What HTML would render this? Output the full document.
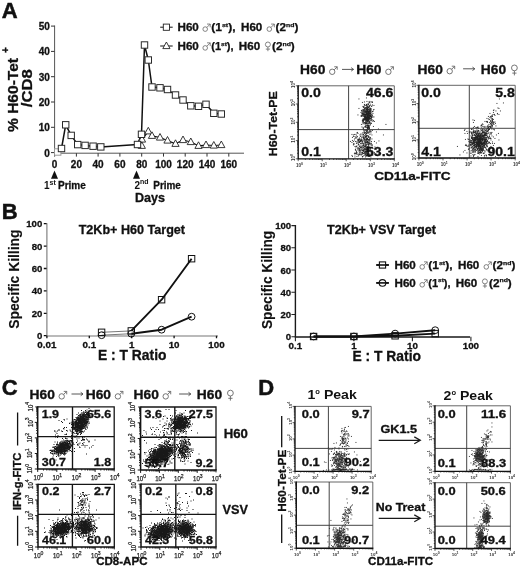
<!DOCTYPE html>
<html><head><meta charset="utf-8"><title>Figure</title>
<style>html,body{margin:0;padding:0;background:#fff}svg{display:block;filter:grayscale(1) blur(0.35px)}text{font-family:"Liberation Sans",sans-serif}</style></head>
<body>
<svg width="520" height="566" viewBox="0 0 520 566" font-family="Liberation Sans, sans-serif" font-weight="bold">
<rect width="520" height="566" fill="#fff"/>
<text x="1.8" y="17.6" font-size="22" font-weight="bold" fill="#111" stroke="#111" stroke-width="0.5" >A</text>
<text x="1.8" y="218.6" font-size="22" font-weight="bold" fill="#111" stroke="#111" stroke-width="0.5" >B</text>
<text x="1.8" y="395.2" font-size="22" font-weight="bold" fill="#111" stroke="#111" stroke-width="0.5" >C</text>
<text x="258.3" y="395.2" font-size="22" font-weight="bold" fill="#111" stroke="#111" stroke-width="0.5" >D</text>
<path d="M54.6 25.5V153.2M54.1 153.2H244" stroke="#555" stroke-width="1" fill="none"/>
<path d="M54.6 152.6h-3.6M54.6 127.3h-3.6M54.6 102.0h-3.6M54.6 76.7h-3.6M54.6 51.4h-3.6M54.6 26.1h-3.6M54.6 153.2v3.4M76.4 153.2v3.4M98.1 153.2v3.4M119.9 153.2v3.4M141.7 153.2v3.4M163.5 153.2v3.4M185.2 153.2v3.4M207.0 153.2v3.4M228.8 153.2v3.4" stroke="#333" stroke-width="1" fill="none"/>
<text x="49.8" y="156.5" font-size="10" font-weight="bold" fill="#111" stroke="#111" stroke-width="0.3" text-anchor="end" >0</text>
<text x="49.8" y="131.2" font-size="10" font-weight="bold" fill="#111" stroke="#111" stroke-width="0.3" text-anchor="end" >10</text>
<text x="49.8" y="105.9" font-size="10" font-weight="bold" fill="#111" stroke="#111" stroke-width="0.3" text-anchor="end" >20</text>
<text x="49.8" y="80.6" font-size="10" font-weight="bold" fill="#111" stroke="#111" stroke-width="0.3" text-anchor="end" >30</text>
<text x="49.8" y="55.3" font-size="10" font-weight="bold" fill="#111" stroke="#111" stroke-width="0.3" text-anchor="end" >40</text>
<text x="49.8" y="30.0" font-size="10" font-weight="bold" fill="#111" stroke="#111" stroke-width="0.3" text-anchor="end" >50</text>
<text x="54.6" y="167.8" font-size="10" font-weight="bold" fill="#111" stroke="#111" stroke-width="0.3" text-anchor="middle" >0</text>
<text x="76.4" y="167.8" font-size="10" font-weight="bold" fill="#111" stroke="#111" stroke-width="0.3" text-anchor="middle" >20</text>
<text x="98.1" y="167.8" font-size="10" font-weight="bold" fill="#111" stroke="#111" stroke-width="0.3" text-anchor="middle" >40</text>
<text x="119.9" y="167.8" font-size="10" font-weight="bold" fill="#111" stroke="#111" stroke-width="0.3" text-anchor="middle" >60</text>
<text x="141.7" y="167.8" font-size="10" font-weight="bold" fill="#111" stroke="#111" stroke-width="0.3" text-anchor="middle" >80</text>
<text x="163.5" y="167.8" font-size="10" font-weight="bold" fill="#111" stroke="#111" stroke-width="0.3" text-anchor="middle" >100</text>
<text x="185.2" y="167.8" font-size="10" font-weight="bold" fill="#111" stroke="#111" stroke-width="0.3" text-anchor="middle" >120</text>
<text x="207.0" y="167.8" font-size="10" font-weight="bold" fill="#111" stroke="#111" stroke-width="0.3" text-anchor="middle" >140</text>
<text x="228.8" y="167.8" font-size="10" font-weight="bold" fill="#111" stroke="#111" stroke-width="0.3" text-anchor="middle" >160</text>
<text x="17.6" y="132" font-size="15.3" font-weight="bold" fill="#111" stroke="#111" stroke-width="0.3" textLength="74" lengthAdjust="spacingAndGlyphs" transform="rotate(-90 17.6 132)" >% H60-Tet</text>
<text x="9" y="53" font-size="10" font-weight="bold" fill="#111" stroke="#111" stroke-width="0.3" transform="rotate(-90 9 53)" >+</text>
<text x="32.3" y="107.2" font-size="15" font-weight="bold" fill="#111" stroke="#111" stroke-width="0.3" textLength="38" lengthAdjust="spacingAndGlyphs" transform="rotate(-90 32.3 107.2)" >/CD8</text>
<polyline points="57.7,152 61.5,148.5 65.7,124.8 71.2,135.4 77.7,144.6 85.1,145.4 93.1,146.2 100.8,146.9 137.5,144.5 141.5,134.3 144.5,45 148.3,60 152,87 160,87.8 167.5,89.5 175.5,95 183,100 190.8,105.8 198.5,106.3 206,104.3 213.8,113.3 221.3,114" fill="none" stroke="#111" stroke-width="1.5" stroke-linejoin="round"/>
<polyline points="142,139.5 148.3,131.3 152,135.8 160,137.5 167.5,140.5 175.5,143.8 183,140 190.8,142 198.5,145.8 206,145 213.8,145.5 221.3,145" fill="none" stroke="#111" stroke-width="1.25" stroke-linejoin="round"/>
<path d="M141.8 141.8L145.4 148.4H138.20000000000002Z" fill="#fff" stroke="#222" stroke-width="0.9"/>
<path d="M142 135.5L145.6 142.1H138.4Z" fill="#fff" stroke="#222" stroke-width="0.9"/>
<path d="M148.3 127.30000000000001L151.9 133.9H144.70000000000002Z" fill="#fff" stroke="#222" stroke-width="0.9"/>
<path d="M152 131.8L155.6 138.4H148.4Z" fill="#fff" stroke="#222" stroke-width="0.9"/>
<path d="M160 133.5L163.6 140.1H156.4Z" fill="#fff" stroke="#222" stroke-width="0.9"/>
<path d="M167.5 136.5L171.1 143.1H163.9Z" fill="#fff" stroke="#222" stroke-width="0.9"/>
<path d="M175.5 139.8L179.1 146.4H171.9Z" fill="#fff" stroke="#222" stroke-width="0.9"/>
<path d="M183 136L186.6 142.6H179.4Z" fill="#fff" stroke="#222" stroke-width="0.9"/>
<path d="M190.8 138L194.4 144.6H187.20000000000002Z" fill="#fff" stroke="#222" stroke-width="0.9"/>
<path d="M198.5 141.8L202.1 148.4H194.9Z" fill="#fff" stroke="#222" stroke-width="0.9"/>
<path d="M206 141L209.6 147.6H202.4Z" fill="#fff" stroke="#222" stroke-width="0.9"/>
<path d="M213.8 141.5L217.4 148.1H210.20000000000002Z" fill="#fff" stroke="#222" stroke-width="0.9"/>
<path d="M221.3 141L224.9 147.6H217.70000000000002Z" fill="#fff" stroke="#222" stroke-width="0.9"/>
<rect x="54.5" y="148.8" width="6.4" height="6.4" fill="#fff" stroke="#999" stroke-width="1"/>
<rect x="58.3" y="145.3" width="6.4" height="6.4" fill="#fff" stroke="#2a2a2a" stroke-width="1"/>
<rect x="62.5" y="121.6" width="6.4" height="6.4" fill="#fff" stroke="#2a2a2a" stroke-width="1"/>
<rect x="68.0" y="132.20000000000002" width="6.4" height="6.4" fill="#fff" stroke="#2a2a2a" stroke-width="1"/>
<rect x="74.5" y="141.4" width="6.4" height="6.4" fill="#fff" stroke="#2a2a2a" stroke-width="1"/>
<rect x="81.89999999999999" y="142.20000000000002" width="6.4" height="6.4" fill="#fff" stroke="#2a2a2a" stroke-width="1"/>
<rect x="89.89999999999999" y="143.0" width="6.4" height="6.4" fill="#fff" stroke="#2a2a2a" stroke-width="1"/>
<rect x="97.6" y="143.70000000000002" width="6.4" height="6.4" fill="#fff" stroke="#2a2a2a" stroke-width="1"/>
<rect x="134.3" y="141.3" width="6.4" height="6.4" fill="#fff" stroke="#2a2a2a" stroke-width="1"/>
<rect x="138.3" y="131.10000000000002" width="6.4" height="6.4" fill="#fff" stroke="#2a2a2a" stroke-width="1"/>
<rect x="141.3" y="41.8" width="6.4" height="6.4" fill="#fff" stroke="#2a2a2a" stroke-width="1"/>
<rect x="145.10000000000002" y="56.8" width="6.4" height="6.4" fill="#fff" stroke="#2a2a2a" stroke-width="1"/>
<rect x="148.8" y="83.8" width="6.4" height="6.4" fill="#fff" stroke="#2a2a2a" stroke-width="1"/>
<rect x="156.8" y="84.6" width="6.4" height="6.4" fill="#fff" stroke="#2a2a2a" stroke-width="1"/>
<rect x="164.3" y="86.3" width="6.4" height="6.4" fill="#fff" stroke="#2a2a2a" stroke-width="1"/>
<rect x="172.3" y="91.8" width="6.4" height="6.4" fill="#fff" stroke="#2a2a2a" stroke-width="1"/>
<rect x="179.8" y="96.8" width="6.4" height="6.4" fill="#fff" stroke="#2a2a2a" stroke-width="1"/>
<rect x="187.60000000000002" y="102.6" width="6.4" height="6.4" fill="#fff" stroke="#2a2a2a" stroke-width="1"/>
<rect x="195.3" y="103.1" width="6.4" height="6.4" fill="#fff" stroke="#2a2a2a" stroke-width="1"/>
<rect x="202.8" y="101.1" width="6.4" height="6.4" fill="#fff" stroke="#2a2a2a" stroke-width="1"/>
<rect x="210.60000000000002" y="110.1" width="6.4" height="6.4" fill="#fff" stroke="#2a2a2a" stroke-width="1"/>
<rect x="218.10000000000002" y="110.8" width="6.4" height="6.4" fill="#fff" stroke="#2a2a2a" stroke-width="1"/>
<path d="M54.5 170.6L58.0 178.8H51.0Z" fill="#111"/>
<path d="M136.5 170.6L140.0 178.8H133.0Z" fill="#111"/>
<text x="44" y="188.8" font-size="10" fill="#111">1<tspan dy="-4.2" font-size="7">st</tspan></text>
<text x="58" y="188.8" font-size="10" font-weight="bold" fill="#111" stroke="#111" stroke-width="0.3" textLength="27.8" lengthAdjust="spacingAndGlyphs" >Prime</text>
<text x="134.5" y="188.6" font-size="10" fill="#111">2<tspan dy="-4.2" font-size="7">nd</tspan></text>
<text x="153.3" y="188.6" font-size="10" font-weight="bold" fill="#111" stroke="#111" stroke-width="0.3" textLength="27.6" lengthAdjust="spacingAndGlyphs" >Prime</text>
<text x="135" y="201.5" font-size="12" font-weight="bold" fill="#111" stroke="#111" stroke-width="0.3" textLength="30" lengthAdjust="spacingAndGlyphs" >Days</text>
<path d="M160.2 27.2H172.7" stroke="#111" stroke-width="1"/>
<rect x="163.29999999999998" y="24.099999999999998" width="6.2" height="6.2" fill="#fff" stroke="#222" stroke-width="0.9"/>
<text x="177.5" y="30.9" font-size="10.3" font-weight="bold" fill="#111" stroke="#111" stroke-width="0.3" textLength="21.3" lengthAdjust="spacingAndGlyphs" >H60</text>
<g fill="none" stroke="#666" stroke-width="0.8"><circle cx="205.2" cy="29.099999999999998" r="2.3"/><path d="M206.83 27.47L210.23 24.07M207.00 24.07H210.23V27.30"/></g>
<text x="211.2" y="30.9" font-size="10.3" fill="#111" stroke="#111" stroke-width="0.25" textLength="24.4" lengthAdjust="spacingAndGlyphs">(1<tspan dy="-4.2" font-size="6">st</tspan><tspan dy="4.2">),</tspan></text>
<text x="241.0" y="30.9" font-size="10.3" font-weight="bold" fill="#111" stroke="#111" stroke-width="0.3" textLength="21.3" lengthAdjust="spacingAndGlyphs" >H60</text>
<g fill="none" stroke="#666" stroke-width="0.8"><circle cx="269.3" cy="29.099999999999998" r="2.3"/><path d="M270.93 27.47L274.33 24.07M271.10 24.07H274.33V27.30"/></g>
<text x="275.6" y="30.9" font-size="10.3" fill="#111" stroke="#111" stroke-width="0.25" textLength="22.8" lengthAdjust="spacingAndGlyphs">(2<tspan dy="-4.2" font-size="6">nd</tspan><tspan dy="4.2">)</tspan></text>
<path d="M160.2 46H172.7" stroke="#111" stroke-width="1"/>
<path d="M166.39999999999998 42L169.99999999999997 48.6H162.79999999999998Z" fill="#fff" stroke="#222" stroke-width="0.9"/>
<text x="177.5" y="49.7" font-size="10.3" font-weight="bold" fill="#111" stroke="#111" stroke-width="0.3" textLength="21.3" lengthAdjust="spacingAndGlyphs" >H60</text>
<g fill="none" stroke="#666" stroke-width="0.8"><circle cx="205.2" cy="47.900000000000006" r="2.3"/><path d="M206.83 46.27L210.23 42.87M207.00 42.87H210.23V46.10"/></g>
<text x="211.2" y="49.7" font-size="10.3" fill="#111" stroke="#111" stroke-width="0.25" textLength="22.4" lengthAdjust="spacingAndGlyphs">(1<tspan dy="-4.2" font-size="6">st</tspan><tspan dy="4.2">),</tspan></text>
<text x="238.8" y="49.7" font-size="10.3" font-weight="bold" fill="#111" stroke="#111" stroke-width="0.3" textLength="21.3" lengthAdjust="spacingAndGlyphs" >H60</text>
<g fill="none" stroke="#666" stroke-width="0.8"><circle cx="267.9" cy="44.5" r="2.5"/><path d="M267.9 47.0V51.2M265.79999999999995 49.10H270.0"/></g>
<text x="272.0" y="49.7" font-size="10.3" fill="#111" stroke="#111" stroke-width="0.25" textLength="22.8" lengthAdjust="spacingAndGlyphs">(2<tspan dy="-4.2" font-size="6">nd</tspan><tspan dy="4.2">)</tspan></text>
<text x="300" y="74.2" font-size="12" font-weight="bold" fill="#111" stroke="#111" stroke-width="0.3" textLength="25.3" lengthAdjust="spacingAndGlyphs" >H60</text>
<g fill="none" stroke="#666" stroke-width="0.9"><circle cx="332.2" cy="71.8" r="2.7"/><path d="M334.11 69.89L337.21 66.79M334.26 66.79H337.21V69.74"/></g>
<path d="M342 69.4H353.5M351.2 67.7L353.5 69.4L351.2 71.10000000000001" fill="none" stroke="#444" stroke-width="0.9"/>
<text x="356.2" y="74.2" font-size="12" font-weight="bold" fill="#111" stroke="#111" stroke-width="0.3" textLength="25.3" lengthAdjust="spacingAndGlyphs" >H60</text>
<g fill="none" stroke="#666" stroke-width="0.9"><circle cx="388.4" cy="71.8" r="2.7"/><path d="M390.31 69.89L393.41 66.79M390.46 66.79H393.41V69.74"/></g>
<text x="417.5" y="73.6" font-size="12" font-weight="bold" fill="#111" stroke="#111" stroke-width="0.3" textLength="25.3" lengthAdjust="spacingAndGlyphs" >H60</text>
<g fill="none" stroke="#666" stroke-width="0.9"><circle cx="449.7" cy="71.19999999999999" r="2.7"/><path d="M451.61 69.29L454.71 66.19M451.76 66.19H454.71V69.14"/></g>
<path d="M463.1 68.8H474.8M472.5 67.1L474.8 68.8L472.5 70.5" fill="none" stroke="#444" stroke-width="0.9"/>
<text x="480.8" y="73.6" font-size="12" font-weight="bold" fill="#111" stroke="#111" stroke-width="0.3" textLength="25.3" lengthAdjust="spacingAndGlyphs" >H60</text>
<g fill="none" stroke="#666" stroke-width="0.9"><circle cx="514.4" cy="67.89999999999999" r="2.9"/><path d="M514.4 70.8V75.39999999999999M512.3 73.10H516.5"/></g>
<rect x="298.2" y="85.8" width="96.10000000000002" height="73.00000000000001" fill="#fff" stroke="none"/>
<path transform="translate(0.45 0.45) scale(.5)" d="M700 282h0m3-14h0m0 16h0m0 26h0m1-36h0m0 6h0m0 32h0m2-43h0m0 3h0m0 10h0m0 5h0m0 2h0m1-3h0m0 2h0m1-20h0m0 11h0m0 27h0m1-34h0m0 4h0m0 16h0m0 13h0m0 4h0m0 4h0m1-31h0m0 16h0m0 1h0m0 7h0m1-38h0m0 6h0m0 1h0m0 17h0m0 3h0m0 5h0m0 6h0m1-35h0m0 12h0m0 3h0m0 6h0m0 10h0m0 2h0m0 2h0m1-41h0m0 10h0m0 16h0m0 13h0m0 4h0m0 4h0m1-48h0m0 8h0m0 7h0m0 6h0m1-56h0m0 37h0m0 13h0m0 3h0m0 12h0m0 2h0m0 1h0m0 2h0m0 8h0m1-29h0m0 1h0m0 1h0m0 3h0m0 4h0m0 1h0m0 1h0m0 20h0m0 2h0m1-114h0m0 19h0m0 61h0m0 3h0m0 4h0m0 11h0m0 2h0m0 4h0m1-26h0m0 3h0m0 5h0m0 1h0m0 8h0m0 4h0m0 2h0m0 2h0m0 3h0m0 2h0m0 3h0m1-39h0m0 8h0m0 4h0m0 1h0m0 1h0m0 6h0m0 2h0m0 9h0m0 7h0m0 2h0m1-37h0m0 7h0m0 1h0m0 2h0m0 4h0m0 7h0m0 1h0m0 1h0m0 4h0m0 4h0m1-79h0m0 7h0m0 36h0m0 2h0m0 12h0m0 20h0m0 4h0m0 3h0m1-88h0m0 10h0m0 2h0m0 16h0m0 29h0m0 2h0m0 1h0m0 1h0m0 12h0m0 1h0m0 3h0m0 2h0m0 10h0m1-89h0m0 2h0m0 3h0m0 1h0m0 3h0m0 24h0m0 20h0m0 1h0m0 4h0m0 3h0m0 4h0m0 1h0m0 1h0m0 4h0m0 13h0m0 3h0m1-103h0m0 19h0m0 3h0m0 2h0m0 2h0m0 9h0m0 1h0m0 3h0m0 22h0m0 17h0m0 3h0m0 6h0m0 4h0m0 5h0m0 4h0m0 1h0m0 2h0m0 5h0m0 1h0m1-101h0m0 6h0m0 2h0m0 5h0m0 1h0m0 6h0m0 5h0m0 4h0m0 2h0m0 4h0m0 8h0m0 13h0m0 3h0m0 9h0m0 3h0m0 10h0m0 4h0m0 2h0m0 1h0m0 1h0m0 4h0m0 7h0m1-99h0m0 1h0m0 5h0m0 2h0m0 2h0m0 4h0m0 1h0m0 1h0m0 2h0m0 7h0m0 1h0m0 1h0m0 2h0m0 3h0m0 11h0m0 2h0m0 10h0m0 1h0m0 4h0m0 1h0m0 2h0m0 11h0m0 2h0m0 1h0m0 1h0m0 3h0m0 5h0m0 1h0m0 2h0m0 4h0m1-94h0m0 6h0m0 2h0m0 2h0m0 2h0m0 2h0m0 1h0m0 1h0m0 1h0m0 2h0m0 5h0m0 1h0m0 2h0m0 6h0m0 9h0m0 6h0m0 3h0m0 2h0m0 8h0m0 2h0m0 2h0m0 2h0m0 7h0m0 1h0m0 3h0m0 7h0m0 9h0m0 4h0m1-107h0m0 5h0m0 1h0m0 7h0m0 3h0m0 2h0m0 7h0m0 1h0m0 2h0m0 1h0m0 1h0m0 2h0m0 3h0m0 1h0m0 5h0m0 15h0m0 4h0m0 2h0m0 12h0m0 2h0m0 4h0m0 9h0m0 3h0m0 3h0m0 3h0m0 3h0m1-94h0m0 4h0m0 1h0m0 2h0m0 1h0m0 3h0m0 1h0m0 1h0m0 1h0m0 1h0m0 2h0m0 1h0m0 1h0m0 2h0m0 1h0m0 1h0m0 1h0m0 1h0m0 1h0m0 1h0m0 1h0m0 7h0m0 2h0m0 5h0m0 13h0m0 1h0m0 4h0m0 1h0m0 3h0m0 2h0m0 2h0m0 1h0m0 2h0m0 2h0m0 6h0m0 3h0m0 4h0m0 1h0m0 4h0m0 2h0m0 3h0m0 1h0m0 2h0m1-94h0m0 6h0m0 2h0m0 2h0m0 3h0m0 1h0m0 2h0m0 1h0m0 1h0m0 1h0m0 1h0m0 1h0m0 1h0m0 1h0m0 1h0m0 6h0m0 1h0m0 1h0m0 5h0m0 1h0m0 6h0m0 5h0m0 4h0m0 4h0m0 1h0m0 10h0m0 1h0m0 3h0m0 3h0m0 2h0m0 3h0m0 3h0m0 3h0m0 1h0m0 1h0m0 2h0m0 2h0m0 2h0m0 4h0m1-103h0m0 5h0m0 1h0m0 3h0m0 2h0m0 1h0m0 1h0m0 5h0m0 1h0m0 1h0m0 1h0m0 3h0m0 1h0m0 3h0m0 2h0m0 1h0m0 1h0m0 1h0m0 1h0m0 1h0m0 5h0m0 1h0m0 1h0m0 2h0m0 6h0m0 13h0m0 1h0m0 4h0m0 2h0m0 1h0m0 3h0m0 2h0m0 2h0m0 4h0m0 3h0m0 3h0m0 6h0m0 4h0m0 3h0m1-116h0m0 13h0m0 1h0m0 5h0m0 1h0m0 3h0m0 1h0m0 3h0m0 1h0m0 1h0m0 1h0m0 1h0m0 1h0m0 1h0m0 1h0m0 4h0m0 1h0m0 1h0m0 1h0m0 1h0m0 1h0m0 2h0m0 1h0m0 5h0m0 1h0m0 11h0m0 3h0m0 1h0m0 4h0m0 1h0m0 3h0m0 1h0m0 1h0m0 5h0m0 1h0m0 6h0m0 5h0m0 2h0m0 3h0m0 1h0m0 3h0m0 3h0m0 1h0m0 1h0m0 2h0m0 5h0m0 1h0m1-109h0m0 6h0m0 2h0m0 1h0m0 1h0m0 4h0m0 2h0m0 2h0m0 1h0m0 1h0m0 1h0m0 3h0m0 1h0m0 1h0m0 1h0m0 2h0m0 1h0m0 1h0m0 1h0m0 1h0m0 1h0m0 2h0m0 1h0m0 4h0m0 1h0m0 1h0m0 1h0m0 4h0m0 4h0m0 6h0m0 4h0m0 1h0m0 1h0m0 6h0m0 3h0m0 1h0m0 1h0m0 2h0m0 1h0m0 2h0m0 1h0m0 5h0m0 8h0m0 1h0m0 2h0m0 2h0m0 3h0m0 2h0m0 3h0m0 1h0m1-98h0m0 2h0m0 1h0m0 1h0m0 1h0m0 1h0m0 1h0m0 1h0m0 1h0m0 1h0m0 1h0m0 2h0m0 1h0m0 1h0m0 2h0m0 1h0m0 1h0m0 1h0m0 1h0m0 1h0m0 1h0m0 1h0m0 1h0m0 1h0m0 1h0m0 1h0m0 1h0m0 1h0m0 7h0m0 1h0m0 3h0m0 1h0m0 1h0m0 1h0m0 2h0m0 2h0m0 3h0m0 7h0m0 6h0m0 1h0m0 1h0m0 4h0m0 1h0m0 1h0m0 3h0m0 6h0m0 1h0m0 1h0m0 2h0m0 1h0m0 2h0m0 2h0m0 1h0m0 2h0m0 5h0m1-103h0m0 10h0m0 4h0m0 1h0m0 1h0m0 1h0m0 1h0m0 3h0m0 1h0m0 1h0m0 1h0m0 1h0m0 1h0m0 1h0m0 1h0m0 2h0m0 1h0m0 1h0m0 1h0m0 2h0m0 4h0m0 1h0m0 3h0m0 1h0m0 2h0m0 2h0m0 2h0m0 1h0m0 4h0m0 2h0m0 14h0m0 4h0m0 2h0m0 1h0m0 7h0m0 1h0m0 3h0m0 6h0m0 1h0m0 1h0m0 2h0m0 4h0m0 2h0m1-105h0m0 1h0m0 5h0m0 1h0m0 1h0m0 3h0m0 1h0m0 3h0m0 1h0m0 1h0m0 1h0m0 1h0m0 1h0m0 1h0m0 1h0m0 2h0m0 2h0m0 1h0m0 1h0m0 1h0m0 2h0m0 1h0m0 1h0m0 1h0m0 4h0m0 5h0m0 1h0m0 1h0m0 1h0m0 1h0m0 1h0m0 3h0m0 7h0m0 6h0m0 1h0m0 2h0m0 4h0m0 7h0m0 2h0m0 1h0m0 1h0m0 2h0m0 7h0m0 1h0m0 1h0m0 2h0m0 1h0m0 1h0m0 2h0m0 1h0m0 5h0m1-109h0m0 8h0m0 3h0m0 5h0m0 2h0m0 2h0m0 1h0m0 1h0m0 1h0m0 1h0m0 1h0m0 1h0m0 1h0m0 1h0m0 1h0m0 1h0m0 1h0m0 1h0m0 1h0m0 1h0m0 1h0m0 4h0m0 3h0m0 2h0m0 3h0m0 4h0m0 1h0m0 1h0m0 9h0m0 7h0m0 7h0m0 1h0m0 1h0m0 3h0m0 1h0m0 4h0m0 3h0m0 3h0m0 1h0m0 2h0m0 2h0m0 2h0m0 1h0m0 7h0m0 1h0m1-107h0m0 7h0m0 1h0m0 5h0m0 4h0m0 1h0m0 1h0m0 2h0m0 1h0m0 1h0m0 2h0m0 1h0m0 3h0m0 1h0m0 1h0m0 1h0m0 1h0m0 4h0m0 1h0m0 2h0m0 1h0m0 6h0m0 2h0m0 2h0m0 1h0m0 3h0m0 2h0m0 2h0m0 12h0m0 3h0m0 5h0m0 3h0m0 1h0m0 20h0m0 5h0m1-110h0m0 3h0m0 5h0m0 5h0m0 2h0m0 1h0m0 1h0m0 1h0m0 1h0m0 1h0m0 2h0m0 2h0m0 3h0m0 1h0m0 1h0m0 1h0m0 1h0m0 3h0m0 2h0m0 6h0m0 2h0m0 17h0m0 5h0m0 7h0m0 2h0m0 3h0m0 7h0m0 10h0m0 2h0m0 2h0m0 11h0m1-103h0m0 7h0m0 1h0m0 2h0m0 3h0m0 3h0m0 1h0m0 1h0m0 2h0m0 1h0m0 1h0m0 1h0m0 4h0m0 11h0m0 2h0m0 12h0m0 13h0m0 3h0m0 18h0m0 2h0m1-78h0m0 1h0m0 3h0m0 2h0m0 2h0m0 5h0m0 1h0m0 2h0m0 1h0m0 1h0m0 3h0m0 1h0m0 4h0m0 16h0m0 1h0m0 3h0m0 18h0m0 3h0m0 1h0m0 2h0m0 6h0m0 7h0m0 3h0m0 8h0m1-110h0m0 9h0m0 5h0m0 12h0m0 2h0m0 2h0m0 1h0m0 3h0m0 2h0m0 7h0m0 36h0m0 5h0m0 18h0m1-94h0m0 12h0m0 5h0m0 4h0m0 2h0m0 35h0m0 8h0m0 13h0m0 17h0m1-104h0m0 1h0m0 5h0m0 13h0m0 8h0m0 9h0m0 21h0m0 29h0m0 15h0m0 5h0m1-87h0m0 4h0m0 7h0m0 9h0m0 54h0m0 13h0m1-90h0m0 21h0m0 12h0m1-42h0m0 8h0m0 15h0m1 9h0m0 40h0m0 22h0m1-11h0m2 5h0m1-35h0m0 22h0m4-28h0m0 50h0m1-26h0m9-12h0m5-21h0" fill="none" stroke="#222" stroke-width="1.8" stroke-linecap="square"/>
<path d="M298.2 85.8H394.3V158.8" stroke="#555" stroke-width="0.9" fill="none"/>
<path d="M348.6 85.8V158.8M298.2 129.6H394.3" stroke="#3a3a3a" stroke-width="0.95" fill="none"/>
<path d="M298.2 85.3V158.8H394.8" stroke="#111" stroke-width="1.35" fill="none"/>
<path d="M298.2 158.8v2.4M298.2 158.8h-2.4M305.4 158.8v1.2M298.2 153.3h-1.2M309.7 158.8v1.2M298.2 150.1h-1.2M312.7 158.8v1.2M298.2 147.8h-1.2M315.0 158.8v1.2M298.2 146.0h-1.2M316.9 158.8v1.2M298.2 144.6h-1.2M318.5 158.8v1.2M298.2 143.4h-1.2M319.9 158.8v1.2M298.2 142.3h-1.2M321.1 158.8v1.2M298.2 141.4h-1.2M322.2 158.8v2.4M298.2 140.6h-2.4M329.5 158.8v1.2M298.2 135.1h-1.2M333.7 158.8v1.2M298.2 131.8h-1.2M336.7 158.8v1.2M298.2 129.6h-1.2M339.0 158.8v1.2M298.2 127.8h-1.2M340.9 158.8v1.2M298.2 126.3h-1.2M342.5 158.8v1.2M298.2 125.1h-1.2M343.9 158.8v1.2M298.2 124.1h-1.2M345.2 158.8v1.2M298.2 123.1h-1.2M346.2 158.8v2.4M298.2 122.3h-2.4M353.5 158.8v1.2M298.2 116.8h-1.2M357.7 158.8v1.2M298.2 113.6h-1.2M360.7 158.8v1.2M298.2 111.3h-1.2M363.0 158.8v1.2M298.2 109.5h-1.2M364.9 158.8v1.2M298.2 108.1h-1.2M366.6 158.8v1.2M298.2 106.9h-1.2M367.9 158.8v1.2M298.2 105.8h-1.2M369.2 158.8v1.2M298.2 104.9h-1.2M370.3 158.8v2.4M298.2 104.0h-2.4M377.5 158.8v1.2M298.2 98.6h-1.2M381.7 158.8v1.2M298.2 95.3h-1.2M384.7 158.8v1.2M298.2 93.1h-1.2M387.1 158.8v1.2M298.2 91.3h-1.2M389.0 158.8v1.2M298.2 89.8h-1.2M390.6 158.8v1.2M298.2 88.6h-1.2M392.0 158.8v1.2M298.2 87.6h-1.2M393.2 158.8v1.2M298.2 86.6h-1.2M394.3 158.8v2.4M298.2 85.8h-2.4" stroke="#1a1a1a" stroke-width="0.7" fill="none"/>
<text x="296.0" y="166.5" font-size="4.5" font-weight="bold" fill="#333">10<tspan dy="-1.9" font-size="3.6">0</tspan></text>
<text x="295.0" y="161.0" font-size="4.5" font-weight="bold" fill="#333" transform="rotate(-90 295.0 161.0)">10<tspan dy="-1.9" font-size="3.6">0</tspan></text>
<text x="320.0" y="166.5" font-size="4.5" font-weight="bold" fill="#333">10<tspan dy="-1.9" font-size="3.6">1</tspan></text>
<text x="295.0" y="142.8" font-size="4.5" font-weight="bold" fill="#333" transform="rotate(-90 295.0 142.8)">10<tspan dy="-1.9" font-size="3.6">1</tspan></text>
<text x="344.1" y="166.5" font-size="4.5" font-weight="bold" fill="#333">10<tspan dy="-1.9" font-size="3.6">2</tspan></text>
<text x="295.0" y="124.5" font-size="4.5" font-weight="bold" fill="#333" transform="rotate(-90 295.0 124.5)">10<tspan dy="-1.9" font-size="3.6">2</tspan></text>
<text x="368.1" y="166.5" font-size="4.5" font-weight="bold" fill="#333">10<tspan dy="-1.9" font-size="3.6">3</tspan></text>
<text x="295.0" y="106.2" font-size="4.5" font-weight="bold" fill="#333" transform="rotate(-90 295.0 106.2)">10<tspan dy="-1.9" font-size="3.6">3</tspan></text>
<text x="392.1" y="166.5" font-size="4.5" font-weight="bold" fill="#333">10<tspan dy="-1.9" font-size="3.6">4</tspan></text>
<text x="295.0" y="88.0" font-size="4.5" font-weight="bold" fill="#333" transform="rotate(-90 295.0 88.0)">10<tspan dy="-1.9" font-size="3.6">4</tspan></text>
<text x="301.2" y="97.39999999999999" font-size="12" font-weight="bold" fill="#111" stroke="#111" stroke-width="0.3" textLength="19.6" lengthAdjust="spacingAndGlyphs" >0.0</text>
<text x="393.40000000000003" y="97.39999999999999" font-size="12" font-weight="bold" fill="#111" stroke="#111" stroke-width="0.3" text-anchor="end" textLength="27.4" lengthAdjust="spacingAndGlyphs" >46.6</text>
<text x="301.2" y="156.20000000000002" font-size="12" font-weight="bold" fill="#111" stroke="#111" stroke-width="0.3" textLength="19.6" lengthAdjust="spacingAndGlyphs" >0.1</text>
<text x="393.40000000000003" y="156.20000000000002" font-size="12" font-weight="bold" fill="#111" stroke="#111" stroke-width="0.3" text-anchor="end" textLength="27.4" lengthAdjust="spacingAndGlyphs" >53.3</text>
<rect x="418.9" y="85.3" width="96.30000000000007" height="72.7" fill="#fff" stroke="none"/>
<path transform="translate(0.45 0.45) scale(.5)" d="M914 292h0m5 17h0m7-6h0m2-43h0m1-2h0m0 8h0m0 34h0m1-22h0m0 12h0m1-2h0m1 2h0m1-28h0m0 29h0m0 14h0m1-39h0m1 11h0m0 15h0m1-14h0m0 13h0m0 7h0m1-16h0m0 7h0m0 7h0m1-34h0m0 2h0m0 1h0m0 18h0m1-5h0m0 3h0m0 3h0m0 1h0m1-22h0m0 18h0m0 3h0m0 4h0m0 1h0m1-18h0m0 9h0m0 2h0m0 3h0m0 3h0m0 2h0m0 1h0m0 4h0m0 6h0m0 4h0m0 1h0m0 5h0m1-53h0m0 6h0m0 2h0m0 8h0m0 1h0m0 1h0m0 4h0m0 3h0m0 1h0m0 3h0m0 7h0m1-38h0m0 2h0m0 5h0m0 3h0m0 2h0m0 4h0m0 2h0m0 1h0m0 10h0m0 3h0m0 3h0m0 4h0m0 5h0m1-35h0m0 4h0m0 1h0m0 1h0m0 4h0m0 1h0m0 2h0m0 1h0m0 6h0m0 1h0m0 2h0m0 4h0m0 6h0m0 3h0m1-62h0m0 35h0m0 2h0m0 3h0m0 2h0m0 2h0m0 1h0m0 2h0m0 8h0m0 2h0m0 7h0m0 1h0m0 4h0m1-64h0m0 10h0m0 5h0m0 2h0m0 1h0m0 1h0m0 1h0m0 1h0m0 10h0m0 3h0m0 2h0m0 2h0m0 1h0m0 2h0m0 1h0m0 1h0m0 3h0m0 3h0m0 3h0m0 1h0m0 4h0m0 9h0m0 2h0m1-45h0m0 3h0m0 4h0m0 2h0m0 2h0m0 1h0m0 1h0m0 2h0m0 1h0m0 1h0m0 5h0m0 1h0m0 7h0m0 2h0m0 2h0m0 2h0m1-63h0m0 12h0m0 9h0m0 3h0m0 4h0m0 1h0m0 5h0m0 2h0m0 2h0m0 1h0m0 1h0m0 1h0m0 2h0m0 1h0m0 1h0m0 1h0m0 2h0m0 1h0m0 1h0m0 3h0m0 1h0m0 3h0m0 12h0m1-46h0m0 1h0m0 6h0m0 4h0m0 1h0m0 2h0m0 1h0m0 1h0m0 2h0m0 2h0m0 2h0m0 5h0m0 1h0m0 1h0m0 2h0m0 4h0m0 2h0m0 3h0m0 5h0m1-46h0m0 1h0m0 2h0m0 5h0m0 1h0m0 2h0m0 1h0m0 2h0m0 1h0m0 1h0m0 1h0m0 1h0m0 1h0m0 3h0m0 4h0m0 4h0m0 6h0m0 3h0m0 2h0m1-49h0m0 6h0m0 3h0m0 3h0m0 1h0m0 2h0m0 3h0m0 2h0m0 1h0m0 1h0m0 4h0m0 1h0m0 3h0m0 3h0m0 1h0m0 1h0m0 3h0m0 2h0m0 2h0m1-41h0m0 10h0m0 2h0m0 1h0m0 1h0m0 3h0m0 1h0m0 1h0m0 1h0m0 2h0m0 1h0m0 1h0m0 4h0m0 1h0m0 1h0m0 1h0m0 3h0m0 1h0m0 1h0m0 1h0m0 1h0m0 1h0m0 6h0m1-41h0m0 3h0m0 5h0m0 2h0m0 2h0m0 3h0m0 1h0m0 1h0m0 2h0m0 4h0m0 1h0m0 1h0m0 1h0m0 1h0m0 1h0m0 2h0m0 1h0m0 2h0m0 1h0m0 4h0m1-43h0m0 9h0m0 2h0m0 2h0m0 3h0m0 2h0m0 1h0m0 1h0m0 1h0m0 1h0m0 2h0m0 1h0m0 1h0m0 3h0m0 1h0m0 2h0m0 1h0m0 1h0m0 1h0m0 7h0m0 1h0m0 1h0m0 1h0m1-46h0m0 1h0m0 6h0m0 2h0m0 2h0m0 2h0m0 3h0m0 1h0m0 1h0m0 1h0m0 2h0m0 1h0m0 1h0m0 1h0m0 2h0m0 1h0m0 2h0m0 1h0m0 1h0m0 2h0m0 1h0m0 1h0m0 1h0m0 1h0m0 1h0m0 1h0m0 1h0m0 5h0m0 3h0m0 2h0m0 2h0m0 1h0m0 6h0m1-56h0m0 4h0m0 1h0m0 6h0m0 1h0m0 2h0m0 1h0m0 2h0m0 4h0m0 1h0m0 1h0m0 2h0m0 1h0m0 1h0m0 1h0m0 1h0m0 1h0m0 2h0m0 1h0m0 1h0m0 1h0m0 1h0m0 2h0m0 1h0m0 1h0m0 5h0m0 5h0m1-45h0m0 5h0m0 1h0m0 1h0m0 3h0m0 1h0m0 1h0m0 2h0m0 1h0m0 1h0m0 1h0m0 1h0m0 1h0m0 1h0m0 1h0m0 1h0m0 1h0m0 1h0m0 1h0m0 1h0m0 1h0m0 1h0m0 1h0m0 1h0m0 1h0m0 5h0m0 3h0m0 3h0m0 1h0m1-39h0m0 1h0m0 3h0m0 2h0m0 1h0m0 1h0m0 2h0m0 1h0m0 1h0m0 1h0m0 1h0m0 2h0m0 1h0m0 1h0m0 1h0m0 1h0m0 1h0m0 1h0m0 1h0m0 1h0m0 1h0m0 2h0m0 1h0m0 4h0m0 1h0m0 2h0m0 4h0m0 3h0m1-44h0m0 7h0m0 1h0m0 1h0m0 2h0m0 1h0m0 1h0m0 1h0m0 1h0m0 1h0m0 1h0m0 1h0m0 2h0m0 2h0m0 2h0m0 2h0m0 1h0m0 1h0m0 1h0m0 2h0m0 1h0m0 1h0m0 1h0m0 3h0m0 1h0m1-34h0m0 2h0m0 1h0m0 2h0m0 2h0m0 2h0m0 1h0m0 1h0m0 1h0m0 1h0m0 1h0m0 1h0m0 1h0m0 1h0m0 1h0m0 1h0m0 1h0m0 3h0m0 2h0m0 1h0m0 1h0m0 2h0m0 2h0m0 3h0m0 2h0m0 1h0m0 1h0m1-54h0m0 7h0m0 3h0m0 4h0m0 2h0m0 1h0m0 1h0m0 1h0m0 1h0m0 2h0m0 1h0m0 1h0m0 1h0m0 1h0m0 2h0m0 1h0m0 1h0m0 1h0m0 1h0m0 1h0m0 1h0m0 1h0m0 1h0m0 2h0m0 2h0m0 2h0m0 1h0m0 1h0m0 1h0m0 2h0m0 1h0m0 3h0m0 3h0m1-56h0m0 1h0m0 5h0m0 5h0m0 6h0m0 3h0m0 3h0m0 3h0m0 3h0m0 5h0m0 1h0m0 1h0m0 1h0m0 1h0m0 1h0m0 3h0m0 4h0m0 1h0m0 2h0m0 1h0m0 1h0m0 4h0m0 6h0m1-59h0m0 15h0m0 3h0m0 2h0m0 3h0m0 1h0m0 1h0m0 1h0m0 1h0m0 1h0m0 2h0m0 2h0m0 2h0m0 1h0m0 1h0m0 1h0m0 1h0m0 2h0m0 2h0m0 4h0m0 3h0m0 5h0m1-58h0m0 11h0m0 2h0m0 2h0m0 2h0m0 1h0m0 4h0m0 2h0m0 1h0m0 3h0m0 1h0m0 1h0m0 1h0m0 1h0m0 1h0m0 1h0m0 4h0m0 1h0m0 1h0m0 1h0m0 4h0m0 1h0m0 2h0m0 1h0m0 2h0m0 1h0m0 1h0m0 2h0m1-54h0m0 4h0m0 4h0m0 8h0m0 1h0m0 4h0m0 1h0m0 1h0m0 1h0m0 5h0m0 1h0m0 1h0m0 2h0m0 4h0m0 2h0m0 1h0m0 1h0m0 1h0m0 2h0m0 3h0m0 4h0m0 1h0m1-39h0m0 2h0m0 2h0m0 5h0m0 1h0m0 2h0m0 1h0m0 3h0m0 7h0m0 2h0m0 1h0m0 3h0m0 3h0m0 3h0m0 2h0m0 8h0m1-53h0m0 5h0m0 5h0m0 1h0m0 5h0m0 2h0m0 1h0m0 3h0m0 1h0m0 1h0m0 1h0m0 2h0m0 2h0m0 2h0m0 1h0m0 1h0m0 2h0m0 3h0m0 2h0m0 1h0m0 6h0m0 5h0m0 1h0m1-42h0m0 3h0m0 1h0m0 1h0m0 1h0m0 1h0m0 3h0m0 4h0m0 2h0m0 2h0m0 1h0m0 1h0m0 2h0m0 1h0m0 2h0m0 1h0m0 1h0m0 2h0m0 17h0m0 3h0m1-71h0m0 10h0m0 2h0m0 4h0m0 2h0m0 2h0m0 3h0m0 1h0m0 3h0m0 2h0m0 4h0m0 1h0m0 2h0m0 1h0m0 3h0m0 1h0m0 1h0m0 1h0m0 1h0m0 2h0m0 3h0m0 3h0m0 7h0m0 2h0m1-43h0m0 5h0m0 1h0m0 2h0m0 1h0m0 1h0m0 5h0m0 3h0m0 1h0m0 1h0m0 1h0m0 1h0m0 5h0m0 1h0m0 6h0m1-30h0m0 3h0m0 4h0m0 3h0m0 1h0m0 3h0m0 1h0m0 2h0m0 3h0m0 2h0m0 10h0m0 13h0m1-67h0m0 17h0m0 4h0m0 3h0m0 1h0m0 3h0m0 5h0m0 2h0m0 1h0m0 4h0m0 1h0m0 1h0m0 1h0m0 4h0m0 2h0m0 7h0m0 1h0m0 11h0m0 1h0m1-75h0m0 7h0m0 10h0m0 4h0m0 2h0m0 2h0m0 2h0m0 3h0m0 2h0m0 2h0m0 4h0m0 5h0m0 2h0m0 5h0m0 1h0m0 2h0m0 1h0m0 3h0m1-51h0m0 2h0m0 9h0m0 3h0m0 5h0m0 1h0m0 10h0m0 8h0m0 2h0m0 10h0m0 7h0m1-49h0m0 2h0m0 4h0m0 10h0m0 7h0m0 2h0m0 8h0m0 3h0m0 15h0m1-69h0m0 5h0m0 17h0m0 1h0m0 2h0m0 1h0m0 2h0m0 1h0m0 4h0m0 9h0m0 3h0m0 8h0m1-37h0m0 4h0m0 3h0m0 2h0m0 19h0m0 7h0m1-45h0m0 6h0m0 8h0m0 4h0m0 1h0m0 1h0m0 13h0m0 1h0m0 12h0m0 1h0m0 12h0m1-71h0m0 8h0m0 31h0m0 3h0m0 6h0m0 2h0m0 19h0m1-63h0m0 9h0m0 5h0m0 6h0m0 1h0m0 1h0m0 22h0m0 10h0m1-51h0m0 5h0m0 2h0m0 1h0m0 3h0m0 1h0m0 2h0m0 4h0m0 1h0m0 1h0m0 9h0m0 2h0m0 10h0m0 3h0m0 13h0m1-59h0m0 4h0m0 7h0m0 5h0m0 8h0m0 10h0m1-37h0m0 2h0m0 13h0m0 3h0m0 2h0m0 2h0m0 12h0m0 7h0m1-42h0m0 3h0m0 4h0m0 2h0m0 2h0m0 1h0m0 1h0m0 3h0m0 5h0m0 3h0m0 30h0m0 3h0m0 9h0m0 5h0m0 5h0m1-60h0m0 12h0m0 40h0m1-77h0m0 4h0m0 14h0m0 5h0m0 2h0m0 2h0m0 26h0m0 17h0m1-71h0m0 9h0m0 16h0m0 4h0m0 10h0m1-30h0m0 31h0m0 27h0m1-56h0m0 13h0m0 33h0m1-30h0m0 66h0m1-91h0m0 30h0m1 18h0m1-63h0m0 89h0m1-69h0m0 1h0m1-12h0m1 51h0m0 44h0m1-94h0m0 12h0m0 51h0m1-82h0m2 24h0m6-16h0" fill="none" stroke="#222" stroke-width="1.8" stroke-linecap="square"/>
<path d="M418.9 85.3H515.2V158" stroke="#555" stroke-width="0.9" fill="none"/>
<path d="M469.3 85.3V158M418.9 128.3H515.2" stroke="#3a3a3a" stroke-width="0.95" fill="none"/>
<path d="M418.9 84.8V158H515.7" stroke="#111" stroke-width="1.35" fill="none"/>
<path d="M418.9 158v2.4M418.9 158.0h-2.4M426.1 158v1.2M418.9 152.5h-1.2M430.4 158v1.2M418.9 149.3h-1.2M433.4 158v1.2M418.9 147.1h-1.2M435.7 158v1.2M418.9 145.3h-1.2M437.6 158v1.2M418.9 143.9h-1.2M439.2 158v1.2M418.9 142.6h-1.2M440.6 158v1.2M418.9 141.6h-1.2M441.9 158v1.2M418.9 140.7h-1.2M443.0 158v2.4M418.9 139.8h-2.4M450.2 158v1.2M418.9 134.4h-1.2M454.5 158v1.2M418.9 131.2h-1.2M457.5 158v1.2M418.9 128.9h-1.2M459.8 158v1.2M418.9 127.1h-1.2M461.7 158v1.2M418.9 125.7h-1.2M463.3 158v1.2M418.9 124.5h-1.2M464.7 158v1.2M418.9 123.4h-1.2M465.9 158v1.2M418.9 122.5h-1.2M467.1 158v2.4M418.9 121.7h-2.4M474.3 158v1.2M418.9 116.2h-1.2M478.5 158v1.2M418.9 113.0h-1.2M481.5 158v1.2M418.9 110.7h-1.2M483.9 158v1.2M418.9 108.9h-1.2M485.8 158v1.2M418.9 107.5h-1.2M487.4 158v1.2M418.9 106.3h-1.2M488.8 158v1.2M418.9 105.2h-1.2M490.0 158v1.2M418.9 104.3h-1.2M491.1 158v2.4M418.9 103.5h-2.4M498.4 158v1.2M418.9 98.0h-1.2M502.6 158v1.2M418.9 94.8h-1.2M505.6 158v1.2M418.9 92.5h-1.2M508.0 158v1.2M418.9 90.8h-1.2M509.9 158v1.2M418.9 89.3h-1.2M511.5 158v1.2M418.9 88.1h-1.2M512.9 158v1.2M418.9 87.1h-1.2M514.1 158v1.2M418.9 86.1h-1.2M515.2 158v2.4M418.9 85.3h-2.4" stroke="#1a1a1a" stroke-width="0.7" fill="none"/>
<text x="416.7" y="165.7" font-size="4.5" font-weight="bold" fill="#333">10<tspan dy="-1.9" font-size="3.6">0</tspan></text>
<text x="415.7" y="160.2" font-size="4.5" font-weight="bold" fill="#333" transform="rotate(-90 415.7 160.2)">10<tspan dy="-1.9" font-size="3.6">0</tspan></text>
<text x="440.8" y="165.7" font-size="4.5" font-weight="bold" fill="#333">10<tspan dy="-1.9" font-size="3.6">1</tspan></text>
<text x="415.7" y="142.0" font-size="4.5" font-weight="bold" fill="#333" transform="rotate(-90 415.7 142.0)">10<tspan dy="-1.9" font-size="3.6">1</tspan></text>
<text x="464.9" y="165.7" font-size="4.5" font-weight="bold" fill="#333">10<tspan dy="-1.9" font-size="3.6">2</tspan></text>
<text x="415.7" y="123.9" font-size="4.5" font-weight="bold" fill="#333" transform="rotate(-90 415.7 123.9)">10<tspan dy="-1.9" font-size="3.6">2</tspan></text>
<text x="488.9" y="165.7" font-size="4.5" font-weight="bold" fill="#333">10<tspan dy="-1.9" font-size="3.6">3</tspan></text>
<text x="415.7" y="105.7" font-size="4.5" font-weight="bold" fill="#333" transform="rotate(-90 415.7 105.7)">10<tspan dy="-1.9" font-size="3.6">3</tspan></text>
<text x="513.0" y="165.7" font-size="4.5" font-weight="bold" fill="#333">10<tspan dy="-1.9" font-size="3.6">4</tspan></text>
<text x="415.7" y="87.5" font-size="4.5" font-weight="bold" fill="#333" transform="rotate(-90 415.7 87.5)">10<tspan dy="-1.9" font-size="3.6">4</tspan></text>
<text x="421.2" y="97.3" font-size="12" font-weight="bold" fill="#111" stroke="#111" stroke-width="0.3" textLength="19.6" lengthAdjust="spacingAndGlyphs" >0.0</text>
<text x="514.8000000000001" y="97.3" font-size="12" font-weight="bold" fill="#111" stroke="#111" stroke-width="0.3" text-anchor="end" textLength="19.6" lengthAdjust="spacingAndGlyphs" >5.8</text>
<text x="421.2" y="156.2" font-size="12" font-weight="bold" fill="#111" stroke="#111" stroke-width="0.3" textLength="19.6" lengthAdjust="spacingAndGlyphs" >4.1</text>
<text x="514.8000000000001" y="156.2" font-size="12" font-weight="bold" fill="#111" stroke="#111" stroke-width="0.3" text-anchor="end" textLength="27.4" lengthAdjust="spacingAndGlyphs" >90.1</text>
<text x="276.6" y="156.2" font-size="11.7" font-weight="bold" fill="#111" stroke="#111" stroke-width="0.3" textLength="65" lengthAdjust="spacingAndGlyphs" transform="rotate(-90 276.6 156.2)" >H60-Tet-PE</text>
<text x="374.2" y="179.7" font-size="11.8" font-weight="bold" fill="#111" stroke="#111" stroke-width="0.3" textLength="76.4" lengthAdjust="spacingAndGlyphs" >CD11a-FITC</text>
<path d="M46.9 223.3V336.0H218" stroke="#777" stroke-width="1.1" fill="none"/>
<path d="M46.6 335.7h-2.8M46.6 313.3h-2.8M46.6 290.9h-2.8M46.6 268.5h-2.8M46.6 246.1h-2.8M46.6 223.7h-2.8M46.9 335.7v2.6M89.3 335.7v2.6M131.7 335.7v2.6M174.1 335.7v2.6M216.5 335.7v2.6" stroke="#111" stroke-width="1.3" fill="none"/>
<text x="42.3" y="339.2" font-size="9.6" font-weight="bold" fill="#111" stroke="#111" stroke-width="0.3" text-anchor="end" >0</text>
<text x="42.3" y="316.8" font-size="9.6" font-weight="bold" fill="#111" stroke="#111" stroke-width="0.3" text-anchor="end" >20</text>
<text x="42.3" y="294.4" font-size="9.6" font-weight="bold" fill="#111" stroke="#111" stroke-width="0.3" text-anchor="end" >40</text>
<text x="42.3" y="272.0" font-size="9.6" font-weight="bold" fill="#111" stroke="#111" stroke-width="0.3" text-anchor="end" >60</text>
<text x="42.3" y="249.6" font-size="9.6" font-weight="bold" fill="#111" stroke="#111" stroke-width="0.3" text-anchor="end" >80</text>
<text x="42.3" y="227.2" font-size="9.6" font-weight="bold" fill="#111" stroke="#111" stroke-width="0.3" text-anchor="end" >100</text>
<text x="46.9" y="348.3" font-size="9.8" font-weight="bold" fill="#111" stroke="#111" stroke-width="0.3" text-anchor="middle" >0.01</text>
<text x="89.3" y="348.3" font-size="9.8" font-weight="bold" fill="#111" stroke="#111" stroke-width="0.3" text-anchor="middle" >0.1</text>
<text x="131.7" y="348.3" font-size="9.8" font-weight="bold" fill="#111" stroke="#111" stroke-width="0.3" text-anchor="middle" >1</text>
<text x="174.1" y="348.3" font-size="9.8" font-weight="bold" fill="#111" stroke="#111" stroke-width="0.3" text-anchor="middle" >10</text>
<text x="216.5" y="348.3" font-size="9.8" font-weight="bold" fill="#111" stroke="#111" stroke-width="0.3" text-anchor="middle" >100</text>
<text x="19.4" y="328.8" font-size="14" font-weight="bold" fill="#111" stroke="#111" stroke-width="0.15" textLength="99.3" lengthAdjust="spacingAndGlyphs" transform="rotate(-90 19.4 328.8)" >Specific Killing</text>
<text x="78.7" y="234.3" font-size="12.5" font-weight="bold" fill="#111" stroke="#111" stroke-width="0.3" textLength="106.3" lengthAdjust="spacingAndGlyphs" >T2Kb+ H60 Target</text>
<text x="98" y="360.2" font-size="13.8" font-weight="bold" fill="#111" stroke="#111" stroke-width="0.3" textLength="68.5" lengthAdjust="spacingAndGlyphs" >E : T Ratio</text>
<path d="M101.6 332.3L131.3 330.9" stroke="#555" stroke-width="0.8"/>
<polyline points="131.3,330.9 161.6,299.7 191.6,258.7" fill="none" stroke="#111" stroke-width="1.9" stroke-linejoin="round"/>
<path d="M101.6 335.2L131.3 333.7" stroke="#555" stroke-width="0.8"/>
<polyline points="131.3,333.7 161.6,329.7 191.6,316.7" fill="none" stroke="#111" stroke-width="1.9" stroke-linejoin="round"/>
<rect x="98.39999999999999" y="329.1" width="6.4" height="6.4" fill="none" stroke="#111" stroke-width="1"/>
<rect x="128.10000000000002" y="327.7" width="6.4" height="6.4" fill="none" stroke="#111" stroke-width="1"/>
<rect x="158.4" y="296.5" width="6.4" height="6.4" fill="none" stroke="#111" stroke-width="1"/>
<rect x="188.4" y="255.5" width="6.4" height="6.4" fill="none" stroke="#111" stroke-width="1"/>
<circle cx="101.6" cy="335.2" r="3.4" fill="none" stroke="#111" stroke-width="1"/>
<circle cx="131.3" cy="333.7" r="3.4" fill="none" stroke="#111" stroke-width="1"/>
<circle cx="161.6" cy="329.7" r="3.4" fill="none" stroke="#111" stroke-width="1"/>
<circle cx="191.6" cy="316.7" r="3.4" fill="none" stroke="#111" stroke-width="1"/>
<path d="M295.4 225V337.0H470" stroke="#1a1a1a" stroke-width="1.4" fill="none"/>
<path d="M295.4 336.7h-4M295.4 314.5h-4M295.4 292.3h-4M295.4 270.0h-4M295.4 247.8h-4M295.4 225.6h-4M295.4 336.7v4.5M353.9 336.7v4.5M412.4 336.7v4.5M470.9 336.7v4.5" stroke="#222" stroke-width="1.1" fill="none"/>
<text x="291.2" y="340.2" font-size="9.6" font-weight="bold" fill="#111" stroke="#111" stroke-width="0.3" text-anchor="end" >0</text>
<text x="291.2" y="318.0" font-size="9.6" font-weight="bold" fill="#111" stroke="#111" stroke-width="0.3" text-anchor="end" >20</text>
<text x="291.2" y="295.8" font-size="9.6" font-weight="bold" fill="#111" stroke="#111" stroke-width="0.3" text-anchor="end" >40</text>
<text x="291.2" y="273.5" font-size="9.6" font-weight="bold" fill="#111" stroke="#111" stroke-width="0.3" text-anchor="end" >60</text>
<text x="291.2" y="251.3" font-size="9.6" font-weight="bold" fill="#111" stroke="#111" stroke-width="0.3" text-anchor="end" >80</text>
<text x="291.2" y="229.1" font-size="9.6" font-weight="bold" fill="#111" stroke="#111" stroke-width="0.3" text-anchor="end" >100</text>
<text x="295.4" y="349.2" font-size="9.8" font-weight="bold" fill="#111" stroke="#111" stroke-width="0.3" text-anchor="middle" >0.1</text>
<text x="353.9" y="349.2" font-size="9.8" font-weight="bold" fill="#111" stroke="#111" stroke-width="0.3" text-anchor="middle" >1</text>
<text x="412.4" y="349.2" font-size="9.8" font-weight="bold" fill="#111" stroke="#111" stroke-width="0.3" text-anchor="middle" >10</text>
<text x="470.9" y="349.2" font-size="9.8" font-weight="bold" fill="#111" stroke="#111" stroke-width="0.3" text-anchor="middle" >100</text>
<text x="271.7" y="329" font-size="14" font-weight="bold" fill="#111" stroke="#111" stroke-width="0.15" textLength="98.2" lengthAdjust="spacingAndGlyphs" transform="rotate(-90 271.7 329)" >Specific Killing</text>
<text x="327" y="234" font-size="12.5" font-weight="bold" fill="#111" stroke="#111" stroke-width="0.3" textLength="109" lengthAdjust="spacingAndGlyphs" >T2Kb+ VSV Target</text>
<text x="352.5" y="361" font-size="13.8" font-weight="bold" fill="#111" stroke="#111" stroke-width="0.3" textLength="68.5" lengthAdjust="spacingAndGlyphs" >E : T Ratio</text>
<polyline points="313.6,336.5 353.9,336.5 395.1,335.8 435.2,333.6" fill="none" stroke="#111" stroke-width="1.9" stroke-linejoin="round"/>
<polyline points="313.6,336.5 353.9,336.5 395.1,333.6 435.2,330.2" fill="none" stroke="#111" stroke-width="1.9" stroke-linejoin="round"/>
<rect x="310.40000000000003" y="333.3" width="6.4" height="6.4" fill="none" stroke="#111" stroke-width="1"/>
<rect x="350.7" y="333.3" width="6.4" height="6.4" fill="none" stroke="#111" stroke-width="1"/>
<rect x="391.90000000000003" y="332.6" width="6.4" height="6.4" fill="none" stroke="#111" stroke-width="1"/>
<rect x="432.0" y="330.40000000000003" width="6.4" height="6.4" fill="none" stroke="#111" stroke-width="1"/>
<circle cx="313.6" cy="336.5" r="3.4" fill="none" stroke="#111" stroke-width="1"/>
<circle cx="353.9" cy="336.5" r="3.4" fill="none" stroke="#111" stroke-width="1"/>
<circle cx="395.1" cy="333.6" r="3.4" fill="none" stroke="#111" stroke-width="1"/>
<circle cx="435.2" cy="330.2" r="3.4" fill="none" stroke="#111" stroke-width="1"/>
<path d="M376.3 265H388.8" stroke="#111" stroke-width="1.6"/>
<rect x="379.4" y="261.9" width="6.2" height="6.2" fill="#fff" stroke="#111" stroke-width="1.1"/><path d="M376.3 265H388.8" stroke="#111" stroke-width="1.6"/>
<text x="394.5" y="268.7" font-size="10.3" font-weight="bold" fill="#111" stroke="#111" stroke-width="0.3" textLength="21.3" lengthAdjust="spacingAndGlyphs" >H60</text>
<g fill="none" stroke="#666" stroke-width="0.8"><circle cx="422.2" cy="266.9" r="2.3"/><path d="M423.83 265.27L427.23 261.87M424.00 261.87H427.23V265.10"/></g>
<text x="428.2" y="268.7" font-size="10.3" fill="#111" stroke="#111" stroke-width="0.25" textLength="24.4" lengthAdjust="spacingAndGlyphs">(1<tspan dy="-4.2" font-size="6">st</tspan><tspan dy="4.2">),</tspan></text>
<text x="458.0" y="268.7" font-size="10.3" font-weight="bold" fill="#111" stroke="#111" stroke-width="0.3" textLength="21.3" lengthAdjust="spacingAndGlyphs" >H60</text>
<g fill="none" stroke="#666" stroke-width="0.8"><circle cx="486.3" cy="266.9" r="2.3"/><path d="M487.93 265.27L491.33 261.87M488.10 261.87H491.33V265.10"/></g>
<text x="492.6" y="268.7" font-size="10.3" fill="#111" stroke="#111" stroke-width="0.25" textLength="22.8" lengthAdjust="spacingAndGlyphs">(2<tspan dy="-4.2" font-size="6">nd</tspan><tspan dy="4.2">)</tspan></text>
<path d="M376.3 282.9H388.8" stroke="#111" stroke-width="1.6"/>
<circle cx="382.5" cy="282.9" r="3.3" fill="#fff" stroke="#111" stroke-width="1.1"/><path d="M376.3 282.9H388.8" stroke="#111" stroke-width="1.6"/>
<text x="394.5" y="286.59999999999997" font-size="10.3" font-weight="bold" fill="#111" stroke="#111" stroke-width="0.3" textLength="21.3" lengthAdjust="spacingAndGlyphs" >H60</text>
<g fill="none" stroke="#666" stroke-width="0.8"><circle cx="422.2" cy="284.79999999999995" r="2.3"/><path d="M423.83 283.17L427.23 279.77M424.00 279.77H427.23V283.00"/></g>
<text x="428.2" y="286.59999999999997" font-size="10.3" fill="#111" stroke="#111" stroke-width="0.25" textLength="22.4" lengthAdjust="spacingAndGlyphs">(1<tspan dy="-4.2" font-size="6">st</tspan><tspan dy="4.2">),</tspan></text>
<text x="455.8" y="286.59999999999997" font-size="10.3" font-weight="bold" fill="#111" stroke="#111" stroke-width="0.3" textLength="21.3" lengthAdjust="spacingAndGlyphs" >H60</text>
<g fill="none" stroke="#666" stroke-width="0.8"><circle cx="484.9" cy="281.4" r="2.5"/><path d="M484.9 283.9V288.09999999999997M482.79999999999995 286.00H487.0"/></g>
<text x="489.0" y="286.59999999999997" font-size="10.3" fill="#111" stroke="#111" stroke-width="0.25" textLength="22.8" lengthAdjust="spacingAndGlyphs">(2<tspan dy="-4.2" font-size="6">nd</tspan><tspan dy="4.2">)</tspan></text>
<text x="29.5" y="398.8" font-size="12" font-weight="bold" fill="#111" stroke="#111" stroke-width="0.3" textLength="25.3" lengthAdjust="spacingAndGlyphs" >H60</text>
<g fill="none" stroke="#666" stroke-width="0.9"><circle cx="61.7" cy="396.40000000000003" r="2.7"/><path d="M63.61 394.49L66.71 391.39M63.76 391.39H66.71V394.34"/></g>
<path d="M71.5 394.0H83.0M80.7 392.3L83.0 394.0L80.7 395.7" fill="none" stroke="#444" stroke-width="0.9"/>
<text x="85.7" y="398.8" font-size="12" font-weight="bold" fill="#111" stroke="#111" stroke-width="0.3" textLength="25.3" lengthAdjust="spacingAndGlyphs" >H60</text>
<g fill="none" stroke="#666" stroke-width="0.9"><circle cx="117.9" cy="396.40000000000003" r="2.7"/><path d="M119.81 394.49L122.91 391.39M119.96 391.39H122.91V394.34"/></g>
<text x="133.5" y="398.8" font-size="12" font-weight="bold" fill="#111" stroke="#111" stroke-width="0.3" textLength="25.3" lengthAdjust="spacingAndGlyphs" >H60</text>
<g fill="none" stroke="#666" stroke-width="0.9"><circle cx="165.7" cy="396.40000000000003" r="2.7"/><path d="M167.61 394.49L170.71 391.39M167.76 391.39H170.71V394.34"/></g>
<path d="M179.1 394.0H190.8M188.50000000000003 392.3L190.8 394.0L188.50000000000003 395.7" fill="none" stroke="#444" stroke-width="0.9"/>
<text x="196.8" y="398.8" font-size="12" font-weight="bold" fill="#111" stroke="#111" stroke-width="0.3" textLength="25.3" lengthAdjust="spacingAndGlyphs" >H60</text>
<g fill="none" stroke="#666" stroke-width="0.9"><circle cx="230.4" cy="393.1" r="2.9"/><path d="M230.4 396.0V400.6M228.3 398.30H232.5"/></g>
<rect x="37.7" y="406.9" width="76.5" height="62.10000000000002" fill="#fff" stroke="none"/>
<path transform="translate(0.50 0.50) scale(.5)" d="M99 900h0m1 0h0m0 4h0m1-5h0m0 7h0m1-5h0m1-1h0m0 1h0m0 1h0m0 1h0m0 3h0m1-5h0m0 1h0m0 4h0m0 1h0m1-14h0m0 1h0m0 5h0m0 2h0m0 12h0m1-12h0m0 8h0m1-21h0m0 5h0m0 1h0m0 5h0m0 4h0m0 3h0m1-45h0m0 32h0m0 3h0m0 3h0m0 1h0m0 2h0m0 3h0m0 1h0m1-45h0m0 22h0m0 12h0m0 2h0m0 5h0m0 5h0m1-38h0m0 4h0m0 19h0m0 4h0m0 1h0m0 1h0m0 1h0m0 3h0m0 1h0m1-40h0m0 30h0m0 4h0m0 5h0m0 1h0m0 3h0m0 13h0m1-31h0m0 6h0m0 1h0m0 1h0m0 1h0m0 1h0m0 2h0m0 1h0m0 2h0m0 1h0m0 1h0m0 7h0m1-46h0m0 21h0m0 3h0m0 2h0m0 2h0m0 2h0m0 1h0m0 1h0m0 1h0m0 1h0m0 2h0m0 1h0m0 5h0m1-47h0m0 13h0m0 9h0m0 2h0m0 3h0m0 5h0m0 1h0m0 1h0m0 1h0m0 1h0m0 2h0m0 1h0m0 1h0m0 3h0m0 1h0m1-35h0m0 18h0m0 1h0m0 4h0m0 1h0m0 2h0m0 1h0m0 1h0m0 1h0m0 1h0m0 1h0m0 1h0m0 2h0m0 1h0m0 5h0m1-51h0m0 30h0m0 2h0m0 2h0m0 1h0m0 1h0m0 2h0m0 1h0m0 2h0m0 2h0m0 1h0m0 1h0m0 2h0m0 2h0m0 3h0m1-71h0m0 50h0m0 1h0m0 1h0m0 1h0m0 2h0m0 1h0m0 1h0m0 2h0m0 1h0m0 1h0m0 1h0m0 1h0m0 6h0m0 2h0m1-52h0m0 26h0m0 4h0m0 2h0m0 1h0m0 1h0m0 1h0m0 1h0m0 1h0m0 1h0m0 1h0m0 1h0m0 1h0m0 2h0m0 3h0m1-20h0m0 1h0m0 1h0m0 1h0m0 1h0m0 1h0m0 1h0m0 1h0m0 1h0m0 1h0m0 1h0m0 1h0m0 1h0m0 1h0m0 2h0m0 1h0m0 1h0m0 1h0m0 1h0m0 1h0m1-20h0m0 2h0m0 1h0m0 1h0m0 1h0m0 1h0m0 1h0m0 1h0m0 1h0m0 1h0m0 2h0m0 1h0m0 1h0m0 1h0m0 1h0m0 1h0m0 1h0m0 2h0m0 1h0m0 3h0m1-27h0m0 2h0m0 1h0m0 3h0m0 1h0m0 1h0m0 2h0m0 1h0m0 1h0m0 1h0m0 1h0m0 1h0m0 1h0m0 1h0m0 1h0m0 1h0m0 1h0m0 1h0m1-61h0m0 19h0m0 25h0m0 1h0m0 1h0m0 1h0m0 1h0m0 1h0m0 1h0m0 1h0m0 1h0m0 1h0m0 1h0m0 1h0m0 1h0m0 2h0m0 1h0m0 1h0m0 2h0m0 1h0m0 2h0m1-26h0m0 5h0m0 2h0m0 1h0m0 1h0m0 1h0m0 1h0m0 1h0m0 1h0m0 1h0m0 1h0m0 1h0m0 1h0m0 1h0m0 1h0m0 1h0m0 1h0m0 1h0m0 1h0m0 2h0m1-62h0m0 18h0m0 14h0m0 7h0m0 2h0m0 1h0m0 1h0m0 1h0m0 1h0m0 1h0m0 1h0m0 1h0m0 1h0m0 1h0m0 1h0m0 2h0m0 1h0m0 1h0m0 2h0m0 1h0m0 1h0m0 2h0m0 1h0m1-22h0m0 1h0m0 1h0m0 2h0m0 1h0m0 1h0m0 1h0m0 1h0m0 1h0m0 1h0m0 1h0m0 1h0m0 1h0m0 1h0m0 2h0m0 1h0m0 1h0m1-46h0m0 23h0m0 4h0m0 2h0m0 1h0m0 1h0m0 1h0m0 2h0m0 1h0m0 1h0m0 1h0m0 1h0m0 1h0m0 1h0m0 1h0m0 1h0m0 1h0m0 2h0m0 1h0m0 3h0m0 2h0m1-69h0m0 19h0m0 26h0m0 4h0m0 1h0m0 2h0m0 1h0m0 1h0m0 1h0m0 2h0m0 1h0m0 1h0m0 3h0m0 1h0m0 2h0m0 4h0m0 1h0m1-69h0m0 15h0m0 27h0m0 2h0m0 1h0m0 1h0m0 3h0m0 1h0m0 1h0m0 1h0m0 1h0m0 1h0m0 1h0m0 1h0m0 1h0m0 1h0m0 1h0m0 1h0m0 1h0m0 2h0m0 1h0m0 1h0m0 1h0m0 1h0m0 3h0m1-41h0m0 15h0m0 1h0m0 1h0m0 1h0m0 1h0m0 1h0m0 1h0m0 1h0m0 1h0m0 1h0m0 1h0m0 1h0m0 1h0m0 1h0m0 1h0m0 1h0m0 1h0m0 1h0m0 1h0m0 3h0m0 2h0m1-31h0m0 1h0m0 5h0m0 3h0m0 1h0m0 1h0m0 1h0m0 1h0m0 1h0m0 1h0m0 1h0m0 2h0m0 1h0m0 1h0m0 1h0m0 1h0m0 3h0m0 1h0m0 1h0m0 5h0m1-39h0m0 8h0m0 4h0m0 1h0m0 5h0m0 2h0m0 1h0m0 1h0m0 1h0m0 1h0m0 2h0m0 1h0m0 1h0m0 1h0m0 2h0m0 1h0m0 6h0m1-52h0m0 6h0m0 7h0m0 1h0m0 13h0m0 4h0m0 1h0m0 1h0m0 1h0m0 1h0m0 1h0m0 1h0m0 2h0m0 2h0m0 1h0m0 1h0m0 3h0m0 1h0m1-64h0m0 39h0m0 3h0m0 3h0m0 1h0m0 1h0m0 1h0m0 1h0m0 1h0m0 2h0m0 1h0m0 1h0m0 1h0m0 1h0m0 1h0m0 1h0m0 3h0m0 1h0m0 1h0m0 1h0m0 2h0m1-42h0m0 19h0m0 1h0m0 3h0m0 2h0m0 1h0m0 1h0m0 1h0m0 1h0m0 2h0m0 1h0m0 1h0m0 1h0m0 1h0m0 1h0m0 4h0m1-14h0m0 1h0m0 1h0m0 1h0m0 1h0m0 1h0m0 1h0m0 2h0m0 1h0m0 1h0m1-16h0m0 1h0m0 4h0m0 3h0m0 1h0m0 2h0m0 1h0m0 1h0m0 4h0m1-17h0m0 4h0m0 2h0m0 1h0m0 2h0m0 3h0m0 1h0m0 1h0m0 1h0m0 1h0m0 1h0m0 3h0m1-55h0m0 35h0m0 1h0m0 1h0m0 1h0m0 2h0m0 5h0m0 1h0m0 1h0m0 1h0m0 2h0m0 1h0m0 2h0m1-54h0m0 14h0m0 25h0m0 2h0m0 2h0m0 3h0m0 2h0m0 1h0m0 2h0m1-35h0m0 19h0m0 7h0m0 2h0m0 4h0m0 1h0m0 6h0m1-27h0m0 7h0m0 2h0m0 7h0m0 2h0m0 1h0m1-45h0m0 1h0m0 6h0m0 16h0m0 6h0m0 4h0m0 1h0m0 2h0m0 6h0m0 1h0m0 12h0m1-59h0m0 1h0m0 18h0m0 3h0m0 9h0m0 6h0m0 5h0m1-27h0m0 3h0m0 28h0m0 1h0m0 5h0m1-56h0m0 4h0m0 3h0m0 6h0m0 2h0m0 1h0m0 3h0m0 13h0m0 13h0m0 2h0m0 1h0m1-44h0m0 3h0m0 2h0m0 2h0m0 1h0m0 3h0m0 1h0m0 9h0m1-25h0m0 3h0m0 2h0m0 2h0m0 1h0m0 2h0m0 3h0m0 2h0m0 1h0m0 1h0m0 1h0m0 1h0m0 7h0m0 23h0m1-50h0m0 7h0m0 9h0m0 1h0m0 1h0m0 1h0m0 39h0m0 6h0m1-59h0m0 1h0m0 3h0m0 1h0m0 1h0m0 1h0m0 3h0m0 3h0m0 2h0m0 3h0m0 5h0m0 5h0m0 3h0m1-35h0m0 3h0m0 1h0m0 1h0m0 1h0m0 1h0m0 1h0m0 1h0m0 2h0m0 2h0m0 2h0m0 1h0m0 2h0m0 2h0m0 1h0m0 1h0m1-27h0m0 4h0m0 3h0m0 1h0m0 2h0m0 2h0m0 1h0m0 1h0m0 1h0m0 2h0m0 1h0m0 1h0m0 1h0m0 1h0m0 1h0m0 2h0m0 2h0m0 1h0m1-26h0m0 5h0m0 1h0m0 1h0m0 1h0m0 1h0m0 1h0m0 1h0m0 1h0m0 1h0m0 1h0m0 2h0m0 1h0m0 2h0m0 1h0m0 3h0m0 1h0m0 3h0m0 1h0m0 2h0m0 1h0m0 5h0m0 13h0m1-56h0m0 7h0m0 1h0m0 2h0m0 2h0m0 2h0m0 1h0m0 1h0m0 1h0m0 1h0m0 1h0m0 1h0m0 2h0m0 1h0m0 1h0m0 1h0m0 1h0m0 1h0m0 2h0m0 2h0m0 2h0m0 1h0m0 3h0m0 1h0m0 5h0m0 2h0m0 4h0m1-44h0m0 2h0m0 2h0m0 1h0m0 1h0m0 5h0m0 1h0m0 1h0m0 1h0m0 1h0m0 1h0m0 1h0m0 1h0m0 1h0m0 1h0m0 1h0m0 1h0m0 2h0m0 1h0m0 2h0m0 1h0m0 1h0m0 5h0m0 1h0m0 13h0m0 7h0m1-54h0m0 1h0m0 1h0m0 1h0m0 1h0m0 1h0m0 1h0m0 4h0m0 1h0m0 1h0m0 1h0m0 1h0m0 1h0m0 1h0m0 1h0m0 1h0m0 1h0m0 1h0m0 1h0m0 1h0m0 1h0m0 2h0m0 3h0m0 1h0m0 2h0m0 1h0m0 21h0m0 3h0m1-65h0m0 5h0m0 4h0m0 2h0m0 2h0m0 1h0m0 1h0m0 1h0m0 1h0m0 1h0m0 1h0m0 2h0m0 1h0m0 1h0m0 1h0m0 1h0m0 1h0m0 1h0m0 1h0m0 1h0m0 1h0m0 2h0m0 3h0m0 7h0m1-37h0m0 2h0m0 1h0m0 2h0m0 2h0m0 2h0m0 2h0m0 1h0m0 1h0m0 1h0m0 1h0m0 1h0m0 1h0m0 1h0m0 1h0m0 1h0m0 1h0m0 1h0m0 2h0m0 1h0m0 1h0m0 1h0m0 1h0m0 1h0m0 16h0m0 12h0m1-58h0m0 7h0m0 2h0m0 2h0m0 1h0m0 1h0m0 1h0m0 1h0m0 1h0m0 1h0m0 4h0m0 1h0m0 1h0m0 1h0m0 1h0m0 1h0m0 1h0m0 4h0m0 1h0m0 3h0m0 29h0m1-64h0m0 2h0m0 2h0m0 1h0m0 1h0m0 1h0m0 1h0m0 1h0m0 1h0m0 1h0m0 1h0m0 1h0m0 1h0m0 1h0m0 1h0m0 1h0m0 1h0m0 2h0m0 1h0m0 3h0m0 2h0m0 1h0m0 1h0m0 1h0m0 1h0m0 1h0m0 1h0m0 1h0m0 2h0m0 21h0m0 9h0m1-66h0m0 3h0m0 1h0m0 2h0m0 2h0m0 2h0m0 1h0m0 1h0m0 1h0m0 1h0m0 1h0m0 1h0m0 1h0m0 1h0m0 1h0m0 2h0m0 1h0m0 2h0m0 1h0m0 1h0m0 1h0m0 1h0m0 1h0m0 1h0m0 1h0m0 3h0m0 1h0m0 2h0m0 3h0m1-41h0m0 2h0m0 1h0m0 1h0m0 2h0m0 1h0m0 2h0m0 1h0m0 1h0m0 1h0m0 1h0m0 1h0m0 1h0m0 1h0m0 1h0m0 1h0m0 1h0m0 1h0m0 1h0m0 1h0m0 1h0m0 1h0m0 1h0m0 1h0m0 2h0m0 1h0m0 1h0m0 1h0m0 1h0m0 2h0m1-41h0m0 5h0m0 7h0m0 1h0m0 2h0m0 1h0m0 1h0m0 1h0m0 1h0m0 2h0m0 1h0m0 1h0m0 1h0m0 1h0m0 1h0m0 1h0m0 1h0m0 1h0m0 1h0m0 1h0m0 1h0m0 2h0m0 2h0m0 1h0m0 1h0m0 1h0m0 3h0m0 1h0m0 2h0m0 1h0m0 14h0m1-52h0m0 4h0m0 1h0m0 1h0m0 2h0m0 1h0m0 1h0m0 1h0m0 1h0m0 1h0m0 1h0m0 1h0m0 2h0m0 1h0m0 1h0m0 1h0m0 1h0m0 1h0m0 1h0m0 1h0m0 1h0m0 1h0m0 1h0m0 3h0m0 1h0m0 4h0m0 27h0m1-65h0m0 4h0m0 1h0m0 1h0m0 2h0m0 1h0m0 1h0m0 1h0m0 1h0m0 1h0m0 1h0m0 1h0m0 1h0m0 2h0m0 1h0m0 1h0m0 1h0m0 1h0m0 1h0m0 1h0m0 1h0m0 1h0m0 1h0m0 1h0m0 1h0m0 1h0m0 1h0m0 6h0m0 12h0m0 3h0m0 1h0m0 1h0m0 7h0m1-59h0m0 1h0m0 1h0m0 3h0m0 1h0m0 3h0m0 1h0m0 1h0m0 1h0m0 1h0m0 1h0m0 1h0m0 1h0m0 1h0m0 1h0m0 2h0m0 1h0m0 1h0m0 1h0m0 1h0m0 3h0m0 1h0m0 18h0m0 4h0m0 10h0m1-64h0m0 2h0m0 3h0m0 2h0m0 2h0m0 1h0m0 1h0m0 2h0m0 1h0m0 1h0m0 1h0m0 1h0m0 1h0m0 1h0m0 1h0m0 1h0m0 1h0m0 2h0m0 1h0m0 1h0m0 1h0m0 2h0m0 1h0m0 3h0m0 7h0m0 15h0m0 11h0m1-66h0m0 3h0m0 2h0m0 1h0m0 1h0m0 1h0m0 1h0m0 2h0m0 1h0m0 1h0m0 1h0m0 1h0m0 2h0m0 1h0m0 1h0m0 2h0m0 3h0m0 1h0m0 1h0m0 1h0m0 1h0m0 2h0m0 19h0m0 8h0m0 4h0m1-59h0m0 2h0m0 2h0m0 3h0m0 1h0m0 3h0m0 1h0m0 1h0m0 2h0m0 1h0m0 1h0m0 1h0m0 1h0m0 1h0m0 1h0m0 2h0m0 4h0m0 1h0m0 8h0m0 12h0m0 5h0m1-49h0m0 1h0m0 1h0m0 1h0m0 1h0m0 4h0m0 1h0m0 1h0m0 1h0m0 1h0m0 1h0m0 1h0m0 1h0m0 1h0m0 3h0m0 1h0m0 2h0m0 1h0m0 2h0m0 1h0m0 1h0m0 34h0m0 3h0m1-73h0m0 4h0m0 4h0m0 3h0m0 2h0m0 2h0m0 2h0m0 2h0m0 1h0m0 1h0m0 2h0m0 1h0m0 1h0m0 1h0m0 3h0m0 1h0m0 7h0m1-35h0m0 2h0m0 4h0m0 2h0m0 2h0m0 1h0m0 1h0m0 2h0m0 1h0m0 2h0m0 1h0m0 1h0m0 1h0m0 2h0m0 1h0m0 1h0m0 1h0m0 3h0m0 1h0m0 7h0m1-32h0m0 1h0m0 1h0m0 4h0m0 1h0m0 1h0m0 3h0m0 1h0m0 1h0m0 3h0m0 1h0m0 1h0m0 2h0m0 1h0m0 2h0m0 4h0m0 24h0m0 30h0m1-88h0m0 4h0m0 2h0m0 4h0m0 1h0m0 5h0m0 2h0m0 1h0m0 3h0m0 5h0m0 1h0m0 43h0m1-66h0m0 3h0m0 1h0m0 3h0m0 2h0m0 1h0m0 1h0m0 3h0m0 3h0m0 1h0m0 2h0m0 9h0m0 2h0m0 24h0m1-53h0m0 7h0m0 1h0m0 2h0m0 1h0m0 1h0m0 3h0m0 1h0m0 7h0m1-16h0m0 2h0m0 4h0m1-23h0m0 12h0m0 6h0m0 3h0m0 6h0m0 2h0m0 1h0m0 35h0m0 1h0m0 1h0m1-53h0m0 3h0m0 1h0m0 61h0m1-65h0m1 3h0m2 60h0m1-64h0m0 4h0m2 57h0m1-69h0m3 58h0" fill="none" stroke="#1a1a1a" stroke-width="2" stroke-linecap="square"/>
<path d="M72.5 406.9V469M37.7 436.6H114.2" stroke="#151515" stroke-width="1.35" fill="none"/>
<path d="M37.7 406.9H114.2V469" stroke="#151515" stroke-width="1.3" fill="none"/>
<path d="M37.7 406.29999999999995V469H114.8" stroke="#111" stroke-width="1.5" fill="none"/>
<path d="M37.7 469v2.9M37.7 469.0h-2.9M43.5 469v1.5M37.7 464.3h-1.5M46.8 469v1.5M37.7 461.6h-1.5M49.2 469v1.5M37.7 459.7h-1.5M51.1 469v1.5M37.7 458.1h-1.5M52.6 469v1.5M37.7 456.9h-1.5M53.9 469v1.5M37.7 455.9h-1.5M55.0 469v1.5M37.7 455.0h-1.5M55.9 469v1.5M37.7 454.2h-1.5M56.8 469v2.9M37.7 453.5h-2.9M62.6 469v1.5M37.7 448.8h-1.5M65.9 469v1.5M37.7 446.1h-1.5M68.3 469v1.5M37.7 444.1h-1.5M70.2 469v1.5M37.7 442.6h-1.5M71.7 469v1.5M37.7 441.4h-1.5M73.0 469v1.5M37.7 440.4h-1.5M74.1 469v1.5M37.7 439.5h-1.5M75.1 469v1.5M37.7 438.7h-1.5M76.0 469v2.9M37.7 437.9h-2.9M81.7 469v1.5M37.7 433.3h-1.5M85.1 469v1.5M37.7 430.5h-1.5M87.5 469v1.5M37.7 428.6h-1.5M89.3 469v1.5M37.7 427.1h-1.5M90.8 469v1.5M37.7 425.9h-1.5M92.1 469v1.5M37.7 424.8h-1.5M93.2 469v1.5M37.7 423.9h-1.5M94.2 469v1.5M37.7 423.1h-1.5M95.1 469v2.9M37.7 422.4h-2.9M100.8 469v1.5M37.7 417.8h-1.5M104.2 469v1.5M37.7 415.0h-1.5M106.6 469v1.5M37.7 413.1h-1.5M108.4 469v1.5M37.7 411.6h-1.5M110.0 469v1.5M37.7 410.3h-1.5M111.2 469v1.5M37.7 409.3h-1.5M112.3 469v1.5M37.7 408.4h-1.5M113.3 469v1.5M37.7 407.6h-1.5M114.2 469v2.4M37.7 406.9h-2.4" stroke="#1a1a1a" stroke-width="1.0" fill="none"/>
<text x="33.5" y="480.3" font-size="7.4" font-weight="normal" fill="#222" stroke="#222" stroke-width="0.25" textLength="9.6" lengthAdjust="spacingAndGlyphs">10<tspan dy="-3.4" font-size="6.2">0</tspan></text>
<text x="32.5" y="473.6" font-size="7.4" font-weight="normal" fill="#222" stroke="#222" stroke-width="0.25" textLength="9.6" lengthAdjust="spacingAndGlyphs" transform="rotate(-90 32.5 473.6)">10<tspan dy="-3.4" font-size="6.2">0</tspan></text>
<text x="52.6" y="480.3" font-size="7.4" font-weight="normal" fill="#222" stroke="#222" stroke-width="0.25" textLength="9.6" lengthAdjust="spacingAndGlyphs">10<tspan dy="-3.4" font-size="6.2">1</tspan></text>
<text x="32.5" y="458.1" font-size="7.4" font-weight="normal" fill="#222" stroke="#222" stroke-width="0.25" textLength="9.6" lengthAdjust="spacingAndGlyphs" transform="rotate(-90 32.5 458.1)">10<tspan dy="-3.4" font-size="6.2">1</tspan></text>
<text x="71.8" y="480.3" font-size="7.4" font-weight="normal" fill="#222" stroke="#222" stroke-width="0.25" textLength="9.6" lengthAdjust="spacingAndGlyphs">10<tspan dy="-3.4" font-size="6.2">2</tspan></text>
<text x="32.5" y="442.6" font-size="7.4" font-weight="normal" fill="#222" stroke="#222" stroke-width="0.25" textLength="9.6" lengthAdjust="spacingAndGlyphs" transform="rotate(-90 32.5 442.6)">10<tspan dy="-3.4" font-size="6.2">2</tspan></text>
<text x="90.9" y="480.3" font-size="7.4" font-weight="normal" fill="#222" stroke="#222" stroke-width="0.25" textLength="9.6" lengthAdjust="spacingAndGlyphs">10<tspan dy="-3.4" font-size="6.2">3</tspan></text>
<text x="32.5" y="427.0" font-size="7.4" font-weight="normal" fill="#222" stroke="#222" stroke-width="0.25" textLength="9.6" lengthAdjust="spacingAndGlyphs" transform="rotate(-90 32.5 427.0)">10<tspan dy="-3.4" font-size="6.2">3</tspan></text>
<text x="110.0" y="480.3" font-size="7.4" font-weight="normal" fill="#222" stroke="#222" stroke-width="0.25" textLength="9.6" lengthAdjust="spacingAndGlyphs">10<tspan dy="-3.4" font-size="6.2">4</tspan></text>
<text x="32.5" y="411.5" font-size="7.4" font-weight="normal" fill="#222" stroke="#222" stroke-width="0.25" textLength="9.6" lengthAdjust="spacingAndGlyphs" transform="rotate(-90 32.5 411.5)">10<tspan dy="-3.4" font-size="6.2">4</tspan></text>
<text x="41.7" y="417.5" font-size="11" font-weight="bold" fill="#111" stroke="#111" stroke-width="0.3" textLength="17.4" lengthAdjust="spacingAndGlyphs" >1.9</text>
<text x="111.2" y="417.5" font-size="11" font-weight="bold" fill="#111" stroke="#111" stroke-width="0.3" text-anchor="end" textLength="24.3" lengthAdjust="spacingAndGlyphs" >65.6</text>
<text x="41.7" y="466.2" font-size="11" font-weight="bold" fill="#111" stroke="#111" stroke-width="0.3" textLength="24.3" lengthAdjust="spacingAndGlyphs" >30.7</text>
<text x="111.2" y="466.2" font-size="11" font-weight="bold" fill="#111" stroke="#111" stroke-width="0.3" text-anchor="end" textLength="17.4" lengthAdjust="spacingAndGlyphs" >1.8</text>
<rect x="140.6" y="407" width="75.4" height="63" fill="#fff" stroke="none"/>
<path transform="translate(0.50 0.50) scale(.5)" d="M284 870h0m0 56h0m2-7h0m1-59h0m0 62h0m1-42h0m0 24h0m1 3h0m0 16h0m0 7h0m2-67h0m0 41h0m1-37h0m0 18h0m0 33h0m1-7h0m0 10h0m1-5h0m0 1h0m0 2h0m1-1h0m0 11h0m1-28h0m0 13h0m0 10h0m0 11h0m1-26h0m0 4h0m0 6h0m0 15h0m1-30h0m0 3h0m0 6h0m0 1h0m0 5h0m0 1h0m0 3h0m0 1h0m1-26h0m0 9h0m0 6h0m0 2h0m0 2h0m0 1h0m0 6h0m0 3h0m0 1h0m0 1h0m1-74h0m0 47h0m0 1h0m0 5h0m0 2h0m0 1h0m0 1h0m0 3h0m0 3h0m0 3h0m0 4h0m1-19h0m0 2h0m0 2h0m0 1h0m0 5h0m0 2h0m0 1h0m0 1h0m0 1h0m0 1h0m0 1h0m0 2h0m0 5h0m1-72h0m0 38h0m0 3h0m0 2h0m0 10h0m0 2h0m0 1h0m0 2h0m0 1h0m0 1h0m0 4h0m0 2h0m0 7h0m1-63h0m0 39h0m0 2h0m0 1h0m0 2h0m0 2h0m0 1h0m0 3h0m0 1h0m0 4h0m0 1h0m0 4h0m0 5h0m1-66h0m0 35h0m0 3h0m0 2h0m0 3h0m0 3h0m0 1h0m0 3h0m0 1h0m0 2h0m0 1h0m0 2h0m0 2h0m0 6h0m1-77h0m0 42h0m0 8h0m0 3h0m0 2h0m0 3h0m0 2h0m0 1h0m0 1h0m0 1h0m0 1h0m0 1h0m0 2h0m0 3h0m0 1h0m0 2h0m1-27h0m0 2h0m0 1h0m0 2h0m0 1h0m0 3h0m0 1h0m0 2h0m0 1h0m0 1h0m0 1h0m0 2h0m0 1h0m0 1h0m0 1h0m0 1h0m0 1h0m0 1h0m0 5h0m0 2h0m1-32h0m0 1h0m0 1h0m0 2h0m0 2h0m0 3h0m0 1h0m0 2h0m0 2h0m0 1h0m0 1h0m0 1h0m0 1h0m0 1h0m0 2h0m0 2h0m0 1h0m0 1h0m1-61h0m0 37h0m0 2h0m0 1h0m0 2h0m0 1h0m0 1h0m0 1h0m0 1h0m0 1h0m0 2h0m0 1h0m0 1h0m0 1h0m0 1h0m0 1h0m0 1h0m0 2h0m0 1h0m0 1h0m0 1h0m0 1h0m0 9h0m0 2h0m1-66h0m0 20h0m0 6h0m0 3h0m0 3h0m0 3h0m0 2h0m0 1h0m0 1h0m0 2h0m0 2h0m0 3h0m0 1h0m0 1h0m0 1h0m0 1h0m0 1h0m0 2h0m0 1h0m0 3h0m1-27h0m0 2h0m0 2h0m0 1h0m0 1h0m0 1h0m0 2h0m0 2h0m0 2h0m0 1h0m0 1h0m0 1h0m0 1h0m0 2h0m0 1h0m0 2h0m0 1h0m0 2h0m0 3h0m1-90h0m0 22h0m0 40h0m0 2h0m0 1h0m0 2h0m0 1h0m0 4h0m0 1h0m0 1h0m0 1h0m0 1h0m0 2h0m0 1h0m0 1h0m0 1h0m0 2h0m0 1h0m0 2h0m0 1h0m0 1h0m0 3h0m0 1h0m0 5h0m1-62h0m0 23h0m0 9h0m0 3h0m0 1h0m0 1h0m0 1h0m0 1h0m0 1h0m0 1h0m0 1h0m0 1h0m0 1h0m0 1h0m0 1h0m0 1h0m0 1h0m0 1h0m0 2h0m0 2h0m0 2h0m0 1h0m1-73h0m0 47h0m0 1h0m0 1h0m0 1h0m0 1h0m0 1h0m0 1h0m0 1h0m0 1h0m0 1h0m0 1h0m0 1h0m0 1h0m0 1h0m0 2h0m0 1h0m0 1h0m0 1h0m0 1h0m0 1h0m0 1h0m0 1h0m0 2h0m1-28h0m0 1h0m0 3h0m0 1h0m0 1h0m0 1h0m0 1h0m0 1h0m0 1h0m0 1h0m0 1h0m0 1h0m0 1h0m0 1h0m0 1h0m0 1h0m0 1h0m0 1h0m0 1h0m0 1h0m0 1h0m0 2h0m0 2h0m0 1h0m1-34h0m0 6h0m0 3h0m0 1h0m0 1h0m0 1h0m0 1h0m0 1h0m0 1h0m0 1h0m0 1h0m0 1h0m0 1h0m0 1h0m0 1h0m0 1h0m0 1h0m0 1h0m0 1h0m0 1h0m0 1h0m0 3h0m0 1h0m0 1h0m0 1h0m0 2h0m0 3h0m0 1h0m1-71h0m0 39h0m0 1h0m0 1h0m0 2h0m0 2h0m0 2h0m0 1h0m0 1h0m0 1h0m0 1h0m0 1h0m0 1h0m0 1h0m0 1h0m0 1h0m0 1h0m0 1h0m0 2h0m0 2h0m0 1h0m0 1h0m0 1h0m0 1h0m0 1h0m0 11h0m1-58h0m0 11h0m0 3h0m0 3h0m0 4h0m0 1h0m0 1h0m0 1h0m0 1h0m0 1h0m0 2h0m0 1h0m0 1h0m0 1h0m0 1h0m0 1h0m0 1h0m0 1h0m0 1h0m0 1h0m0 1h0m0 1h0m0 1h0m0 1h0m0 1h0m0 1h0m0 1h0m0 2h0m0 4h0m0 2h0m0 1h0m1-62h0m0 19h0m0 3h0m0 5h0m0 1h0m0 1h0m0 2h0m0 1h0m0 2h0m0 1h0m0 1h0m0 1h0m0 1h0m0 1h0m0 1h0m0 1h0m0 1h0m0 1h0m0 1h0m0 1h0m0 1h0m0 3h0m0 1h0m0 1h0m0 3h0m0 1h0m0 11h0m1-94h0m0 7h0m0 40h0m0 4h0m0 2h0m0 4h0m0 1h0m0 1h0m0 2h0m0 1h0m0 1h0m0 1h0m0 1h0m0 1h0m0 1h0m0 1h0m0 1h0m0 1h0m0 1h0m0 1h0m0 1h0m0 2h0m0 7h0m0 1h0m0 3h0m1-64h0m0 26h0m0 6h0m0 1h0m0 1h0m0 1h0m0 1h0m0 1h0m0 1h0m0 1h0m0 1h0m0 1h0m0 1h0m0 1h0m0 1h0m0 1h0m0 1h0m0 1h0m0 1h0m0 1h0m0 1h0m0 1h0m0 1h0m0 1h0m0 1h0m0 1h0m0 1h0m0 1h0m0 2h0m0 1h0m0 7h0m1-54h0m0 14h0m0 1h0m0 1h0m0 2h0m0 3h0m0 4h0m0 1h0m0 1h0m0 1h0m0 1h0m0 1h0m0 1h0m0 1h0m0 1h0m0 1h0m0 1h0m0 1h0m0 1h0m0 1h0m0 1h0m0 1h0m0 2h0m0 2h0m0 6h0m0 2h0m1-39h0m0 4h0m0 1h0m0 1h0m0 1h0m0 1h0m0 1h0m0 1h0m0 1h0m0 1h0m0 1h0m0 1h0m0 1h0m0 1h0m0 1h0m0 1h0m0 1h0m0 1h0m0 1h0m0 1h0m0 1h0m0 1h0m0 1h0m0 1h0m0 1h0m0 1h0m0 1h0m0 1h0m0 3h0m0 1h0m1-39h0m0 7h0m0 1h0m0 1h0m0 4h0m0 2h0m0 2h0m0 1h0m0 1h0m0 1h0m0 1h0m0 1h0m0 1h0m0 1h0m0 1h0m0 1h0m0 1h0m0 1h0m0 1h0m0 2h0m0 1h0m0 1h0m0 1h0m0 1h0m0 4h0m0 1h0m0 3h0m1-74h0m0 36h0m0 5h0m0 1h0m0 1h0m0 1h0m0 1h0m0 1h0m0 1h0m0 1h0m0 1h0m0 1h0m0 1h0m0 1h0m0 1h0m0 1h0m0 1h0m0 1h0m0 1h0m0 1h0m0 1h0m0 1h0m0 1h0m0 1h0m0 1h0m0 1h0m0 2h0m0 3h0m1-85h0m0 23h0m0 12h0m0 18h0m0 1h0m0 1h0m0 3h0m0 2h0m0 1h0m0 1h0m0 1h0m0 2h0m0 1h0m0 1h0m0 1h0m0 1h0m0 1h0m0 1h0m0 1h0m0 1h0m0 1h0m0 1h0m0 1h0m0 1h0m0 1h0m0 2h0m0 4h0m0 6h0m1-95h0m0 19h0m0 13h0m0 5h0m0 22h0m0 1h0m0 4h0m0 1h0m0 1h0m0 1h0m0 1h0m0 1h0m0 1h0m0 1h0m0 1h0m0 1h0m0 1h0m0 1h0m0 2h0m0 1h0m0 1h0m0 1h0m0 1h0m0 1h0m0 1h0m0 1h0m0 2h0m0 5h0m1-58h0m0 5h0m0 1h0m0 15h0m0 5h0m0 2h0m0 2h0m0 1h0m0 1h0m0 1h0m0 1h0m0 1h0m0 1h0m0 1h0m0 1h0m0 1h0m0 1h0m0 1h0m0 1h0m0 1h0m0 1h0m0 1h0m0 1h0m0 1h0m0 1h0m0 1h0m0 2h0m0 2h0m0 1h0m1-69h0m0 6h0m0 4h0m0 8h0m0 1h0m0 12h0m0 3h0m0 2h0m0 3h0m0 3h0m0 1h0m0 1h0m0 1h0m0 4h0m0 1h0m0 1h0m0 1h0m0 1h0m0 1h0m0 1h0m0 1h0m0 1h0m0 1h0m0 1h0m0 1h0m0 1h0m0 1h0m0 1h0m0 2h0m0 1h0m0 2h0m0 1h0m0 2h0m0 2h0m1-92h0m0 14h0m0 46h0m0 2h0m0 1h0m0 1h0m0 1h0m0 1h0m0 1h0m0 1h0m0 1h0m0 1h0m0 1h0m0 1h0m0 1h0m0 1h0m0 1h0m0 1h0m0 1h0m0 1h0m0 1h0m0 1h0m0 1h0m0 1h0m0 1h0m0 1h0m0 1h0m0 1h0m0 4h0m0 2h0m1-51h0m0 9h0m0 6h0m0 1h0m0 5h0m0 1h0m0 1h0m0 1h0m0 1h0m0 1h0m0 1h0m0 1h0m0 1h0m0 1h0m0 1h0m0 1h0m0 1h0m0 1h0m0 1h0m0 1h0m0 1h0m0 1h0m0 1h0m0 1h0m0 2h0m0 2h0m0 2h0m0 1h0m0 1h0m0 7h0m0 3h0m1-112h0m0 31h0m0 7h0m0 27h0m0 5h0m0 4h0m0 1h0m0 4h0m0 1h0m0 2h0m0 1h0m0 2h0m0 1h0m0 1h0m0 1h0m0 1h0m0 1h0m0 1h0m0 1h0m0 1h0m0 1h0m0 2h0m0 2h0m0 3h0m1-72h0m0 16h0m0 10h0m0 6h0m0 3h0m0 7h0m0 1h0m0 5h0m0 2h0m0 1h0m0 1h0m0 1h0m0 1h0m0 1h0m0 2h0m0 1h0m0 1h0m0 1h0m0 1h0m0 2h0m0 2h0m0 1h0m0 2h0m0 1h0m0 1h0m1-82h0m0 6h0m0 26h0m0 18h0m0 2h0m0 3h0m0 2h0m0 1h0m0 2h0m0 1h0m0 1h0m0 1h0m0 1h0m0 2h0m0 1h0m0 1h0m0 1h0m0 1h0m0 1h0m0 1h0m0 4h0m0 1h0m0 3h0m0 2h0m0 1h0m1-82h0m0 20h0m0 9h0m0 18h0m0 2h0m0 2h0m0 4h0m0 1h0m0 1h0m0 4h0m0 1h0m0 1h0m0 1h0m0 2h0m0 1h0m0 1h0m0 1h0m0 1h0m0 2h0m0 2h0m0 2h0m0 2h0m0 2h0m0 6h0m1-66h0m0 1h0m0 26h0m0 9h0m0 1h0m0 1h0m0 1h0m0 1h0m0 2h0m0 1h0m0 1h0m0 1h0m0 1h0m0 2h0m0 1h0m0 1h0m0 1h0m0 1h0m0 2h0m0 1h0m0 1h0m0 16h0m1-81h0m0 4h0m0 6h0m0 19h0m0 5h0m0 3h0m0 1h0m0 3h0m0 4h0m0 1h0m0 1h0m0 1h0m0 1h0m0 1h0m0 2h0m0 1h0m0 1h0m0 1h0m0 3h0m0 1h0m0 3h0m0 1h0m0 4h0m0 1h0m1-97h0m0 31h0m0 4h0m0 15h0m0 12h0m0 15h0m0 1h0m0 1h0m0 2h0m0 1h0m0 1h0m0 1h0m0 1h0m0 2h0m0 1h0m0 2h0m0 7h0m0 2h0m0 10h0m1-82h0m0 3h0m0 34h0m0 6h0m0 2h0m0 3h0m0 2h0m0 1h0m0 1h0m0 1h0m0 2h0m0 1h0m0 1h0m0 1h0m0 2h0m0 3h0m0 1h0m0 3h0m0 1h0m1-60h0m0 20h0m0 3h0m0 1h0m0 11h0m0 1h0m0 5h0m0 1h0m0 2h0m0 2h0m0 1h0m0 1h0m0 1h0m0 3h0m0 2h0m0 3h0m0 2h0m0 9h0m0 2h0m1-93h0m0 6h0m0 13h0m0 2h0m0 12h0m0 15h0m0 10h0m0 2h0m0 1h0m0 3h0m0 2h0m0 2h0m0 2h0m0 1h0m0 2h0m0 2h0m0 2h0m0 5h0m1-74h0m0 2h0m0 7h0m0 3h0m0 6h0m0 1h0m0 3h0m0 7h0m0 29h0m0 2h0m0 2h0m0 1h0m0 2h0m0 3h0m0 1h0m0 18h0m1-90h0m0 8h0m0 5h0m0 1h0m0 6h0m0 8h0m0 3h0m0 1h0m0 24h0m0 3h0m0 4h0m0 2h0m0 1h0m0 1h0m0 1h0m0 7h0m1-72h0m0 2h0m0 3h0m0 2h0m0 4h0m0 7h0m0 3h0m0 3h0m0 23h0m0 4h0m0 2h0m0 4h0m0 1h0m0 2h0m0 1h0m0 2h0m0 1h0m0 1h0m0 1h0m0 1h0m0 12h0m0 8h0m1-94h0m0 8h0m0 7h0m0 8h0m0 6h0m0 18h0m0 12h0m0 5h0m0 4h0m0 2h0m0 5h0m0 1h0m1-70h0m0 6h0m0 11h0m0 5h0m0 2h0m0 14h0m0 2h0m0 11h0m0 1h0m0 1h0m0 3h0m0 1h0m0 1h0m0 4h0m0 2h0m0 3h0m0 1h0m1-66h0m0 3h0m0 2h0m0 1h0m0 1h0m0 6h0m0 1h0m0 3h0m0 6h0m0 23h0m0 14h0m0 4h0m0 6h0m0 7h0m1-79h0m0 7h0m0 3h0m0 7h0m0 27h0m0 12h0m1-62h0m0 7h0m0 2h0m0 1h0m0 3h0m0 4h0m0 2h0m0 1h0m0 1h0m0 1h0m0 3h0m0 3h0m0 3h0m0 7h0m0 10h0m0 10h0m0 5h0m1-57h0m0 1h0m0 2h0m0 2h0m0 1h0m0 2h0m0 3h0m0 2h0m0 2h0m0 3h0m0 6h0m0 18h0m0 12h0m1-66h0m0 9h0m0 2h0m0 1h0m0 5h0m0 1h0m0 1h0m0 1h0m0 1h0m0 1h0m0 2h0m0 1h0m0 3h0m0 1h0m0 1h0m0 1h0m0 2h0m0 35h0m0 9h0m0 10h0m1-92h0m0 12h0m0 3h0m0 2h0m0 1h0m0 1h0m0 3h0m0 1h0m0 1h0m0 2h0m0 1h0m0 2h0m0 1h0m0 1h0m0 1h0m0 1h0m0 2h0m0 1h0m0 5h0m0 13h0m0 19h0m0 1h0m0 4h0m0 1h0m0 8h0m1-76h0m0 8h0m0 2h0m0 1h0m0 1h0m0 2h0m0 1h0m0 1h0m0 1h0m0 1h0m0 1h0m0 1h0m0 1h0m0 2h0m0 1h0m0 1h0m0 3h0m0 5h0m0 3h0m0 21h0m0 8h0m0 2h0m0 1h0m1-69h0m0 2h0m0 1h0m0 2h0m0 2h0m0 1h0m0 3h0m0 1h0m0 1h0m0 2h0m0 1h0m0 1h0m0 1h0m0 2h0m0 1h0m0 1h0m0 1h0m0 1h0m0 1h0m0 7h0m0 17h0m0 17h0m1-61h0m0 2h0m0 1h0m0 1h0m0 2h0m0 1h0m0 2h0m0 1h0m0 1h0m0 2h0m0 1h0m0 1h0m0 1h0m0 1h0m0 2h0m0 1h0m0 1h0m0 17h0m0 16h0m0 1h0m0 3h0m1-65h0m0 4h0m0 2h0m0 2h0m0 1h0m0 1h0m0 1h0m0 1h0m0 1h0m0 2h0m0 1h0m0 1h0m0 1h0m0 1h0m0 1h0m0 1h0m0 1h0m0 1h0m0 1h0m0 1h0m0 1h0m0 2h0m0 1h0m0 3h0m0 8h0m0 20h0m0 15h0m0 2h0m0 4h0m0 2h0m0 3h0m1-81h0m0 1h0m0 1h0m0 1h0m0 1h0m0 1h0m0 1h0m0 1h0m0 1h0m0 1h0m0 2h0m0 1h0m0 1h0m0 1h0m0 1h0m0 3h0m0 1h0m0 1h0m0 1h0m0 1h0m0 13h0m0 3h0m0 21h0m0 2h0m0 6h0m0 8h0m0 2h0m1-80h0m0 3h0m0 1h0m0 2h0m0 2h0m0 1h0m0 1h0m0 1h0m0 1h0m0 1h0m0 1h0m0 1h0m0 1h0m0 1h0m0 1h0m0 1h0m0 1h0m0 1h0m0 1h0m0 1h0m0 1h0m0 1h0m0 1h0m0 1h0m0 1h0m0 3h0m0 33h0m0 4h0m0 3h0m0 14h0m1-86h0m0 1h0m0 3h0m0 2h0m0 1h0m0 1h0m0 1h0m0 1h0m0 1h0m0 1h0m0 1h0m0 1h0m0 1h0m0 1h0m0 1h0m0 1h0m0 1h0m0 1h0m0 1h0m0 3h0m0 1h0m0 2h0m0 1h0m0 10h0m0 7h0m0 1h0m0 10h0m0 1h0m0 10h0m0 2h0m0 2h0m0 2h0m0 3h0m0 1h0m0 8h0m1-89h0m0 4h0m0 2h0m0 3h0m0 1h0m0 1h0m0 1h0m0 1h0m0 1h0m0 1h0m0 1h0m0 1h0m0 1h0m0 1h0m0 1h0m0 1h0m0 1h0m0 1h0m0 1h0m0 2h0m0 1h0m0 1h0m0 1h0m0 1h0m0 2h0m0 4h0m0 1h0m0 20h0m0 12h0m0 3h0m0 1h0m0 1h0m0 1h0m0 2h0m0 1h0m0 2h0m0 1h0m1-73h0m0 1h0m0 1h0m0 1h0m0 1h0m0 1h0m0 1h0m0 1h0m0 1h0m0 1h0m0 2h0m0 1h0m0 1h0m0 1h0m0 1h0m0 2h0m0 1h0m0 1h0m0 1h0m0 1h0m0 1h0m0 2h0m0 1h0m0 4h0m0 1h0m0 17h0m0 7h0m0 3h0m0 2h0m0 4h0m0 1h0m0 1h0m0 3h0m0 1h0m0 2h0m0 1h0m0 14h0m0 2h0m1-92h0m0 1h0m0 1h0m0 4h0m0 1h0m0 1h0m0 2h0m0 1h0m0 1h0m0 1h0m0 2h0m0 1h0m0 1h0m0 1h0m0 2h0m0 1h0m0 1h0m0 1h0m0 1h0m0 1h0m0 1h0m0 2h0m0 2h0m0 1h0m0 1h0m0 1h0m0 25h0m0 2h0m0 1h0m0 5h0m0 3h0m0 2h0m0 2h0m0 1h0m0 3h0m0 2h0m0 1h0m0 6h0m0 6h0m1-94h0m0 4h0m0 3h0m0 2h0m0 1h0m0 2h0m0 1h0m0 1h0m0 1h0m0 1h0m0 1h0m0 1h0m0 1h0m0 1h0m0 1h0m0 1h0m0 1h0m0 1h0m0 1h0m0 1h0m0 1h0m0 1h0m0 2h0m0 3h0m0 12h0m0 11h0m0 2h0m0 4h0m0 7h0m0 4h0m0 2h0m0 2h0m0 1h0m0 5h0m0 1h0m0 2h0m0 2h0m1-89h0m0 3h0m0 3h0m0 2h0m0 1h0m0 1h0m0 1h0m0 1h0m0 1h0m0 2h0m0 1h0m0 1h0m0 1h0m0 1h0m0 1h0m0 2h0m0 1h0m0 1h0m0 1h0m0 1h0m0 1h0m0 1h0m0 1h0m0 1h0m0 4h0m0 5h0m0 12h0m0 3h0m0 1h0m0 2h0m0 3h0m0 3h0m0 3h0m0 1h0m0 1h0m0 8h0m0 1h0m0 1h0m0 2h0m1-78h0m0 4h0m0 1h0m0 1h0m0 2h0m0 2h0m0 1h0m0 1h0m0 1h0m0 1h0m0 1h0m0 1h0m0 1h0m0 3h0m0 1h0m0 1h0m0 1h0m0 1h0m0 1h0m0 3h0m0 1h0m0 15h0m0 19h0m0 3h0m0 1h0m0 1h0m0 1h0m0 1h0m0 1h0m0 1h0m0 1h0m0 2h0m0 1h0m0 1h0m0 1h0m0 2h0m0 1h0m0 4h0m0 1h0m0 8h0m1-87h0m0 2h0m0 1h0m0 1h0m0 1h0m0 1h0m0 1h0m0 1h0m0 1h0m0 1h0m0 2h0m0 2h0m0 2h0m0 1h0m0 1h0m0 1h0m0 2h0m0 5h0m0 1h0m0 19h0m0 4h0m0 3h0m0 2h0m0 4h0m0 1h0m0 2h0m0 1h0m0 2h0m0 4h0m0 1h0m0 2h0m0 3h0m0 1h0m1-75h0m0 1h0m0 1h0m0 1h0m0 1h0m0 1h0m0 3h0m0 1h0m0 1h0m0 1h0m0 1h0m0 2h0m0 1h0m0 1h0m0 2h0m0 2h0m0 4h0m0 4h0m0 18h0m0 1h0m0 8h0m0 2h0m0 1h0m0 1h0m0 2h0m0 6h0m0 2h0m0 1h0m0 3h0m0 1h0m0 3h0m1-88h0m0 6h0m0 3h0m0 2h0m0 6h0m0 1h0m0 1h0m0 1h0m0 1h0m0 1h0m0 1h0m0 1h0m0 2h0m0 1h0m0 2h0m0 1h0m0 3h0m0 14h0m0 5h0m0 4h0m0 2h0m0 2h0m0 1h0m0 2h0m0 2h0m0 1h0m0 1h0m0 1h0m0 5h0m0 1h0m0 4h0m0 1h0m0 1h0m0 7h0m0 5h0m0 5h0m1-89h0m0 1h0m0 1h0m0 1h0m0 1h0m0 1h0m0 4h0m0 1h0m0 1h0m0 1h0m0 1h0m0 1h0m0 1h0m0 2h0m0 1h0m0 1h0m0 1h0m0 1h0m0 1h0m0 3h0m0 4h0m0 16h0m0 11h0m0 2h0m0 6h0m0 1h0m0 3h0m0 5h0m0 2h0m0 4h0m0 2h0m0 2h0m0 5h0m1-90h0m0 1h0m0 5h0m0 3h0m0 1h0m0 1h0m0 2h0m0 1h0m0 2h0m0 3h0m0 1h0m0 2h0m0 2h0m0 2h0m0 17h0m0 3h0m0 7h0m0 1h0m0 1h0m0 6h0m0 2h0m0 2h0m0 1h0m0 1h0m0 2h0m0 4h0m0 4h0m0 1h0m0 1h0m0 3h0m0 1h0m0 5h0m0 8h0m1-107h0m0 13h0m0 1h0m0 1h0m0 1h0m0 1h0m0 1h0m0 1h0m0 2h0m0 2h0m0 1h0m0 1h0m0 1h0m0 1h0m0 1h0m0 1h0m0 1h0m0 1h0m0 2h0m0 1h0m0 7h0m0 11h0m0 8h0m0 2h0m0 2h0m0 6h0m0 2h0m0 7h0m0 1h0m0 2h0m0 1h0m0 5h0m0 1h0m0 2h0m1-77h0m0 1h0m0 2h0m0 1h0m0 2h0m0 3h0m0 1h0m0 1h0m0 3h0m0 1h0m0 2h0m0 1h0m0 3h0m0 10h0m0 2h0m0 12h0m0 7h0m0 1h0m0 4h0m0 1h0m0 1h0m0 3h0m0 3h0m0 1h0m0 1h0m0 1h0m0 1h0m0 1h0m0 5h0m0 3h0m1-79h0m0 3h0m0 2h0m0 1h0m0 1h0m0 2h0m0 2h0m0 1h0m0 1h0m0 4h0m0 12h0m0 10h0m0 11h0m0 4h0m0 7h0m0 4h0m0 14h0m0 3h0m0 1h0m1-77h0m0 5h0m0 1h0m0 5h0m0 1h0m0 2h0m0 21h0m0 8h0m0 2h0m0 4h0m0 1h0m0 3h0m0 1h0m0 1h0m0 2h0m0 2h0m0 6h0m1-72h0m0 4h0m0 5h0m0 1h0m0 1h0m0 1h0m0 1h0m0 4h0m0 1h0m0 1h0m0 1h0m0 1h0m0 40h0m0 2h0m0 2h0m0 1h0m0 4h0m0 5h0m1-69h0m0 6h0m0 1h0m0 3h0m0 29h0m0 16h0m0 3h0m0 3h0m0 1h0m0 3h0m0 5h0m0 1h0m0 3h0m0 1h0m0 8h0m1-85h0m0 1h0m0 1h0m0 7h0m0 1h0m0 1h0m0 4h0m0 4h0m0 23h0m0 1h0m0 3h0m0 1h0m0 12h0m0 1h0m0 20h0m1-84h0m0 7h0m0 1h0m0 5h0m0 3h0m0 6h0m0 32h0m0 2h0m0 1h0m0 9h0m0 5h0m0 1h0m0 1h0m0 6h0m1-77h0m0 1h0m0 1h0m0 7h0m0 1h0m0 3h0m0 5h0m0 26h0m0 6h0m0 5h0m0 8h0m0 6h0m1-78h0m0 6h0m0 14h0m0 29h0m0 13h0m0 11h0m0 9h0m1-71h0m0 5h0m0 7h0m0 39h0m0 2h0m0 20h0m0 3h0m1-78h0m0 17h0m0 45h0m0 5h0m0 1h0m0 22h0m1-64h0m0 39h0m2-52h0m0 57h0m1-7h0m0 3h0m9-35h0m3 42h0" fill="none" stroke="#1a1a1a" stroke-width="2" stroke-linecap="square"/>
<path d="M174.8 407V470M140.6 437.2H216" stroke="#151515" stroke-width="1.35" fill="none"/>
<path d="M140.6 407H216V470" stroke="#151515" stroke-width="1.3" fill="none"/>
<path d="M140.6 406.4V470H216.6" stroke="#111" stroke-width="1.5" fill="none"/>
<path d="M140.6 470v2.9M140.6 470.0h-2.9M146.3 470v1.5M140.6 465.3h-1.5M149.6 470v1.5M140.6 462.5h-1.5M151.9 470v1.5M140.6 460.5h-1.5M153.8 470v1.5M140.6 459.0h-1.5M155.3 470v1.5M140.6 457.7h-1.5M156.5 470v1.5M140.6 456.7h-1.5M157.6 470v1.5M140.6 455.8h-1.5M158.6 470v1.5M140.6 455.0h-1.5M159.4 470v2.9M140.6 454.2h-2.9M165.1 470v1.5M140.6 449.5h-1.5M168.4 470v1.5M140.6 446.7h-1.5M170.8 470v1.5M140.6 444.8h-1.5M172.6 470v1.5M140.6 443.2h-1.5M174.1 470v1.5M140.6 442.0h-1.5M175.4 470v1.5M140.6 440.9h-1.5M176.5 470v1.5M140.6 440.0h-1.5M177.4 470v1.5M140.6 439.2h-1.5M178.3 470v2.9M140.6 438.5h-2.9M184.0 470v1.5M140.6 433.8h-1.5M187.3 470v1.5M140.6 431.0h-1.5M189.6 470v1.5M140.6 429.0h-1.5M191.5 470v1.5M140.6 427.5h-1.5M193.0 470v1.5M140.6 426.2h-1.5M194.2 470v1.5M140.6 425.2h-1.5M195.3 470v1.5M140.6 424.3h-1.5M196.3 470v1.5M140.6 423.5h-1.5M197.2 470v2.9M140.6 422.8h-2.9M202.8 470v1.5M140.6 418.0h-1.5M206.1 470v1.5M140.6 415.2h-1.5M208.5 470v1.5M140.6 413.3h-1.5M210.3 470v1.5M140.6 411.7h-1.5M211.8 470v1.5M140.6 410.5h-1.5M213.1 470v1.5M140.6 409.4h-1.5M214.2 470v1.5M140.6 408.5h-1.5M215.1 470v1.5M140.6 407.7h-1.5M216 470v2.4M140.6 407h-2.4" stroke="#1a1a1a" stroke-width="1.0" fill="none"/>
<text x="136.4" y="481.3" font-size="7.4" font-weight="normal" fill="#222" stroke="#222" stroke-width="0.25" textLength="9.6" lengthAdjust="spacingAndGlyphs">10<tspan dy="-3.4" font-size="6.2">0</tspan></text>
<text x="135.4" y="474.6" font-size="7.4" font-weight="normal" fill="#222" stroke="#222" stroke-width="0.25" textLength="9.6" lengthAdjust="spacingAndGlyphs" transform="rotate(-90 135.4 474.6)">10<tspan dy="-3.4" font-size="6.2">0</tspan></text>
<text x="155.2" y="481.3" font-size="7.4" font-weight="normal" fill="#222" stroke="#222" stroke-width="0.25" textLength="9.6" lengthAdjust="spacingAndGlyphs">10<tspan dy="-3.4" font-size="6.2">1</tspan></text>
<text x="135.4" y="458.9" font-size="7.4" font-weight="normal" fill="#222" stroke="#222" stroke-width="0.25" textLength="9.6" lengthAdjust="spacingAndGlyphs" transform="rotate(-90 135.4 458.9)">10<tspan dy="-3.4" font-size="6.2">1</tspan></text>
<text x="174.1" y="481.3" font-size="7.4" font-weight="normal" fill="#222" stroke="#222" stroke-width="0.25" textLength="9.6" lengthAdjust="spacingAndGlyphs">10<tspan dy="-3.4" font-size="6.2">2</tspan></text>
<text x="135.4" y="443.1" font-size="7.4" font-weight="normal" fill="#222" stroke="#222" stroke-width="0.25" textLength="9.6" lengthAdjust="spacingAndGlyphs" transform="rotate(-90 135.4 443.1)">10<tspan dy="-3.4" font-size="6.2">2</tspan></text>
<text x="193.0" y="481.3" font-size="7.4" font-weight="normal" fill="#222" stroke="#222" stroke-width="0.25" textLength="9.6" lengthAdjust="spacingAndGlyphs">10<tspan dy="-3.4" font-size="6.2">3</tspan></text>
<text x="135.4" y="427.4" font-size="7.4" font-weight="normal" fill="#222" stroke="#222" stroke-width="0.25" textLength="9.6" lengthAdjust="spacingAndGlyphs" transform="rotate(-90 135.4 427.4)">10<tspan dy="-3.4" font-size="6.2">3</tspan></text>
<text x="211.8" y="481.3" font-size="7.4" font-weight="normal" fill="#222" stroke="#222" stroke-width="0.25" textLength="9.6" lengthAdjust="spacingAndGlyphs">10<tspan dy="-3.4" font-size="6.2">4</tspan></text>
<text x="135.4" y="411.6" font-size="7.4" font-weight="normal" fill="#222" stroke="#222" stroke-width="0.25" textLength="9.6" lengthAdjust="spacingAndGlyphs" transform="rotate(-90 135.4 411.6)">10<tspan dy="-3.4" font-size="6.2">4</tspan></text>
<text x="144.6" y="417.6" font-size="11" font-weight="bold" fill="#111" stroke="#111" stroke-width="0.3" textLength="17.4" lengthAdjust="spacingAndGlyphs" >3.6</text>
<text x="213.0" y="417.6" font-size="11" font-weight="bold" fill="#111" stroke="#111" stroke-width="0.3" text-anchor="end" textLength="24.3" lengthAdjust="spacingAndGlyphs" >27.5</text>
<text x="144.6" y="467.2" font-size="11" font-weight="bold" fill="#111" stroke="#111" stroke-width="0.3" textLength="24.3" lengthAdjust="spacingAndGlyphs" >55.7</text>
<text x="213.0" y="467.2" font-size="11" font-weight="bold" fill="#111" stroke="#111" stroke-width="0.3" text-anchor="end" textLength="17.4" lengthAdjust="spacingAndGlyphs" >9.2</text>
<rect x="38" y="484.3" width="76.3" height="62.69999999999999" fill="#fff" stroke="none"/>
<path transform="translate(0.50 0.50) scale(.5)" d="M88 1055h0m0 9h0m2-1h0m7-25h0m0 26h0m2-4h0m0 1h0m0 4h0m1-15h0m0 13h0m0 4h0m0 4h0m1-16h0m0 2h0m0 3h0m0 3h0m0 2h0m1-8h0m0 4h0m0 3h0m1-12h0m0 8h0m0 2h0m0 1h0m0 2h0m0 2h0m0 2h0m1-16h0m0 1h0m0 12h0m1-26h0m0 19h0m0 2h0m0 1h0m0 7h0m1-24h0m0 7h0m0 1h0m0 1h0m0 2h0m0 1h0m0 1h0m0 2h0m0 3h0m0 2h0m0 1h0m0 1h0m0 1h0m0 1h0m0 2h0m1-24h0m0 1h0m0 1h0m0 4h0m0 1h0m0 2h0m0 3h0m0 2h0m0 3h0m1-17h0m0 4h0m0 1h0m0 2h0m0 1h0m0 1h0m0 1h0m0 1h0m0 1h0m0 2h0m0 1h0m0 3h0m1-19h0m0 7h0m0 1h0m0 2h0m0 1h0m0 1h0m0 3h0m0 5h0m0 2h0m0 2h0m0 7h0m1-33h0m0 6h0m0 4h0m0 2h0m0 1h0m0 1h0m0 2h0m0 1h0m0 1h0m0 1h0m0 1h0m0 1h0m0 1h0m0 1h0m0 1h0m0 6h0m1-25h0m0 1h0m0 3h0m0 4h0m0 1h0m0 3h0m0 1h0m0 1h0m0 3h0m0 2h0m0 3h0m0 3h0m1-25h0m0 1h0m0 1h0m0 1h0m0 2h0m0 1h0m0 1h0m0 1h0m0 1h0m0 3h0m0 1h0m0 2h0m0 2h0m0 1h0m0 2h0m0 4h0m1-30h0m0 5h0m0 1h0m0 2h0m0 2h0m0 1h0m0 2h0m0 1h0m0 1h0m0 1h0m0 1h0m0 1h0m0 1h0m0 1h0m0 1h0m0 1h0m0 1h0m0 1h0m0 2h0m0 1h0m0 1h0m0 1h0m0 6h0m1-39h0m0 6h0m0 1h0m0 2h0m0 2h0m0 2h0m0 1h0m0 1h0m0 1h0m0 1h0m0 1h0m0 1h0m0 2h0m0 1h0m0 2h0m0 1h0m0 2h0m0 1h0m1-32h0m0 3h0m0 6h0m0 5h0m0 1h0m0 1h0m0 1h0m0 1h0m0 1h0m0 1h0m0 1h0m0 2h0m0 1h0m0 1h0m0 1h0m0 1h0m0 1h0m0 2h0m0 2h0m0 1h0m0 1h0m1-23h0m0 1h0m0 4h0m0 1h0m0 2h0m0 1h0m0 1h0m0 1h0m0 1h0m0 1h0m0 1h0m0 1h0m0 2h0m0 1h0m0 1h0m0 1h0m0 1h0m0 3h0m1-24h0m0 1h0m0 2h0m0 1h0m0 2h0m0 2h0m0 1h0m0 1h0m0 1h0m0 1h0m0 1h0m0 1h0m0 1h0m0 1h0m0 1h0m0 1h0m0 1h0m0 2h0m1-48h0m0 23h0m0 5h0m0 1h0m0 1h0m0 2h0m0 2h0m0 1h0m0 1h0m0 1h0m0 1h0m0 2h0m0 3h0m0 1h0m0 1h0m0 2h0m0 1h0m0 6h0m1-24h0m0 1h0m0 1h0m0 1h0m0 1h0m0 1h0m0 1h0m0 1h0m0 1h0m0 1h0m0 1h0m0 1h0m0 1h0m0 1h0m0 3h0m0 1h0m0 4h0m1-27h0m0 3h0m0 1h0m0 4h0m0 1h0m0 2h0m0 1h0m0 1h0m0 1h0m0 1h0m0 1h0m0 1h0m0 1h0m0 1h0m0 1h0m0 1h0m0 1h0m0 1h0m0 1h0m0 2h0m1-29h0m0 3h0m0 3h0m0 2h0m0 2h0m0 1h0m0 2h0m0 1h0m0 1h0m0 1h0m0 1h0m0 1h0m0 1h0m0 1h0m0 1h0m0 1h0m0 2h0m0 1h0m0 1h0m0 1h0m0 1h0m0 3h0m0 1h0m1-32h0m0 7h0m0 1h0m0 1h0m0 1h0m0 1h0m0 2h0m0 1h0m0 1h0m0 1h0m0 1h0m0 1h0m0 1h0m0 1h0m0 1h0m0 1h0m0 1h0m0 1h0m0 2h0m0 3h0m0 3h0m1-29h0m0 1h0m0 2h0m0 2h0m0 1h0m0 1h0m0 1h0m0 1h0m0 1h0m0 1h0m0 1h0m0 2h0m0 1h0m0 1h0m0 1h0m0 2h0m0 1h0m0 2h0m0 3h0m1-31h0m0 2h0m0 2h0m0 2h0m0 2h0m0 1h0m0 1h0m0 1h0m0 1h0m0 1h0m0 1h0m0 1h0m0 1h0m0 1h0m0 2h0m0 1h0m0 1h0m0 2h0m0 1h0m0 1h0m0 1h0m0 1h0m0 1h0m0 3h0m1-27h0m0 3h0m0 3h0m0 2h0m0 1h0m0 1h0m0 1h0m0 1h0m0 1h0m0 1h0m0 1h0m0 1h0m0 1h0m0 1h0m0 1h0m0 1h0m0 3h0m0 1h0m0 1h0m0 1h0m0 2h0m0 1h0m1-34h0m0 8h0m0 1h0m0 1h0m0 2h0m0 1h0m0 1h0m0 1h0m0 1h0m0 1h0m0 1h0m0 2h0m0 1h0m0 2h0m0 1h0m0 1h0m0 1h0m0 2h0m0 1h0m0 1h0m0 1h0m1-22h0m0 5h0m0 1h0m0 1h0m0 1h0m0 1h0m0 1h0m0 2h0m0 1h0m0 3h0m0 1h0m0 1h0m0 2h0m1-19h0m0 1h0m0 1h0m0 2h0m0 1h0m0 1h0m0 1h0m0 1h0m0 1h0m0 1h0m0 1h0m0 1h0m0 1h0m0 1h0m0 1h0m0 1h0m0 1h0m0 1h0m0 5h0m0 1h0m1-32h0m0 7h0m0 2h0m0 1h0m0 1h0m0 1h0m0 1h0m0 1h0m0 1h0m0 1h0m0 1h0m0 1h0m0 1h0m0 1h0m0 1h0m0 1h0m0 1h0m0 1h0m0 1h0m0 1h0m0 1h0m0 1h0m0 2h0m1-35h0m0 2h0m0 5h0m0 4h0m0 2h0m0 1h0m0 1h0m0 2h0m0 1h0m0 1h0m0 1h0m0 1h0m0 1h0m0 1h0m0 1h0m0 1h0m0 1h0m0 1h0m0 2h0m0 3h0m1-32h0m0 11h0m0 1h0m0 1h0m0 1h0m0 1h0m0 1h0m0 1h0m0 1h0m0 1h0m0 2h0m0 1h0m0 1h0m0 3h0m0 1h0m0 1h0m0 1h0m0 3h0m0 3h0m1-29h0m0 3h0m0 3h0m0 4h0m0 1h0m0 1h0m0 1h0m0 1h0m0 1h0m0 1h0m0 3h0m0 1h0m0 1h0m0 1h0m0 1h0m0 1h0m0 1h0m0 4h0m0 4h0m1-43h0m0 11h0m0 7h0m0 1h0m0 1h0m0 2h0m0 1h0m0 2h0m0 2h0m0 5h0m0 3h0m0 2h0m0 7h0m1-31h0m0 1h0m0 2h0m0 1h0m0 1h0m0 1h0m0 1h0m0 3h0m0 1h0m0 1h0m0 1h0m0 1h0m0 2h0m0 4h0m0 2h0m1-17h0m0 2h0m0 2h0m0 1h0m0 1h0m0 1h0m0 1h0m0 3h0m0 1h0m0 4h0m0 1h0m0 3h0m1-32h0m0 2h0m0 9h0m0 1h0m0 1h0m0 1h0m0 1h0m0 2h0m0 1h0m0 1h0m0 2h0m0 2h0m0 2h0m0 1h0m0 2h0m1-20h0m0 3h0m0 1h0m0 1h0m0 1h0m0 3h0m0 3h0m0 2h0m0 1h0m0 3h0m0 4h0m1-28h0m0 2h0m0 12h0m0 1h0m0 1h0m0 1h0m0 3h0m0 1h0m1-20h0m0 5h0m0 3h0m0 3h0m0 2h0m0 2h0m0 2h0m0 1h0m0 1h0m1-14h0m0 2h0m0 10h0m0 1h0m1-17h0m0 3h0m0 4h0m0 5h0m0 1h0m0 2h0m0 1h0m0 6h0m0 3h0m1-37h0m0 3h0m0 16h0m0 1h0m0 5h0m0 8h0m0 2h0m1-16h0m0 4h0m0 2h0m0 1h0m0 1h0m1-8h0m0 4h0m0 5h0m0 11h0m1-23h0m0 2h0m0 1h0m0 2h0m0 4h0m0 13h0m1-21h0m0 2h0m0 2h0m0 2h0m0 1h0m0 2h0m0 11h0m1-12h0m0 7h0m1-35h0m0 31h0m0 1h0m1-67h0m0 49h0m0 1h0m0 2h0m0 7h0m0 1h0m0 12h0m0 2h0m1-47h0m0 30h0m0 7h0m0 1h0m0 1h0m0 9h0m0 3h0m0 3h0m1-35h0m0 8h0m0 3h0m0 7h0m0 1h0m0 1h0m0 2h0m0 1h0m0 17h0m1-51h0m0 14h0m0 12h0m0 2h0m0 4h0m0 5h0m1-17h0m0 3h0m0 7h0m0 4h0m0 8h0m1-39h0m0 10h0m0 3h0m0 1h0m0 2h0m0 1h0m0 2h0m0 2h0m0 3h0m0 2h0m0 1h0m0 7h0m0 1h0m0 5h0m1-75h0m0 12h0m0 8h0m0 4h0m0 7h0m0 1h0m0 15h0m0 4h0m0 3h0m0 1h0m0 1h0m0 2h0m0 1h0m0 4h0m0 1h0m0 2h0m0 1h0m0 3h0m0 4h0m1-62h0m0 3h0m0 23h0m0 7h0m0 9h0m0 7h0m0 1h0m0 1h0m0 2h0m0 1h0m0 3h0m0 1h0m0 1h0m0 5h0m0 2h0m1-60h0m0 22h0m0 7h0m0 2h0m0 2h0m0 1h0m0 4h0m0 3h0m0 4h0m0 1h0m0 1h0m0 4h0m0 1h0m0 3h0m0 3h0m1-74h0m0 2h0m0 39h0m0 2h0m0 7h0m0 3h0m0 1h0m0 1h0m0 1h0m0 3h0m0 1h0m0 1h0m0 1h0m0 1h0m0 2h0m0 3h0m0 8h0m0 2h0m1-70h0m0 5h0m0 3h0m0 35h0m0 2h0m0 2h0m0 1h0m0 2h0m0 1h0m0 1h0m0 1h0m0 1h0m0 4h0m0 7h0m1-80h0m0 5h0m0 8h0m0 7h0m0 14h0m0 21h0m0 3h0m0 2h0m0 2h0m0 1h0m0 3h0m0 1h0m0 2h0m0 1h0m0 5h0m0 12h0m1-69h0m0 13h0m0 2h0m0 15h0m0 4h0m0 4h0m0 1h0m0 1h0m0 1h0m0 2h0m0 1h0m0 1h0m0 1h0m0 1h0m0 1h0m0 1h0m0 2h0m0 1h0m0 8h0m0 1h0m0 1h0m0 2h0m1-78h0m0 8h0m0 4h0m0 5h0m0 6h0m0 11h0m0 14h0m0 2h0m0 1h0m0 1h0m0 3h0m0 1h0m0 1h0m0 2h0m0 1h0m0 1h0m0 1h0m0 1h0m0 1h0m0 1h0m0 1h0m0 1h0m0 2h0m0 4h0m0 1h0m0 1h0m0 3h0m1-69h0m0 2h0m0 2h0m0 4h0m0 2h0m0 7h0m0 1h0m0 19h0m0 2h0m0 2h0m0 1h0m0 1h0m0 1h0m0 1h0m0 2h0m0 1h0m0 1h0m0 1h0m0 2h0m0 1h0m0 1h0m0 1h0m0 1h0m0 1h0m0 1h0m0 1h0m0 1h0m0 1h0m0 1h0m0 2h0m0 1h0m0 1h0m0 7h0m1-89h0m0 13h0m0 4h0m0 7h0m0 2h0m0 31h0m0 1h0m0 1h0m0 5h0m0 2h0m0 3h0m0 1h0m0 1h0m0 1h0m0 1h0m0 1h0m0 1h0m0 1h0m0 1h0m0 2h0m0 1h0m0 1h0m1-78h0m0 1h0m0 13h0m0 7h0m0 5h0m0 3h0m0 7h0m0 11h0m0 2h0m0 5h0m0 1h0m0 2h0m0 1h0m0 1h0m0 1h0m0 1h0m0 2h0m0 1h0m0 1h0m0 1h0m0 1h0m0 1h0m0 1h0m0 1h0m0 1h0m0 2h0m0 1h0m0 1h0m0 1h0m0 1h0m0 1h0m0 1h0m0 1h0m0 6h0m0 2h0m1-91h0m0 5h0m0 16h0m0 9h0m0 21h0m0 7h0m0 2h0m0 1h0m0 1h0m0 2h0m0 1h0m0 1h0m0 1h0m0 1h0m0 1h0m0 2h0m0 1h0m0 1h0m0 1h0m0 1h0m0 1h0m0 1h0m0 1h0m0 1h0m0 1h0m0 3h0m0 3h0m1-73h0m0 3h0m0 9h0m0 11h0m0 4h0m0 13h0m0 4h0m0 3h0m0 1h0m0 2h0m0 1h0m0 2h0m0 1h0m0 1h0m0 1h0m0 2h0m0 1h0m0 1h0m0 1h0m0 2h0m0 1h0m0 1h0m0 1h0m0 2h0m0 6h0m0 1h0m1-82h0m0 2h0m0 11h0m0 2h0m0 30h0m0 6h0m0 1h0m0 2h0m0 2h0m0 1h0m0 1h0m0 2h0m0 1h0m0 1h0m0 1h0m0 1h0m0 1h0m0 1h0m0 1h0m0 1h0m0 1h0m0 1h0m0 3h0m0 1h0m0 1h0m0 1h0m0 15h0m1-78h0m0 28h0m0 12h0m0 1h0m0 3h0m0 1h0m0 1h0m0 1h0m0 1h0m0 2h0m0 1h0m0 1h0m0 1h0m0 1h0m0 1h0m0 1h0m0 2h0m0 2h0m0 1h0m1-75h0m0 10h0m0 10h0m0 18h0m0 12h0m0 1h0m0 2h0m0 2h0m0 1h0m0 1h0m0 1h0m0 1h0m0 1h0m0 1h0m0 1h0m0 1h0m0 1h0m0 1h0m0 1h0m0 1h0m0 1h0m0 1h0m0 2h0m0 1h0m0 1h0m0 1h0m0 1h0m0 2h0m0 1h0m0 13h0m1-84h0m0 9h0m0 9h0m0 24h0m0 2h0m0 1h0m0 1h0m0 2h0m0 1h0m0 1h0m0 2h0m0 1h0m0 2h0m0 1h0m0 1h0m0 1h0m0 1h0m0 1h0m0 1h0m0 1h0m0 1h0m0 1h0m0 1h0m0 1h0m0 2h0m0 6h0m0 2h0m1-82h0m0 29h0m0 22h0m0 1h0m0 1h0m0 2h0m0 1h0m0 1h0m0 1h0m0 2h0m0 1h0m0 2h0m0 1h0m0 1h0m0 1h0m0 1h0m0 1h0m0 2h0m0 1h0m0 1h0m0 1h0m0 1h0m0 2h0m0 3h0m0 2h0m1-82h0m0 49h0m0 3h0m0 1h0m0 1h0m0 2h0m0 3h0m0 1h0m0 1h0m0 1h0m0 1h0m0 1h0m0 1h0m0 1h0m0 1h0m0 2h0m0 2h0m0 4h0m0 2h0m1-71h0m0 3h0m0 1h0m0 36h0m0 2h0m0 4h0m0 2h0m0 2h0m0 2h0m0 1h0m0 1h0m0 1h0m0 1h0m0 1h0m0 1h0m0 1h0m0 1h0m0 2h0m0 1h0m0 1h0m0 4h0m0 14h0m1-39h0m0 1h0m0 3h0m0 4h0m0 1h0m0 1h0m0 1h0m0 2h0m0 1h0m0 1h0m0 1h0m0 1h0m0 1h0m0 1h0m0 1h0m0 2h0m0 1h0m0 2h0m0 1h0m0 1h0m0 6h0m0 7h0m1-67h0m0 8h0m0 12h0m0 4h0m0 3h0m0 2h0m0 4h0m0 2h0m0 1h0m0 2h0m0 2h0m0 1h0m0 1h0m0 2h0m0 2h0m0 1h0m0 2h0m0 1h0m0 2h0m0 4h0m0 3h0m0 4h0m1-86h0m0 19h0m0 13h0m0 3h0m0 8h0m0 6h0m0 1h0m0 4h0m0 3h0m0 1h0m0 1h0m0 1h0m0 3h0m0 1h0m0 1h0m0 1h0m0 1h0m0 1h0m0 1h0m0 1h0m0 1h0m0 1h0m0 3h0m0 3h0m0 2h0m0 2h0m1-59h0m0 4h0m0 10h0m0 15h0m0 4h0m0 3h0m0 2h0m0 1h0m0 1h0m0 2h0m0 1h0m0 1h0m0 1h0m0 2h0m0 1h0m0 2h0m0 1h0m0 1h0m1-61h0m0 31h0m0 5h0m0 5h0m0 5h0m0 2h0m0 3h0m0 2h0m0 1h0m0 2h0m0 1h0m0 1h0m0 1h0m0 4h0m1-30h0m0 7h0m0 2h0m0 2h0m0 1h0m0 5h0m0 4h0m0 1h0m0 1h0m0 1h0m0 2h0m0 7h0m1-36h0m0 5h0m0 7h0m0 3h0m0 2h0m0 1h0m0 3h0m0 3h0m0 1h0m0 1h0m0 1h0m0 1h0m0 1h0m1-23h0m0 3h0m0 6h0m0 4h0m0 1h0m0 3h0m0 1h0m0 1h0m1-15h0m0 8h0m0 2h0m0 3h0m0 2h0m0 3h0m0 1h0m1-31h0m0 25h0m0 1h0m0 1h0m0 2h0m0 12h0m1-38h0m0 6h0m0 3h0m0 7h0m0 8h0m0 1h0m0 5h0m0 2h0m0 1h0m0 1h0m1-34h0m0 8h0m0 9h0m0 4h0m0 7h0m0 1h0m1-12h0m0 1h0m0 4h0m0 16h0m1-30h0m0 4h0m0 5h0m0 2h0m0 5h0m0 2h0m0 11h0m1-23h0m0 5h0m0 11h0m1-5h0m0 1h0m0 3h0m1-23h0m0 15h0m1-35h0m0 35h0m0 2h0m2-1h0m3-20h0" fill="none" stroke="#1a1a1a" stroke-width="2" stroke-linecap="square"/>
<path d="M72.4 484.3V547M38 514.4H114.3" stroke="#151515" stroke-width="1.35" fill="none"/>
<path d="M38 484.3H114.3V547" stroke="#151515" stroke-width="1.3" fill="none"/>
<path d="M38 483.7V547H114.89999999999999" stroke="#111" stroke-width="1.5" fill="none"/>
<path d="M38.0 547v2.9M38 547.0h-2.9M43.7 547v1.5M38 542.3h-1.5M47.1 547v1.5M38 539.5h-1.5M49.5 547v1.5M38 537.6h-1.5M51.3 547v1.5M38 536.0h-1.5M52.8 547v1.5M38 534.8h-1.5M54.1 547v1.5M38 533.8h-1.5M55.2 547v1.5M38 532.8h-1.5M56.2 547v1.5M38 532.0h-1.5M57.1 547v2.9M38 531.3h-2.9M62.8 547v1.5M38 526.6h-1.5M66.2 547v1.5M38 523.8h-1.5M68.6 547v1.5M38 521.9h-1.5M70.4 547v1.5M38 520.4h-1.5M71.9 547v1.5M38 519.1h-1.5M73.2 547v1.5M38 518.1h-1.5M74.3 547v1.5M38 517.2h-1.5M75.3 547v1.5M38 516.4h-1.5M76.2 547v2.9M38 515.6h-2.9M81.9 547v1.5M38 510.9h-1.5M85.3 547v1.5M38 508.2h-1.5M87.6 547v1.5M38 506.2h-1.5M89.5 547v1.5M38 504.7h-1.5M91.0 547v1.5M38 503.5h-1.5M92.3 547v1.5M38 502.4h-1.5M93.4 547v1.5M38 501.5h-1.5M94.4 547v1.5M38 500.7h-1.5M95.2 547v2.9M38 500.0h-2.9M101.0 547v1.5M38 495.3h-1.5M104.3 547v1.5M38 492.5h-1.5M106.7 547v1.5M38 490.5h-1.5M108.6 547v1.5M38 489.0h-1.5M110.1 547v1.5M38 487.8h-1.5M111.3 547v1.5M38 486.7h-1.5M112.5 547v1.5M38 485.8h-1.5M113.4 547v1.5M38 485.0h-1.5M114.3 547v2.4M38 484.3h-2.4" stroke="#1a1a1a" stroke-width="1.0" fill="none"/>
<text x="33.8" y="558.3" font-size="7.4" font-weight="normal" fill="#222" stroke="#222" stroke-width="0.25" textLength="9.6" lengthAdjust="spacingAndGlyphs">10<tspan dy="-3.4" font-size="6.2">0</tspan></text>
<text x="32.8" y="551.6" font-size="7.4" font-weight="normal" fill="#222" stroke="#222" stroke-width="0.25" textLength="9.6" lengthAdjust="spacingAndGlyphs" transform="rotate(-90 32.8 551.6)">10<tspan dy="-3.4" font-size="6.2">0</tspan></text>
<text x="52.9" y="558.3" font-size="7.4" font-weight="normal" fill="#222" stroke="#222" stroke-width="0.25" textLength="9.6" lengthAdjust="spacingAndGlyphs">10<tspan dy="-3.4" font-size="6.2">1</tspan></text>
<text x="32.8" y="535.9" font-size="7.4" font-weight="normal" fill="#222" stroke="#222" stroke-width="0.25" textLength="9.6" lengthAdjust="spacingAndGlyphs" transform="rotate(-90 32.8 535.9)">10<tspan dy="-3.4" font-size="6.2">1</tspan></text>
<text x="72.0" y="558.3" font-size="7.4" font-weight="normal" fill="#222" stroke="#222" stroke-width="0.25" textLength="9.6" lengthAdjust="spacingAndGlyphs">10<tspan dy="-3.4" font-size="6.2">2</tspan></text>
<text x="32.8" y="520.2" font-size="7.4" font-weight="normal" fill="#222" stroke="#222" stroke-width="0.25" textLength="9.6" lengthAdjust="spacingAndGlyphs" transform="rotate(-90 32.8 520.2)">10<tspan dy="-3.4" font-size="6.2">2</tspan></text>
<text x="91.0" y="558.3" font-size="7.4" font-weight="normal" fill="#222" stroke="#222" stroke-width="0.25" textLength="9.6" lengthAdjust="spacingAndGlyphs">10<tspan dy="-3.4" font-size="6.2">3</tspan></text>
<text x="32.8" y="504.6" font-size="7.4" font-weight="normal" fill="#222" stroke="#222" stroke-width="0.25" textLength="9.6" lengthAdjust="spacingAndGlyphs" transform="rotate(-90 32.8 504.6)">10<tspan dy="-3.4" font-size="6.2">3</tspan></text>
<text x="110.1" y="558.3" font-size="7.4" font-weight="normal" fill="#222" stroke="#222" stroke-width="0.25" textLength="9.6" lengthAdjust="spacingAndGlyphs">10<tspan dy="-3.4" font-size="6.2">4</tspan></text>
<text x="32.8" y="488.9" font-size="7.4" font-weight="normal" fill="#222" stroke="#222" stroke-width="0.25" textLength="9.6" lengthAdjust="spacingAndGlyphs" transform="rotate(-90 32.8 488.9)">10<tspan dy="-3.4" font-size="6.2">4</tspan></text>
<text x="42.0" y="494.90000000000003" font-size="11" font-weight="bold" fill="#111" stroke="#111" stroke-width="0.3" textLength="17.4" lengthAdjust="spacingAndGlyphs" >0.2</text>
<text x="111.3" y="494.90000000000003" font-size="11" font-weight="bold" fill="#111" stroke="#111" stroke-width="0.3" text-anchor="end" textLength="17.4" lengthAdjust="spacingAndGlyphs" >2.7</text>
<text x="42.0" y="544.2" font-size="11" font-weight="bold" fill="#111" stroke="#111" stroke-width="0.3" textLength="24.3" lengthAdjust="spacingAndGlyphs" >46.1</text>
<text x="111.3" y="544.2" font-size="11" font-weight="bold" fill="#111" stroke="#111" stroke-width="0.3" text-anchor="end" textLength="24.3" lengthAdjust="spacingAndGlyphs" >60.0</text>
<rect x="141" y="484.2" width="75" height="62.80000000000001" fill="#fff" stroke="none"/>
<path transform="translate(0.50 0.50) scale(.5)" d="M285 1055h0m4 14h0m0 2h0m1-17h0m1 13h0m1-9h0m0 1h0m0 1h0m0 3h0m1-10h0m0 10h0m0 1h0m0 17h0m1-20h0m1 7h0m0 3h0m1-15h0m0 1h0m0 8h0m0 2h0m0 1h0m0 14h0m1-18h0m1-4h0m0 7h0m0 4h0m0 12h0m1-33h0m0 4h0m0 10h0m0 1h0m0 2h0m0 1h0m0 4h0m0 1h0m1-12h0m0 4h0m0 1h0m0 1h0m0 2h0m0 2h0m1-49h0m0 35h0m0 1h0m0 1h0m0 2h0m0 6h0m0 1h0m0 1h0m0 1h0m0 2h0m1-27h0m0 11h0m0 5h0m0 1h0m0 2h0m0 2h0m0 2h0m0 1h0m0 6h0m0 6h0m1-26h0m0 1h0m0 3h0m0 1h0m0 3h0m0 4h0m0 1h0m0 2h0m0 1h0m0 3h0m0 5h0m0 4h0m1-30h0m0 2h0m0 1h0m0 2h0m0 1h0m0 3h0m0 3h0m0 3h0m0 1h0m0 4h0m0 1h0m0 4h0m1-25h0m0 7h0m0 1h0m0 1h0m0 2h0m0 1h0m0 3h0m0 1h0m0 1h0m0 1h0m0 2h0m0 1h0m1-22h0m0 2h0m0 2h0m0 4h0m0 3h0m0 3h0m0 2h0m0 2h0m0 3h0m0 4h0m0 2h0m1-28h0m0 3h0m0 4h0m0 1h0m0 2h0m0 2h0m0 1h0m0 1h0m0 4h0m0 3h0m0 1h0m1-27h0m0 1h0m0 2h0m0 5h0m0 4h0m0 1h0m0 2h0m0 1h0m0 2h0m0 1h0m0 2h0m0 1h0m0 2h0m0 2h0m0 1h0m0 1h0m0 4h0m1-30h0m0 1h0m0 2h0m0 1h0m0 2h0m0 2h0m0 1h0m0 2h0m0 1h0m0 2h0m0 2h0m0 1h0m0 2h0m0 1h0m0 1h0m0 1h0m0 1h0m0 1h0m0 2h0m0 2h0m0 3h0m1-29h0m0 3h0m0 1h0m0 6h0m0 1h0m0 2h0m0 1h0m0 2h0m0 3h0m0 1h0m0 1h0m0 3h0m0 4h0m0 1h0m1-25h0m0 3h0m0 3h0m0 1h0m0 1h0m0 1h0m0 1h0m0 1h0m0 1h0m0 2h0m0 1h0m0 1h0m0 2h0m0 3h0m0 2h0m0 1h0m1-29h0m0 1h0m0 7h0m0 2h0m0 1h0m0 1h0m0 1h0m0 1h0m0 2h0m0 1h0m0 1h0m0 2h0m0 1h0m0 1h0m0 2h0m0 2h0m1-25h0m0 4h0m0 3h0m0 1h0m0 2h0m0 1h0m0 1h0m0 1h0m0 1h0m0 1h0m0 1h0m0 1h0m0 1h0m0 1h0m0 2h0m0 1h0m0 6h0m1-58h0m0 25h0m0 2h0m0 5h0m0 1h0m0 1h0m0 1h0m0 1h0m0 1h0m0 1h0m0 3h0m0 1h0m0 1h0m0 1h0m0 1h0m0 2h0m0 1h0m0 1h0m0 1h0m0 1h0m0 1h0m0 3h0m0 4h0m1-28h0m0 2h0m0 1h0m0 4h0m0 1h0m0 1h0m0 1h0m0 2h0m0 1h0m0 1h0m0 1h0m0 1h0m0 1h0m0 2h0m0 3h0m1-22h0m0 1h0m0 1h0m0 1h0m0 1h0m0 1h0m0 1h0m0 1h0m0 1h0m0 2h0m0 1h0m0 1h0m0 2h0m0 1h0m0 1h0m0 1h0m0 2h0m0 1h0m0 2h0m0 1h0m0 2h0m1-29h0m0 5h0m0 1h0m0 3h0m0 1h0m0 1h0m0 1h0m0 1h0m0 2h0m0 1h0m0 1h0m0 1h0m0 1h0m0 2h0m0 1h0m0 1h0m0 1h0m0 1h0m0 1h0m0 1h0m0 1h0m0 1h0m0 4h0m1-33h0m0 2h0m0 1h0m0 2h0m0 3h0m0 1h0m0 1h0m0 1h0m0 1h0m0 1h0m0 1h0m0 1h0m0 1h0m0 1h0m0 2h0m0 1h0m0 2h0m0 1h0m0 1h0m0 1h0m0 1h0m0 3h0m1-32h0m0 4h0m0 2h0m0 1h0m0 1h0m0 1h0m0 2h0m0 1h0m0 1h0m0 1h0m0 1h0m0 1h0m0 1h0m0 1h0m0 2h0m0 1h0m0 1h0m0 1h0m0 2h0m0 1h0m0 1h0m0 1h0m0 2h0m1-50h0m0 24h0m0 4h0m0 1h0m0 1h0m0 1h0m0 1h0m0 1h0m0 1h0m0 1h0m0 1h0m0 1h0m0 1h0m0 1h0m0 1h0m0 1h0m0 1h0m0 1h0m0 1h0m0 1h0m0 1h0m0 1h0m0 4h0m0 2h0m1-32h0m0 4h0m0 3h0m0 1h0m0 2h0m0 1h0m0 4h0m0 1h0m0 1h0m0 1h0m0 1h0m0 1h0m0 1h0m0 1h0m0 1h0m0 1h0m0 1h0m0 2h0m0 1h0m0 3h0m0 2h0m1-37h0m0 6h0m0 1h0m0 1h0m0 1h0m0 2h0m0 1h0m0 1h0m0 1h0m0 1h0m0 2h0m0 1h0m0 1h0m0 1h0m0 1h0m0 1h0m0 1h0m0 1h0m0 1h0m0 1h0m0 1h0m0 1h0m0 1h0m0 1h0m0 1h0m0 1h0m0 1h0m0 1h0m0 2h0m0 1h0m0 2h0m1-34h0m0 4h0m0 2h0m0 2h0m0 1h0m0 1h0m0 1h0m0 1h0m0 1h0m0 1h0m0 1h0m0 2h0m0 1h0m0 1h0m0 1h0m0 1h0m0 1h0m0 1h0m0 1h0m0 1h0m0 1h0m0 1h0m0 1h0m0 1h0m1-38h0m0 1h0m0 12h0m0 1h0m0 1h0m0 1h0m0 1h0m0 2h0m0 1h0m0 1h0m0 1h0m0 1h0m0 1h0m0 1h0m0 1h0m0 2h0m0 1h0m0 1h0m0 1h0m0 3h0m0 1h0m1-20h0m0 1h0m0 1h0m0 1h0m0 1h0m0 1h0m0 1h0m0 1h0m0 1h0m0 1h0m0 1h0m0 3h0m0 1h0m0 1h0m0 1h0m0 1h0m0 1h0m0 1h0m0 9h0m1-36h0m0 2h0m0 3h0m0 1h0m0 2h0m0 1h0m0 1h0m0 1h0m0 1h0m0 1h0m0 1h0m0 1h0m0 1h0m0 1h0m0 1h0m0 1h0m0 1h0m0 1h0m0 1h0m0 2h0m0 2h0m0 1h0m0 3h0m0 1h0m0 1h0m1-37h0m0 4h0m0 4h0m0 3h0m0 2h0m0 1h0m0 1h0m0 2h0m0 1h0m0 1h0m0 1h0m0 2h0m0 1h0m0 1h0m0 1h0m0 1h0m0 1h0m0 1h0m0 1h0m0 1h0m0 1h0m0 1h0m0 1h0m0 2h0m0 2h0m0 2h0m1-30h0m0 1h0m0 2h0m0 1h0m0 4h0m0 1h0m0 1h0m0 2h0m0 1h0m0 1h0m0 1h0m0 1h0m0 1h0m0 1h0m0 2h0m0 1h0m0 1h0m0 1h0m0 6h0m1-38h0m0 8h0m0 2h0m0 1h0m0 1h0m0 1h0m0 1h0m0 1h0m0 1h0m0 1h0m0 1h0m0 1h0m0 1h0m0 2h0m0 1h0m0 1h0m0 1h0m0 1h0m0 2h0m0 1h0m0 2h0m0 1h0m0 1h0m0 2h0m0 1h0m1-35h0m0 1h0m0 2h0m0 3h0m0 1h0m0 2h0m0 1h0m0 1h0m0 1h0m0 2h0m0 1h0m0 1h0m0 1h0m0 1h0m0 1h0m0 1h0m0 1h0m0 1h0m0 1h0m0 1h0m0 1h0m0 1h0m0 2h0m0 2h0m0 1h0m0 1h0m0 1h0m1-78h0m0 10h0m0 41h0m0 3h0m0 3h0m0 1h0m0 3h0m0 1h0m0 2h0m0 1h0m0 1h0m0 1h0m0 2h0m0 2h0m0 1h0m0 1h0m0 1h0m0 1h0m0 5h0m1-65h0m0 35h0m0 4h0m0 2h0m0 1h0m0 2h0m0 1h0m0 1h0m0 1h0m0 1h0m0 1h0m0 1h0m0 1h0m0 1h0m0 1h0m0 1h0m0 1h0m0 1h0m0 2h0m0 1h0m1-25h0m0 3h0m0 3h0m0 1h0m0 1h0m0 2h0m0 1h0m0 2h0m0 1h0m0 2h0m0 1h0m0 1h0m0 1h0m0 1h0m0 1h0m0 1h0m0 1h0m0 1h0m0 2h0m0 3h0m0 3h0m1-79h0m0 22h0m0 24h0m0 5h0m0 1h0m0 2h0m0 1h0m0 1h0m0 1h0m0 2h0m0 1h0m0 1h0m0 1h0m0 1h0m0 2h0m0 1h0m0 1h0m0 4h0m0 1h0m0 2h0m0 5h0m0 2h0m1-42h0m0 3h0m0 3h0m0 3h0m0 1h0m0 5h0m0 1h0m0 1h0m0 1h0m0 1h0m0 2h0m0 1h0m0 1h0m0 1h0m0 2h0m0 1h0m0 1h0m0 1h0m0 2h0m0 2h0m0 3h0m0 2h0m0 5h0m1-54h0m0 3h0m0 6h0m0 6h0m0 5h0m0 3h0m0 3h0m0 1h0m0 4h0m0 1h0m0 1h0m0 1h0m0 1h0m0 1h0m0 1h0m0 1h0m0 2h0m0 2h0m0 1h0m0 1h0m0 1h0m0 5h0m1-83h0m0 2h0m0 15h0m0 31h0m0 4h0m0 3h0m0 3h0m0 2h0m0 3h0m0 1h0m0 1h0m0 1h0m0 1h0m0 1h0m0 1h0m0 1h0m0 1h0m0 1h0m0 1h0m0 3h0m0 2h0m0 1h0m1-60h0m0 28h0m0 10h0m0 4h0m0 1h0m0 1h0m0 1h0m0 1h0m0 1h0m0 1h0m0 2h0m0 1h0m0 3h0m0 2h0m0 2h0m0 1h0m0 2h0m0 2h0m1-56h0m0 3h0m0 19h0m0 1h0m0 6h0m0 5h0m0 3h0m0 1h0m0 5h0m0 1h0m0 1h0m0 3h0m1-52h0m0 34h0m0 2h0m0 1h0m0 2h0m0 1h0m0 4h0m0 1h0m0 2h0m0 1h0m0 1h0m0 2h0m0 7h0m1-37h0m0 11h0m0 4h0m0 3h0m0 3h0m0 1h0m0 2h0m0 4h0m0 1h0m0 1h0m0 4h0m0 3h0m0 2h0m1-50h0m0 22h0m0 1h0m0 4h0m0 6h0m0 1h0m0 1h0m0 3h0m0 3h0m0 3h0m1-24h0m0 7h0m0 3h0m0 1h0m0 5h0m0 1h0m0 1h0m1-18h0m0 7h0m0 3h0m0 3h0m0 2h0m0 1h0m0 1h0m0 2h0m0 8h0m1-47h0m0 13h0m0 9h0m0 2h0m0 1h0m0 6h0m0 3h0m0 2h0m0 1h0m0 6h0m1-18h0m1-6h0m0 7h0m0 4h0m0 1h0m0 6h0m0 2h0m1-47h0m0 18h0m0 18h0m0 3h0m0 1h0m0 1h0m0 5h0m0 13h0m1-35h0m0 6h0m0 3h0m0 4h0m0 2h0m0 4h0m0 4h0m0 2h0m1-17h0m0 2h0m0 5h0m0 1h0m0 1h0m0 6h0m1-64h0m0 32h0m0 6h0m0 13h0m0 6h0m0 2h0m0 1h0m0 2h0m0 2h0m1-49h0m0 31h0m0 8h0m0 1h0m0 1h0m0 1h0m0 1h0m0 1h0m0 3h0m0 1h0m0 15h0m1-73h0m0 2h0m0 3h0m0 18h0m0 20h0m0 2h0m0 2h0m0 4h0m0 4h0m0 2h0m0 2h0m1-73h0m0 15h0m0 29h0m0 15h0m0 1h0m0 1h0m0 4h0m0 2h0m0 2h0m0 6h0m0 4h0m0 2h0m1-84h0m0 19h0m0 12h0m0 15h0m0 17h0m0 3h0m0 2h0m0 2h0m0 7h0m0 3h0m0 4h0m1-42h0m0 10h0m0 1h0m0 2h0m0 4h0m0 3h0m0 1h0m0 4h0m0 1h0m0 1h0m0 1h0m0 1h0m0 1h0m0 2h0m0 1h0m0 1h0m1-78h0m0 17h0m0 14h0m0 27h0m0 6h0m0 1h0m0 1h0m0 1h0m0 3h0m0 2h0m0 2h0m0 3h0m0 2h0m0 1h0m0 1h0m0 6h0m1-61h0m0 7h0m0 24h0m0 2h0m0 5h0m0 1h0m0 1h0m0 1h0m0 1h0m0 2h0m0 2h0m0 1h0m0 1h0m0 1h0m0 2h0m0 4h0m0 2h0m1-74h0m0 14h0m0 7h0m0 18h0m0 11h0m0 3h0m0 3h0m0 2h0m0 1h0m0 1h0m0 2h0m0 1h0m0 1h0m0 1h0m0 1h0m0 1h0m0 1h0m0 1h0m0 1h0m0 1h0m0 1h0m1-46h0m0 21h0m0 9h0m0 1h0m0 1h0m0 3h0m0 1h0m0 1h0m0 2h0m0 1h0m0 1h0m0 3h0m0 1h0m0 1h0m0 4h0m1-40h0m0 15h0m0 1h0m0 2h0m0 1h0m0 2h0m0 1h0m0 1h0m0 1h0m0 1h0m0 1h0m0 1h0m0 1h0m0 1h0m0 2h0m0 1h0m0 1h0m0 1h0m0 2h0m0 2h0m0 1h0m0 3h0m1-21h0m0 1h0m0 1h0m0 1h0m0 1h0m0 1h0m0 1h0m0 1h0m0 1h0m0 2h0m0 2h0m0 1h0m0 1h0m0 1h0m0 1h0m0 2h0m0 6h0m1-57h0m0 25h0m0 2h0m0 2h0m0 1h0m0 2h0m0 1h0m0 1h0m0 1h0m0 1h0m0 1h0m0 1h0m0 1h0m0 1h0m0 1h0m0 1h0m0 1h0m0 1h0m0 1h0m0 1h0m0 1h0m0 1h0m0 2h0m0 2h0m0 4h0m1-70h0m0 36h0m0 2h0m0 3h0m0 2h0m0 2h0m0 3h0m0 1h0m0 1h0m0 1h0m0 1h0m0 1h0m0 1h0m0 1h0m0 1h0m0 1h0m0 1h0m0 3h0m0 1h0m0 1h0m0 7h0m0 7h0m1-40h0m0 2h0m0 2h0m0 1h0m0 1h0m0 1h0m0 1h0m0 1h0m0 3h0m0 1h0m0 1h0m0 1h0m0 1h0m0 1h0m0 1h0m0 1h0m0 2h0m0 1h0m0 1h0m0 4h0m1-29h0m0 4h0m0 3h0m0 2h0m0 1h0m0 2h0m0 1h0m0 1h0m0 1h0m0 1h0m0 1h0m0 1h0m0 1h0m0 1h0m0 1h0m0 1h0m0 1h0m0 2h0m0 1h0m0 2h0m0 1h0m0 2h0m0 1h0m1-30h0m0 1h0m0 3h0m0 3h0m0 1h0m0 1h0m0 1h0m0 1h0m0 1h0m0 1h0m0 1h0m0 1h0m0 1h0m0 1h0m0 1h0m0 1h0m0 2h0m0 1h0m0 1h0m0 1h0m0 2h0m0 1h0m0 1h0m0 2h0m0 1h0m0 2h0m1-33h0m0 4h0m0 1h0m0 4h0m0 1h0m0 1h0m0 1h0m0 1h0m0 1h0m0 1h0m0 1h0m0 1h0m0 1h0m0 2h0m0 1h0m0 1h0m0 1h0m0 1h0m0 2h0m0 1h0m0 2h0m0 1h0m0 6h0m1-47h0m0 4h0m0 10h0m0 3h0m0 1h0m0 1h0m0 2h0m0 1h0m0 1h0m0 2h0m0 1h0m0 1h0m0 1h0m0 1h0m0 1h0m0 1h0m0 1h0m0 1h0m0 1h0m0 1h0m0 1h0m0 1h0m0 2h0m0 1h0m0 1h0m0 1h0m0 1h0m0 1h0m1-88h0m0 42h0m0 12h0m0 4h0m0 4h0m0 1h0m0 1h0m0 1h0m0 1h0m0 1h0m0 1h0m0 1h0m0 1h0m0 1h0m0 1h0m0 1h0m0 1h0m0 1h0m0 2h0m0 2h0m0 1h0m0 6h0m0 1h0m0 1h0m1-33h0m0 3h0m0 2h0m0 1h0m0 1h0m0 1h0m0 1h0m0 1h0m0 1h0m0 1h0m0 1h0m0 1h0m0 1h0m0 1h0m0 1h0m0 1h0m0 1h0m0 2h0m0 1h0m0 1h0m0 1h0m0 1h0m0 1h0m0 1h0m0 2h0m0 1h0m0 3h0m1-88h0m0 58h0m0 1h0m0 2h0m0 1h0m0 1h0m0 1h0m0 3h0m0 1h0m0 1h0m0 1h0m0 1h0m0 1h0m0 1h0m0 1h0m0 1h0m0 1h0m0 2h0m0 1h0m0 1h0m0 1h0m0 1h0m1-53h0m0 5h0m0 28h0m0 1h0m0 2h0m0 1h0m0 1h0m0 1h0m0 1h0m0 1h0m0 1h0m0 1h0m0 1h0m0 1h0m0 1h0m0 1h0m0 1h0m0 1h0m0 1h0m0 2h0m0 3h0m0 1h0m0 1h0m0 1h0m1-70h0m0 3h0m0 37h0m0 3h0m0 1h0m0 1h0m0 3h0m0 1h0m0 2h0m0 1h0m0 1h0m0 1h0m0 1h0m0 1h0m0 1h0m0 1h0m0 1h0m0 1h0m0 1h0m0 1h0m0 1h0m0 1h0m0 1h0m0 2h0m0 4h0m1-35h0m0 1h0m0 3h0m0 5h0m0 1h0m0 1h0m0 1h0m0 1h0m0 1h0m0 1h0m0 1h0m0 1h0m0 1h0m0 1h0m0 1h0m0 1h0m0 1h0m0 1h0m0 1h0m0 1h0m0 1h0m0 3h0m1-57h0m0 32h0m0 4h0m0 1h0m0 1h0m0 1h0m0 1h0m0 1h0m0 2h0m0 1h0m0 2h0m0 1h0m0 2h0m0 2h0m0 2h0m0 1h0m0 15h0m1-56h0m0 19h0m0 3h0m0 3h0m0 2h0m0 3h0m0 1h0m0 1h0m0 1h0m0 2h0m0 1h0m0 1h0m0 1h0m0 1h0m0 1h0m0 1h0m0 1h0m0 1h0m0 1h0m0 1h0m0 1h0m0 1h0m1-79h0m0 54h0m0 5h0m0 1h0m0 1h0m0 1h0m0 2h0m0 1h0m0 1h0m0 1h0m0 1h0m0 1h0m0 2h0m0 1h0m0 2h0m0 3h0m1-22h0m0 2h0m0 3h0m0 1h0m0 1h0m0 3h0m0 1h0m0 1h0m0 1h0m0 1h0m0 1h0m0 1h0m0 3h0m1-22h0m0 6h0m0 1h0m0 1h0m0 1h0m0 3h0m0 1h0m0 2h0m0 2h0m0 5h0m0 9h0m1-74h0m0 44h0m0 3h0m0 3h0m0 2h0m0 1h0m0 2h0m0 2h0m0 1h0m0 2h0m0 1h0m0 3h0m0 2h0m0 1h0m0 1h0m0 6h0m1-22h0m0 1h0m0 2h0m0 4h0m0 3h0m0 1h0m0 4h0m0 13h0m1-98h0m0 54h0m0 14h0m0 2h0m0 2h0m0 2h0m0 1h0m0 1h0m0 1h0m0 4h0m0 4h0m1-21h0m0 4h0m0 2h0m0 2h0m0 4h0m0 1h0m0 4h0m1-46h0m0 30h0m0 1h0m0 1h0m0 3h0m0 4h0m0 4h0m0 1h0m0 1h0m0 4h0m1-68h0m0 52h0m0 2h0m0 6h0m0 3h0m0 6h0m1-25h0m0 15h0m0 1h0m0 9h0m1-18h0m0 10h0m0 3h0m0 3h0m1 1h0m1-19h0m0 1h0m0 2h0m0 10h0m1 1h0m1 6h0m3-43h0" fill="none" stroke="#1a1a1a" stroke-width="2" stroke-linecap="square"/>
<path d="M175.8 484.2V547M141 514.4H216" stroke="#151515" stroke-width="1.35" fill="none"/>
<path d="M141 484.2H216V547" stroke="#151515" stroke-width="1.3" fill="none"/>
<path d="M141 483.59999999999997V547H216.6" stroke="#111" stroke-width="1.5" fill="none"/>
<path d="M141.0 547v2.9M141 547.0h-2.9M146.6 547v1.5M141 542.3h-1.5M149.9 547v1.5M141 539.5h-1.5M152.3 547v1.5M141 537.5h-1.5M154.1 547v1.5M141 536.0h-1.5M155.6 547v1.5M141 534.8h-1.5M156.8 547v1.5M141 533.7h-1.5M157.9 547v1.5M141 532.8h-1.5M158.9 547v1.5M141 532.0h-1.5M159.8 547v2.9M141 531.3h-2.9M165.4 547v1.5M141 526.6h-1.5M168.7 547v1.5M141 523.8h-1.5M171.0 547v1.5M141 521.8h-1.5M172.9 547v1.5M141 520.3h-1.5M174.3 547v1.5M141 519.1h-1.5M175.6 547v1.5M141 518.0h-1.5M176.7 547v1.5M141 517.1h-1.5M177.6 547v1.5M141 516.3h-1.5M178.5 547v2.9M141 515.6h-2.9M184.1 547v1.5M141 510.9h-1.5M187.4 547v1.5M141 508.1h-1.5M189.8 547v1.5M141 506.1h-1.5M191.6 547v1.5M141 504.6h-1.5M193.1 547v1.5M141 503.4h-1.5M194.3 547v1.5M141 502.3h-1.5M195.4 547v1.5M141 501.4h-1.5M196.4 547v1.5M141 500.6h-1.5M197.2 547v2.9M141 499.9h-2.9M202.9 547v1.5M141 495.2h-1.5M206.2 547v1.5M141 492.4h-1.5M208.5 547v1.5M141 490.4h-1.5M210.4 547v1.5M141 488.9h-1.5M211.8 547v1.5M141 487.7h-1.5M213.1 547v1.5M141 486.6h-1.5M214.2 547v1.5M141 485.7h-1.5M215.1 547v1.5M141 484.9h-1.5M216 547v2.4M141 484.2h-2.4" stroke="#1a1a1a" stroke-width="1.0" fill="none"/>
<text x="136.8" y="558.3" font-size="7.4" font-weight="normal" fill="#222" stroke="#222" stroke-width="0.25" textLength="9.6" lengthAdjust="spacingAndGlyphs">10<tspan dy="-3.4" font-size="6.2">0</tspan></text>
<text x="135.8" y="551.6" font-size="7.4" font-weight="normal" fill="#222" stroke="#222" stroke-width="0.25" textLength="9.6" lengthAdjust="spacingAndGlyphs" transform="rotate(-90 135.8 551.6)">10<tspan dy="-3.4" font-size="6.2">0</tspan></text>
<text x="155.6" y="558.3" font-size="7.4" font-weight="normal" fill="#222" stroke="#222" stroke-width="0.25" textLength="9.6" lengthAdjust="spacingAndGlyphs">10<tspan dy="-3.4" font-size="6.2">1</tspan></text>
<text x="135.8" y="535.9" font-size="7.4" font-weight="normal" fill="#222" stroke="#222" stroke-width="0.25" textLength="9.6" lengthAdjust="spacingAndGlyphs" transform="rotate(-90 135.8 535.9)">10<tspan dy="-3.4" font-size="6.2">1</tspan></text>
<text x="174.3" y="558.3" font-size="7.4" font-weight="normal" fill="#222" stroke="#222" stroke-width="0.25" textLength="9.6" lengthAdjust="spacingAndGlyphs">10<tspan dy="-3.4" font-size="6.2">2</tspan></text>
<text x="135.8" y="520.2" font-size="7.4" font-weight="normal" fill="#222" stroke="#222" stroke-width="0.25" textLength="9.6" lengthAdjust="spacingAndGlyphs" transform="rotate(-90 135.8 520.2)">10<tspan dy="-3.4" font-size="6.2">2</tspan></text>
<text x="193.1" y="558.3" font-size="7.4" font-weight="normal" fill="#222" stroke="#222" stroke-width="0.25" textLength="9.6" lengthAdjust="spacingAndGlyphs">10<tspan dy="-3.4" font-size="6.2">3</tspan></text>
<text x="135.8" y="504.5" font-size="7.4" font-weight="normal" fill="#222" stroke="#222" stroke-width="0.25" textLength="9.6" lengthAdjust="spacingAndGlyphs" transform="rotate(-90 135.8 504.5)">10<tspan dy="-3.4" font-size="6.2">3</tspan></text>
<text x="211.8" y="558.3" font-size="7.4" font-weight="normal" fill="#222" stroke="#222" stroke-width="0.25" textLength="9.6" lengthAdjust="spacingAndGlyphs">10<tspan dy="-3.4" font-size="6.2">4</tspan></text>
<text x="135.8" y="488.8" font-size="7.4" font-weight="normal" fill="#222" stroke="#222" stroke-width="0.25" textLength="9.6" lengthAdjust="spacingAndGlyphs" transform="rotate(-90 135.8 488.8)">10<tspan dy="-3.4" font-size="6.2">4</tspan></text>
<text x="145.0" y="494.8" font-size="11" font-weight="bold" fill="#111" stroke="#111" stroke-width="0.3" textLength="17.4" lengthAdjust="spacingAndGlyphs" >0.2</text>
<text x="213.0" y="494.8" font-size="11" font-weight="bold" fill="#111" stroke="#111" stroke-width="0.3" text-anchor="end" textLength="17.4" lengthAdjust="spacingAndGlyphs" >0.8</text>
<text x="145.0" y="544.2" font-size="11" font-weight="bold" fill="#111" stroke="#111" stroke-width="0.3" textLength="24.3" lengthAdjust="spacingAndGlyphs" >42.3</text>
<text x="213.0" y="544.2" font-size="11" font-weight="bold" fill="#111" stroke="#111" stroke-width="0.3" text-anchor="end" textLength="24.3" lengthAdjust="spacingAndGlyphs" >56.8</text>
<text x="223.7" y="438.3" font-size="13" font-weight="bold" fill="#111" stroke="#111" stroke-width="0.3" textLength="24.2" lengthAdjust="spacingAndGlyphs" >H60</text>
<text x="222.6" y="513.8" font-size="13" font-weight="bold" fill="#111" stroke="#111" stroke-width="0.3" textLength="25.4" lengthAdjust="spacingAndGlyphs" >VSV</text>
<text x="20.6" y="510" font-size="11" font-weight="bold" fill="#111" stroke="#111" stroke-width="0.3" textLength="57.5" lengthAdjust="spacingAndGlyphs" transform="rotate(-90 20.6 510)" >IFN-g-FITC</text>
<path d="M17.6 412.5V445.6M17.6 515.8V545.8" stroke="#111" stroke-width="1.3"/>
<text x="96.2" y="564.9" font-size="10.3" font-weight="bold" fill="#111" stroke="#111" stroke-width="0.3" textLength="51.3" lengthAdjust="spacingAndGlyphs" >CD8-APC</text>
<text x="307.5" y="399.2" font-size="13" fill="#111" textLength="49.3" lengthAdjust="spacingAndGlyphs">1<tspan dy="-5" font-size="7">o</tspan><tspan dy="5"> Peak</tspan></text>
<text x="443.6" y="399.5" font-size="13" fill="#111" textLength="49.3" lengthAdjust="spacingAndGlyphs">2<tspan dy="-5" font-size="7">o</tspan><tspan dy="5"> Peak</tspan></text>
<rect x="295" y="406.4" width="76.19999999999999" height="64.90000000000003" fill="#fff" stroke="none"/>
<path transform="translate(0.45 0.45) scale(.5)" d="M646 940h0m2-17h0m3 1h0m1 15h0m4-45h0m1 45h0m1-32h0m1-9h0m1 22h0m2-18h0m0 27h0m0 10h0m1-41h0m0 17h0m0 17h0m1-36h0m0 24h0m0 10h0m0 9h0m0 1h0m1-26h0m0 4h0m0 1h0m0 18h0m1-30h0m0 1h0m0 6h0m0 2h0m0 9h0m0 2h0m0 11h0m0 1h0m1-53h0m0 37h0m0 3h0m0 11h0m0 3h0m1-41h0m0 6h0m0 1h0m0 8h0m0 3h0m0 4h0m0 3h0m0 1h0m0 5h0m0 9h0m1-45h0m0 19h0m0 1h0m0 1h0m0 2h0m0 2h0m0 4h0m0 15h0m0 1h0m1-31h0m0 3h0m0 7h0m0 1h0m0 1h0m0 2h0m0 4h0m0 12h0m0 1h0m1-31h0m0 4h0m0 5h0m0 4h0m0 3h0m0 3h0m0 6h0m0 1h0m0 4h0m1-53h0m0 17h0m0 1h0m0 1h0m0 5h0m0 4h0m0 5h0m0 3h0m0 1h0m0 1h0m0 3h0m0 6h0m0 6h0m0 1h0m1-36h0m0 3h0m0 2h0m0 1h0m0 1h0m0 4h0m0 3h0m0 2h0m0 1h0m0 1h0m0 2h0m0 4h0m0 1h0m0 1h0m0 2h0m0 5h0m0 2h0m1-30h0m0 8h0m0 2h0m0 9h0m0 3h0m0 4h0m0 4h0m0 1h0m1-34h0m0 2h0m0 1h0m0 9h0m0 3h0m0 4h0m0 2h0m0 3h0m0 3h0m0 2h0m0 1h0m0 1h0m0 3h0m1-33h0m0 1h0m0 2h0m0 2h0m0 8h0m0 2h0m0 1h0m0 4h0m0 2h0m0 2h0m0 2h0m0 3h0m0 3h0m0 1h0m1-44h0m0 2h0m0 15h0m0 2h0m0 2h0m0 1h0m0 2h0m0 1h0m0 1h0m0 4h0m0 1h0m0 2h0m0 8h0m0 1h0m0 2h0m1-36h0m0 3h0m0 1h0m0 2h0m0 2h0m0 2h0m0 2h0m0 2h0m0 1h0m0 7h0m0 3h0m0 1h0m0 1h0m0 2h0m0 4h0m0 3h0m1-49h0m0 12h0m0 6h0m0 8h0m0 1h0m0 1h0m0 1h0m0 3h0m0 1h0m0 3h0m0 2h0m0 9h0m0 1h0m0 1h0m0 1h0m1-68h0m0 8h0m0 7h0m0 1h0m0 21h0m0 2h0m0 1h0m0 6h0m0 3h0m0 3h0m0 3h0m0 3h0m0 2h0m0 1h0m0 4h0m0 1h0m0 1h0m0 1h0m1-35h0m0 6h0m0 2h0m0 1h0m0 1h0m0 2h0m0 6h0m0 4h0m0 5h0m0 6h0m0 1h0m0 1h0m1-78h0m0 41h0m0 4h0m0 1h0m0 2h0m0 4h0m0 1h0m0 2h0m0 1h0m0 2h0m0 1h0m0 2h0m0 1h0m0 1h0m0 4h0m0 3h0m0 6h0m0 1h0m1-83h0m0 4h0m0 1h0m0 4h0m0 8h0m0 2h0m0 2h0m0 5h0m0 3h0m0 1h0m0 20h0m0 4h0m0 3h0m0 5h0m0 2h0m0 1h0m0 6h0m0 5h0m0 1h0m0 1h0m0 1h0m0 3h0m0 1h0m0 1h0m1-65h0m0 1h0m0 2h0m0 2h0m0 4h0m0 8h0m0 1h0m0 18h0m0 3h0m0 2h0m0 1h0m0 2h0m0 5h0m0 1h0m0 3h0m0 9h0m0 1h0m1-78h0m0 13h0m0 4h0m0 1h0m0 4h0m0 4h0m0 20h0m0 5h0m0 3h0m0 2h0m0 3h0m0 2h0m0 1h0m0 2h0m0 1h0m0 6h0m0 7h0m0 1h0m1-71h0m0 8h0m0 4h0m0 6h0m0 1h0m0 24h0m0 5h0m0 15h0m0 3h0m0 1h0m0 2h0m0 1h0m0 1h0m1-77h0m0 8h0m0 2h0m0 4h0m0 2h0m0 1h0m0 4h0m0 24h0m0 1h0m0 5h0m0 4h0m0 5h0m0 9h0m0 7h0m0 1h0m1-84h0m0 3h0m0 3h0m0 5h0m0 2h0m0 15h0m0 3h0m0 6h0m0 5h0m0 8h0m0 3h0m0 2h0m0 1h0m0 6h0m0 1h0m0 2h0m0 3h0m0 3h0m0 1h0m0 2h0m0 4h0m0 4h0m0 2h0m1-64h0m0 9h0m0 15h0m0 7h0m0 5h0m0 1h0m0 4h0m0 8h0m0 2h0m0 8h0m0 4h0m0 1h0m1-85h0m0 9h0m0 6h0m0 7h0m0 7h0m0 35h0m0 1h0m0 3h0m0 1h0m0 6h0m0 5h0m0 4h0m0 1h0m1-73h0m0 11h0m0 2h0m0 2h0m0 4h0m0 4h0m0 3h0m0 17h0m0 7h0m0 3h0m0 12h0m0 1h0m0 4h0m0 2h0m1-77h0m0 28h0m0 9h0m0 10h0m0 1h0m0 5h0m0 3h0m0 4h0m0 1h0m0 4h0m0 12h0m1-76h0m0 6h0m0 34h0m0 14h0m0 3h0m0 19h0m0 1h0m1-64h0m0 10h0m0 1h0m0 4h0m1-24h0m0 5h0m0 19h0m0 7h0m0 10h0m0 33h0m1-88h0m0 15h0m0 10h0m0 5h0m0 26h0m0 25h0m0 6h0m1-70h0m0 2h0m0 21h0m1 15h0m0 12h0m0 8h0m0 10h0m1 1h0m2-11h0m0 10h0m0 2h0m0 1h0m1-68h0m0 67h0m1-1h0m0 1h0m1-2h0m0 1h0m1-19h0m2 19h0m1-35h0m3-19h0m2 25h0m1 30h0m6-17h0" fill="none" stroke="#2a2a2a" stroke-width="1.8" stroke-linecap="square"/>
<path d="M295 406.4H371.2V471.3" stroke="#555" stroke-width="0.9" fill="none"/>
<path d="M328.4 406.4V471.3M295 448.4H371.2" stroke="#3a3a3a" stroke-width="0.95" fill="none"/>
<path d="M295 405.9V471.3H371.7" stroke="#111" stroke-width="1.35" fill="none"/>
<path d="M295.0 471.3v2.4M295 471.3h-2.4M300.7 471.3v1.2M295 466.4h-1.2M304.1 471.3v1.2M295 463.6h-1.2M306.5 471.3v1.2M295 461.5h-1.2M308.3 471.3v1.2M295 460.0h-1.2M309.8 471.3v1.2M295 458.7h-1.2M311.1 471.3v1.2M295 457.6h-1.2M312.2 471.3v1.2M295 456.6h-1.2M313.2 471.3v1.2M295 455.8h-1.2M314.1 471.3v2.4M295 455.1h-2.4M319.8 471.3v1.2M295 450.2h-1.2M323.1 471.3v1.2M295 447.3h-1.2M325.5 471.3v1.2M295 445.3h-1.2M327.4 471.3v1.2M295 443.7h-1.2M328.9 471.3v1.2M295 442.4h-1.2M330.1 471.3v1.2M295 441.4h-1.2M331.3 471.3v1.2M295 440.4h-1.2M332.2 471.3v1.2M295 439.6h-1.2M333.1 471.3v2.4M295 438.9h-2.4M338.8 471.3v1.2M295 434.0h-1.2M342.2 471.3v1.2M295 431.1h-1.2M344.6 471.3v1.2M295 429.1h-1.2M346.4 471.3v1.2M295 427.5h-1.2M347.9 471.3v1.2M295 426.2h-1.2M349.2 471.3v1.2M295 425.1h-1.2M350.3 471.3v1.2M295 424.2h-1.2M351.3 471.3v1.2M295 423.4h-1.2M352.1 471.3v2.4M295 422.6h-2.4M357.9 471.3v1.2M295 417.7h-1.2M361.2 471.3v1.2M295 414.9h-1.2M363.6 471.3v1.2M295 412.9h-1.2M365.5 471.3v1.2M295 411.3h-1.2M367.0 471.3v1.2M295 410.0h-1.2M368.2 471.3v1.2M295 408.9h-1.2M369.4 471.3v1.2M295 408.0h-1.2M370.3 471.3v1.2M295 407.1h-1.2M371.2 471.3v2.4M295 406.4h-2.4" stroke="#1a1a1a" stroke-width="0.7" fill="none"/>
<text x="292.8" y="478.9" font-size="4.4" font-weight="bold" fill="#333">10<tspan dy="-1.8" font-size="3.5">0</tspan></text>
<text x="291.8" y="473.5" font-size="4.4" font-weight="bold" fill="#333" transform="rotate(-90 291.8 473.5)">10<tspan dy="-1.8" font-size="3.5">0</tspan></text>
<text x="311.9" y="478.9" font-size="4.4" font-weight="bold" fill="#333">10<tspan dy="-1.8" font-size="3.5">1</tspan></text>
<text x="291.8" y="457.3" font-size="4.4" font-weight="bold" fill="#333" transform="rotate(-90 291.8 457.3)">10<tspan dy="-1.8" font-size="3.5">1</tspan></text>
<text x="330.9" y="478.9" font-size="4.4" font-weight="bold" fill="#333">10<tspan dy="-1.8" font-size="3.5">2</tspan></text>
<text x="291.8" y="441.1" font-size="4.4" font-weight="bold" fill="#333" transform="rotate(-90 291.8 441.1)">10<tspan dy="-1.8" font-size="3.5">2</tspan></text>
<text x="349.9" y="478.9" font-size="4.4" font-weight="bold" fill="#333">10<tspan dy="-1.8" font-size="3.5">3</tspan></text>
<text x="291.8" y="424.8" font-size="4.4" font-weight="bold" fill="#333" transform="rotate(-90 291.8 424.8)">10<tspan dy="-1.8" font-size="3.5">3</tspan></text>
<text x="369.0" y="478.9" font-size="4.4" font-weight="bold" fill="#333">10<tspan dy="-1.8" font-size="3.5">4</tspan></text>
<text x="291.8" y="408.6" font-size="4.4" font-weight="bold" fill="#333" transform="rotate(-90 291.8 408.6)">10<tspan dy="-1.8" font-size="3.5">4</tspan></text>
<text x="301.8" y="418.29999999999995" font-size="10.4" font-weight="bold" fill="#111" stroke="#111" stroke-width="0.3" textLength="17.9" lengthAdjust="spacingAndGlyphs" >0.0</text>
<text x="369.59999999999997" y="418.29999999999995" font-size="10.4" font-weight="bold" fill="#111" stroke="#111" stroke-width="0.3" text-anchor="end" textLength="17.9" lengthAdjust="spacingAndGlyphs" >9.7</text>
<text x="301.8" y="466.2" font-size="10.4" font-weight="bold" fill="#111" stroke="#111" stroke-width="0.3" textLength="17.9" lengthAdjust="spacingAndGlyphs" >0.1</text>
<text x="369.59999999999997" y="466.2" font-size="10.4" font-weight="bold" fill="#111" stroke="#111" stroke-width="0.3" text-anchor="end" textLength="25.1" lengthAdjust="spacingAndGlyphs" >90.2</text>
<rect x="435" y="405.8" width="75.39999999999998" height="65.5" fill="#fff" stroke="none"/>
<path transform="translate(0.45 0.45) scale(.5)" d="M938 912h0m0 27h0m2 1h0m1-15h0m1-17h0m0 32h0m1-40h0m0 39h0m1-32h0m1 3h0m0 19h0m0 9h0m1-21h0m0 5h0m0 4h0m0 14h0m1-38h0m0 23h0m0 3h0m0 12h0m1-34h0m0 4h0m0 2h0m0 11h0m0 15h0m1-32h0m0 5h0m0 2h0m0 2h0m0 1h0m0 4h0m0 7h0m0 11h0m0 1h0m1-40h0m0 4h0m0 4h0m0 4h0m0 1h0m0 1h0m0 2h0m0 5h0m0 4h0m0 14h0m1-35h0m0 2h0m0 3h0m0 1h0m0 1h0m0 1h0m0 2h0m0 4h0m0 1h0m0 1h0m0 12h0m1-26h0m0 1h0m0 2h0m0 1h0m0 3h0m0 3h0m0 1h0m0 1h0m0 3h0m0 1h0m0 11h0m0 6h0m1-40h0m0 1h0m0 1h0m0 1h0m0 2h0m0 2h0m0 1h0m0 2h0m0 1h0m0 1h0m0 2h0m0 1h0m0 1h0m0 1h0m0 1h0m0 2h0m0 1h0m0 2h0m0 4h0m0 5h0m0 9h0m1-42h0m0 3h0m0 4h0m0 1h0m0 1h0m0 2h0m0 1h0m0 1h0m0 1h0m0 1h0m0 1h0m0 3h0m0 1h0m0 4h0m0 1h0m0 16h0m1-40h0m0 3h0m0 1h0m0 1h0m0 1h0m0 1h0m0 2h0m0 1h0m0 1h0m0 1h0m0 1h0m0 1h0m0 1h0m0 1h0m0 2h0m0 1h0m0 2h0m0 20h0m1-44h0m0 3h0m0 1h0m0 3h0m0 5h0m0 1h0m0 1h0m0 1h0m0 1h0m0 2h0m0 3h0m0 1h0m0 2h0m0 2h0m0 3h0m0 5h0m0 6h0m0 1h0m1-38h0m0 2h0m0 3h0m0 1h0m0 3h0m0 1h0m0 1h0m0 1h0m0 1h0m0 1h0m0 1h0m0 2h0m0 1h0m0 2h0m0 1h0m0 3h0m0 5h0m0 2h0m0 5h0m0 4h0m0 1h0m1-43h0m0 1h0m0 2h0m0 1h0m0 1h0m0 3h0m0 2h0m0 1h0m0 1h0m0 1h0m0 1h0m0 1h0m0 1h0m0 1h0m0 2h0m0 2h0m0 1h0m0 3h0m0 5h0m0 13h0m1-45h0m0 4h0m0 4h0m0 2h0m0 1h0m0 1h0m0 1h0m0 1h0m0 1h0m0 3h0m0 1h0m0 1h0m0 2h0m0 1h0m0 1h0m0 1h0m0 2h0m0 1h0m0 4h0m0 2h0m0 3h0m0 6h0m0 1h0m1-40h0m0 1h0m0 4h0m0 2h0m0 1h0m0 1h0m0 1h0m0 1h0m0 2h0m0 1h0m0 1h0m0 1h0m0 1h0m0 2h0m0 1h0m0 3h0m0 7h0m0 11h0m1-39h0m0 1h0m0 2h0m0 4h0m0 1h0m0 2h0m0 1h0m0 2h0m0 4h0m0 1h0m0 2h0m0 1h0m0 1h0m0 3h0m0 1h0m0 6h0m0 1h0m0 4h0m1-63h0m0 20h0m0 3h0m0 2h0m0 1h0m0 1h0m0 5h0m0 1h0m0 1h0m0 1h0m0 3h0m0 1h0m0 1h0m0 1h0m0 2h0m0 1h0m0 2h0m0 1h0m0 4h0m0 14h0m1-59h0m0 4h0m0 15h0m0 2h0m0 2h0m0 2h0m0 3h0m0 2h0m0 1h0m0 1h0m0 4h0m0 2h0m0 5h0m0 7h0m0 9h0m1-47h0m0 1h0m0 1h0m0 3h0m0 3h0m0 4h0m0 1h0m0 2h0m0 2h0m0 2h0m0 1h0m0 1h0m0 1h0m0 1h0m0 1h0m0 4h0m0 3h0m0 6h0m0 10h0m1-62h0m0 3h0m0 1h0m0 4h0m0 9h0m0 3h0m0 1h0m0 1h0m0 3h0m0 2h0m0 1h0m0 1h0m0 5h0m0 1h0m0 1h0m0 1h0m0 2h0m0 3h0m0 3h0m0 1h0m0 3h0m0 2h0m1-47h0m0 3h0m0 4h0m0 2h0m0 10h0m0 3h0m0 7h0m0 1h0m0 1h0m0 2h0m0 1h0m0 3h0m0 1h0m0 2h0m0 3h0m0 9h0m0 5h0m0 1h0m1-63h0m0 2h0m0 23h0m0 10h0m0 5h0m0 2h0m0 1h0m0 2h0m0 7h0m0 2h0m1-63h0m0 14h0m0 10h0m0 19h0m0 1h0m0 2h0m0 3h0m0 13h0m0 2h0m0 8h0m1-62h0m0 21h0m0 10h0m0 7h0m0 10h0m0 3h0m1-51h0m0 19h0m0 5h0m0 2h0m0 14h0m0 4h0m0 17h0m0 1h0m1-71h0m0 1h0m0 4h0m0 4h0m0 5h0m0 3h0m0 1h0m0 2h0m0 1h0m0 4h0m0 14h0m0 4h0m0 2h0m0 27h0m1-57h0m0 4h0m0 1h0m0 2h0m0 8h0m0 12h0m0 11h0m1-60h0m0 9h0m0 1h0m0 2h0m0 1h0m0 1h0m0 2h0m0 8h0m0 7h0m0 18h0m0 8h0m0 6h0m0 15h0m1-67h0m0 1h0m0 29h0m0 19h0m0 12h0m1-74h0m0 14h0m0 1h0m0 1h0m0 2h0m0 1h0m0 7h0m0 34h0m0 11h0m0 10h0m1-74h0m0 5h0m0 1h0m0 2h0m0 66h0m1-69h0m0 12h0m0 36h0m0 11h0m0 9h0m1-36h0m1-39h0m0 13h0m0 55h0m0 6h0m1-76h0m0 7h0m0 10h0m0 49h0m0 11h0m2-76h0m1-18h0m0 8h0m0 16h0m0 14h0m0 56h0" fill="none" stroke="#2a2a2a" stroke-width="1.8" stroke-linecap="square"/>
<path d="M435 405.8H510.4V471.3" stroke="#555" stroke-width="0.9" fill="none"/>
<path d="M466.7 405.8V471.3M435 448.4H510.4" stroke="#3a3a3a" stroke-width="0.95" fill="none"/>
<path d="M435 405.3V471.3H510.9" stroke="#111" stroke-width="1.35" fill="none"/>
<path d="M435.0 471.3v2.4M435 471.3h-2.4M440.7 471.3v1.2M435 466.4h-1.2M444.0 471.3v1.2M435 463.5h-1.2M446.3 471.3v1.2M435 461.4h-1.2M448.2 471.3v1.2M435 459.9h-1.2M449.7 471.3v1.2M435 458.6h-1.2M450.9 471.3v1.2M435 457.5h-1.2M452.0 471.3v1.2M435 456.5h-1.2M453.0 471.3v1.2M435 455.7h-1.2M453.9 471.3v2.4M435 454.9h-2.4M459.5 471.3v1.2M435 450.0h-1.2M462.8 471.3v1.2M435 447.1h-1.2M465.2 471.3v1.2M435 445.1h-1.2M467.0 471.3v1.2M435 443.5h-1.2M468.5 471.3v1.2M435 442.2h-1.2M469.8 471.3v1.2M435 441.1h-1.2M470.9 471.3v1.2M435 440.1h-1.2M471.8 471.3v1.2M435 439.3h-1.2M472.7 471.3v2.4M435 438.6h-2.4M478.4 471.3v1.2M435 433.6h-1.2M481.7 471.3v1.2M435 430.7h-1.2M484.0 471.3v1.2M435 428.7h-1.2M485.9 471.3v1.2M435 427.1h-1.2M487.4 471.3v1.2M435 425.8h-1.2M488.6 471.3v1.2M435 424.7h-1.2M489.7 471.3v1.2M435 423.8h-1.2M490.7 471.3v1.2M435 422.9h-1.2M491.5 471.3v2.4M435 422.2h-2.4M497.2 471.3v1.2M435 417.2h-1.2M500.5 471.3v1.2M435 414.4h-1.2M502.9 471.3v1.2M435 412.3h-1.2M504.7 471.3v1.2M435 410.7h-1.2M506.2 471.3v1.2M435 409.4h-1.2M507.5 471.3v1.2M435 408.3h-1.2M508.6 471.3v1.2M435 407.4h-1.2M509.5 471.3v1.2M435 406.5h-1.2M510.4 471.3v2.4M435 405.8h-2.4" stroke="#1a1a1a" stroke-width="0.7" fill="none"/>
<text x="432.8" y="478.9" font-size="4.4" font-weight="bold" fill="#333">10<tspan dy="-1.8" font-size="3.5">0</tspan></text>
<text x="431.8" y="473.5" font-size="4.4" font-weight="bold" fill="#333" transform="rotate(-90 431.8 473.5)">10<tspan dy="-1.8" font-size="3.5">0</tspan></text>
<text x="451.7" y="478.9" font-size="4.4" font-weight="bold" fill="#333">10<tspan dy="-1.8" font-size="3.5">1</tspan></text>
<text x="431.8" y="457.1" font-size="4.4" font-weight="bold" fill="#333" transform="rotate(-90 431.8 457.1)">10<tspan dy="-1.8" font-size="3.5">1</tspan></text>
<text x="470.5" y="478.9" font-size="4.4" font-weight="bold" fill="#333">10<tspan dy="-1.8" font-size="3.5">2</tspan></text>
<text x="431.8" y="440.8" font-size="4.4" font-weight="bold" fill="#333" transform="rotate(-90 431.8 440.8)">10<tspan dy="-1.8" font-size="3.5">2</tspan></text>
<text x="489.3" y="478.9" font-size="4.4" font-weight="bold" fill="#333">10<tspan dy="-1.8" font-size="3.5">3</tspan></text>
<text x="431.8" y="424.4" font-size="4.4" font-weight="bold" fill="#333" transform="rotate(-90 431.8 424.4)">10<tspan dy="-1.8" font-size="3.5">3</tspan></text>
<text x="508.2" y="478.9" font-size="4.4" font-weight="bold" fill="#333">10<tspan dy="-1.8" font-size="3.5">4</tspan></text>
<text x="431.8" y="408.0" font-size="4.4" font-weight="bold" fill="#333" transform="rotate(-90 431.8 408.0)">10<tspan dy="-1.8" font-size="3.5">4</tspan></text>
<text x="437.7" y="418.0" font-size="10.4" font-weight="bold" fill="#111" stroke="#111" stroke-width="0.3" textLength="17.9" lengthAdjust="spacingAndGlyphs" >0.0</text>
<text x="506.2" y="418.0" font-size="10.4" font-weight="bold" fill="#111" stroke="#111" stroke-width="0.3" text-anchor="end" textLength="25.1" lengthAdjust="spacingAndGlyphs" >11.6</text>
<text x="437.7" y="466.7" font-size="10.4" font-weight="bold" fill="#111" stroke="#111" stroke-width="0.3" textLength="17.9" lengthAdjust="spacingAndGlyphs" >0.1</text>
<text x="506.2" y="466.7" font-size="10.4" font-weight="bold" fill="#111" stroke="#111" stroke-width="0.3" text-anchor="end" textLength="25.1" lengthAdjust="spacingAndGlyphs" >88.3</text>
<rect x="296.3" y="482" width="76.5" height="66.20000000000005" fill="#fff" stroke="none"/>
<path transform="translate(0.45 0.45) scale(.5)" d="M654 1071h0m1 12h0m1 10h0m1-23h0m1-14h0m1 31h0m2-47h0m0 43h0m1 7h0m1-12h0m1 14h0m1-33h0m0 34h0m1-36h0m0 15h0m0 1h0m0 5h0m0 5h0m0 10h0m1-39h0m0 5h0m0 4h0m0 6h0m0 11h0m0 11h0m1-28h0m0 4h0m0 9h0m0 4h0m0 2h0m0 1h0m0 5h0m1-24h0m0 4h0m0 2h0m0 1h0m0 2h0m0 1h0m0 7h0m0 5h0m0 3h0m1-20h0m0 6h0m0 6h0m0 3h0m0 1h0m0 8h0m1-38h0m0 2h0m0 4h0m0 2h0m0 2h0m0 2h0m0 3h0m0 2h0m0 1h0m0 1h0m0 3h0m0 2h0m0 3h0m0 2h0m0 2h0m1-27h0m0 4h0m0 6h0m0 4h0m0 2h0m0 3h0m0 1h0m0 3h0m0 1h0m0 1h0m0 5h0m1-27h0m0 6h0m0 2h0m0 4h0m0 1h0m0 1h0m0 2h0m0 1h0m0 9h0m0 2h0m0 3h0m1-34h0m0 1h0m0 7h0m0 1h0m0 1h0m0 3h0m0 1h0m0 1h0m0 2h0m0 2h0m0 2h0m0 1h0m0 1h0m0 2h0m0 4h0m0 3h0m0 2h0m1-34h0m0 4h0m0 1h0m0 1h0m0 1h0m0 1h0m0 1h0m0 2h0m0 3h0m0 2h0m0 1h0m0 1h0m0 4h0m0 2h0m0 2h0m0 7h0m0 1h0m1-28h0m0 1h0m0 2h0m0 2h0m0 2h0m0 1h0m0 2h0m0 1h0m0 2h0m0 1h0m0 3h0m0 2h0m0 3h0m0 2h0m0 2h0m0 2h0m1-33h0m0 4h0m0 2h0m0 1h0m0 3h0m0 1h0m0 1h0m0 2h0m0 2h0m0 2h0m0 1h0m0 1h0m0 2h0m0 1h0m0 1h0m0 1h0m0 2h0m0 2h0m0 1h0m0 1h0m0 1h0m0 1h0m1-38h0m0 2h0m0 2h0m0 1h0m0 2h0m0 1h0m0 1h0m0 5h0m0 1h0m0 1h0m0 3h0m0 1h0m0 1h0m0 1h0m0 2h0m0 1h0m0 1h0m0 1h0m0 2h0m0 7h0m0 2h0m1-38h0m0 6h0m0 1h0m0 2h0m0 3h0m0 1h0m0 2h0m0 1h0m0 4h0m0 2h0m0 1h0m0 1h0m0 7h0m0 6h0m0 1h0m1-30h0m0 1h0m0 1h0m0 4h0m0 1h0m0 4h0m0 1h0m0 2h0m0 4h0m0 2h0m0 3h0m0 2h0m0 2h0m0 2h0m0 1h0m1-37h0m0 4h0m0 2h0m0 2h0m0 1h0m0 1h0m0 4h0m0 2h0m0 3h0m0 2h0m0 1h0m0 1h0m0 6h0m0 4h0m0 1h0m0 3h0m1-37h0m0 3h0m0 3h0m0 4h0m0 2h0m0 1h0m0 1h0m0 1h0m0 7h0m0 1h0m0 3h0m0 1h0m0 1h0m0 8h0m0 1h0m1-51h0m0 11h0m0 2h0m0 19h0m0 4h0m0 2h0m0 5h0m0 1h0m0 7h0m1-60h0m0 3h0m0 15h0m0 8h0m0 4h0m0 1h0m0 8h0m0 7h0m0 5h0m0 3h0m0 6h0m1-65h0m0 23h0m0 9h0m0 5h0m0 1h0m0 3h0m0 2h0m0 5h0m0 2h0m0 5h0m0 1h0m0 5h0m1-62h0m0 1h0m0 7h0m0 5h0m0 16h0m0 3h0m0 2h0m0 2h0m0 1h0m0 6h0m0 2h0m0 2h0m0 1h0m0 7h0m0 2h0m0 2h0m0 6h0m0 1h0m1-57h0m0 3h0m0 10h0m0 9h0m0 14h0m0 1h0m0 5h0m0 5h0m0 2h0m0 4h0m1-60h0m0 7h0m0 1h0m0 8h0m0 13h0m0 6h0m0 4h0m0 2h0m0 11h0m0 1h0m0 9h0m0 1h0m1-78h0m0 5h0m0 6h0m0 1h0m0 2h0m0 3h0m0 8h0m0 1h0m0 12h0m0 3h0m0 4h0m0 3h0m0 3h0m0 6h0m0 8h0m0 2h0m0 9h0m1-71h0m0 3h0m0 1h0m0 6h0m0 6h0m0 8h0m0 5h0m0 21h0m0 7h0m0 11h0m0 2h0m0 2h0m0 1h0m1-63h0m0 4h0m0 43h0m0 4h0m0 10h0m1-76h0m0 10h0m0 7h0m0 10h0m0 4h0m1-48h0m0 23h0m0 6h0m0 11h0m0 19h0m0 12h0m0 7h0m0 11h0m1-81h0m0 12h0m0 14h0m0 9h0m0 40h0m1-61h0m0 7h0m0 1h0m0 4h0m0 6h0m0 3h0m0 3h0m0 1h0m0 13h0m0 2h0m0 10h0m0 22h0m0 2h0m1-75h0m0 3h0m0 4h0m0 7h0m0 2h0m0 5h0m0 7h0m1-30h0m0 28h0m1-25h0m0 1h0m0 6h0m0 66h0m1-73h0m0 4h0m0 1h0m1-11h0m0 1h0m0 3h0m0 6h0m1 1h0m0 3h0m0 10h0m1-26h0m0 8h0m0 64h0m1-54h0m1-20h0m4 70h0" fill="none" stroke="#2a2a2a" stroke-width="1.8" stroke-linecap="square"/>
<path d="M296.3 482H372.8V548.2" stroke="#555" stroke-width="0.9" fill="none"/>
<path d="M329.2 482V548.2M296.3 525.3H372.8" stroke="#3a3a3a" stroke-width="0.95" fill="none"/>
<path d="M296.3 481.5V548.2H373.3" stroke="#111" stroke-width="1.35" fill="none"/>
<path d="M296.3 548.2v2.4M296.3 548.2h-2.4M302.1 548.2v1.2M296.3 543.2h-1.2M305.4 548.2v1.2M296.3 540.3h-1.2M307.8 548.2v1.2M296.3 538.2h-1.2M309.7 548.2v1.2M296.3 536.6h-1.2M311.2 548.2v1.2M296.3 535.3h-1.2M312.5 548.2v1.2M296.3 534.2h-1.2M313.6 548.2v1.2M296.3 533.3h-1.2M314.5 548.2v1.2M296.3 532.4h-1.2M315.4 548.2v2.4M296.3 531.7h-2.4M321.2 548.2v1.2M296.3 526.7h-1.2M324.5 548.2v1.2M296.3 523.8h-1.2M326.9 548.2v1.2M296.3 521.7h-1.2M328.8 548.2v1.2M296.3 520.1h-1.2M330.3 548.2v1.2M296.3 518.8h-1.2M331.6 548.2v1.2M296.3 517.7h-1.2M332.7 548.2v1.2M296.3 516.7h-1.2M333.7 548.2v1.2M296.3 515.9h-1.2M334.6 548.2v2.4M296.3 515.1h-2.4M340.3 548.2v1.2M296.3 510.1h-1.2M343.7 548.2v1.2M296.3 507.2h-1.2M346.1 548.2v1.2M296.3 505.1h-1.2M347.9 548.2v1.2M296.3 503.5h-1.2M349.4 548.2v1.2M296.3 502.2h-1.2M350.7 548.2v1.2M296.3 501.1h-1.2M351.8 548.2v1.2M296.3 500.2h-1.2M352.8 548.2v1.2M296.3 499.3h-1.2M353.7 548.2v2.4M296.3 498.6h-2.4M359.4 548.2v1.2M296.3 493.6h-1.2M362.8 548.2v1.2M296.3 490.7h-1.2M365.2 548.2v1.2M296.3 488.6h-1.2M367.0 548.2v1.2M296.3 487.0h-1.2M368.6 548.2v1.2M296.3 485.7h-1.2M369.8 548.2v1.2M296.3 484.6h-1.2M370.9 548.2v1.2M296.3 483.6h-1.2M371.9 548.2v1.2M296.3 482.8h-1.2M372.8 548.2v2.4M296.3 482h-2.4" stroke="#1a1a1a" stroke-width="0.7" fill="none"/>
<text x="294.1" y="555.8" font-size="4.4" font-weight="bold" fill="#333">10<tspan dy="-1.8" font-size="3.5">0</tspan></text>
<text x="293.1" y="550.4" font-size="4.4" font-weight="bold" fill="#333" transform="rotate(-90 293.1 550.4)">10<tspan dy="-1.8" font-size="3.5">0</tspan></text>
<text x="313.2" y="555.8" font-size="4.4" font-weight="bold" fill="#333">10<tspan dy="-1.8" font-size="3.5">1</tspan></text>
<text x="293.1" y="533.9" font-size="4.4" font-weight="bold" fill="#333" transform="rotate(-90 293.1 533.9)">10<tspan dy="-1.8" font-size="3.5">1</tspan></text>
<text x="332.4" y="555.8" font-size="4.4" font-weight="bold" fill="#333">10<tspan dy="-1.8" font-size="3.5">2</tspan></text>
<text x="293.1" y="517.3" font-size="4.4" font-weight="bold" fill="#333" transform="rotate(-90 293.1 517.3)">10<tspan dy="-1.8" font-size="3.5">2</tspan></text>
<text x="351.5" y="555.8" font-size="4.4" font-weight="bold" fill="#333">10<tspan dy="-1.8" font-size="3.5">3</tspan></text>
<text x="293.1" y="500.8" font-size="4.4" font-weight="bold" fill="#333" transform="rotate(-90 293.1 500.8)">10<tspan dy="-1.8" font-size="3.5">3</tspan></text>
<text x="370.6" y="555.8" font-size="4.4" font-weight="bold" fill="#333">10<tspan dy="-1.8" font-size="3.5">4</tspan></text>
<text x="293.1" y="484.2" font-size="4.4" font-weight="bold" fill="#333" transform="rotate(-90 293.1 484.2)">10<tspan dy="-1.8" font-size="3.5">4</tspan></text>
<text x="301.90000000000003" y="494.2" font-size="10.4" font-weight="bold" fill="#111" stroke="#111" stroke-width="0.3" textLength="17.9" lengthAdjust="spacingAndGlyphs" >0.0</text>
<text x="369.1" y="494.2" font-size="10.4" font-weight="bold" fill="#111" stroke="#111" stroke-width="0.3" text-anchor="end" textLength="17.9" lengthAdjust="spacingAndGlyphs" >9.2</text>
<text x="301.90000000000003" y="544.1" font-size="10.4" font-weight="bold" fill="#111" stroke="#111" stroke-width="0.3" textLength="17.9" lengthAdjust="spacingAndGlyphs" >0.1</text>
<text x="369.1" y="544.1" font-size="10.4" font-weight="bold" fill="#111" stroke="#111" stroke-width="0.3" text-anchor="end" textLength="25.1" lengthAdjust="spacingAndGlyphs" >90.7</text>
<rect x="435" y="482.7" width="75.39999999999998" height="65.80000000000001" fill="#fff" stroke="none"/>
<path transform="translate(0.45 0.45) scale(.5)" d="M947 1035h0m2 14h0m0 39h0m0 6h0m1-29h0m1-9h0m0 17h0m0 9h0m0 4h0m1-20h0m0 4h0m0 13h0m0 7h0m0 3h0m1-45h0m0 7h0m0 7h0m0 3h0m0 2h0m0 1h0m0 1h0m0 5h0m0 10h0m0 4h0m0 3h0m0 3h0m1-37h0m0 5h0m0 7h0m0 9h0m0 3h0m0 5h0m0 4h0m0 3h0m1-39h0m0 6h0m0 8h0m0 2h0m0 1h0m0 2h0m0 1h0m0 1h0m0 1h0m0 2h0m0 3h0m0 12h0m1-50h0m0 14h0m0 2h0m0 6h0m0 2h0m0 1h0m0 1h0m0 2h0m0 1h0m0 2h0m0 4h0m0 1h0m0 10h0m0 5h0m1-39h0m0 3h0m0 6h0m0 1h0m0 2h0m0 1h0m0 3h0m0 2h0m0 1h0m0 1h0m0 1h0m0 1h0m0 4h0m0 2h0m0 1h0m0 1h0m0 1h0m0 1h0m0 6h0m0 1h0m1-44h0m0 2h0m0 12h0m0 2h0m0 2h0m0 2h0m0 1h0m0 1h0m0 1h0m0 2h0m0 2h0m0 1h0m0 1h0m0 4h0m0 3h0m0 1h0m0 2h0m0 1h0m0 1h0m0 2h0m0 1h0m1-72h0m0 17h0m0 15h0m0 2h0m0 6h0m0 1h0m0 3h0m0 2h0m0 1h0m0 1h0m0 2h0m0 1h0m0 1h0m0 2h0m0 1h0m0 5h0m0 2h0m0 4h0m0 3h0m0 1h0m0 1h0m0 1h0m1-61h0m0 20h0m0 3h0m0 3h0m0 1h0m0 5h0m0 2h0m0 2h0m0 2h0m0 1h0m0 1h0m0 1h0m0 1h0m0 2h0m0 2h0m0 1h0m0 1h0m0 1h0m0 1h0m0 1h0m0 1h0m0 1h0m0 4h0m0 2h0m0 1h0m0 1h0m1-70h0m0 22h0m0 3h0m0 12h0m0 1h0m0 2h0m0 1h0m0 2h0m0 1h0m0 1h0m0 1h0m0 2h0m0 2h0m0 1h0m0 1h0m0 2h0m0 1h0m0 1h0m0 1h0m0 2h0m0 2h0m0 2h0m0 3h0m0 1h0m0 2h0m1-55h0m0 11h0m0 1h0m0 8h0m0 3h0m0 2h0m0 1h0m0 1h0m0 1h0m0 3h0m0 2h0m0 1h0m0 2h0m0 2h0m0 1h0m0 1h0m0 1h0m0 1h0m0 1h0m0 1h0m0 2h0m0 5h0m0 1h0m0 1h0m0 3h0m1-88h0m0 47h0m0 5h0m0 8h0m0 2h0m0 2h0m0 1h0m0 1h0m0 2h0m0 2h0m0 3h0m0 1h0m0 1h0m0 3h0m0 1h0m0 4h0m0 1h0m0 1h0m0 2h0m1-61h0m0 17h0m0 6h0m0 4h0m0 1h0m0 3h0m0 1h0m0 2h0m0 3h0m0 3h0m0 1h0m0 2h0m0 1h0m0 2h0m0 1h0m0 1h0m0 1h0m0 4h0m0 2h0m1-67h0m0 2h0m0 5h0m0 2h0m0 1h0m0 2h0m0 1h0m0 1h0m0 2h0m0 4h0m0 6h0m0 9h0m0 2h0m0 6h0m0 2h0m0 4h0m0 1h0m0 1h0m0 3h0m0 1h0m0 2h0m0 1h0m0 11h0m0 1h0m0 2h0m1-75h0m0 8h0m0 2h0m0 8h0m0 2h0m0 3h0m0 3h0m0 23h0m0 1h0m0 6h0m0 1h0m0 9h0m0 10h0m0 1h0m1-93h0m0 17h0m0 5h0m0 1h0m0 3h0m0 1h0m0 1h0m0 1h0m0 2h0m0 1h0m0 1h0m0 2h0m0 3h0m0 1h0m0 1h0m0 3h0m0 6h0m0 4h0m0 1h0m0 1h0m0 24h0m0 13h0m0 1h0m1-75h0m0 5h0m0 3h0m0 1h0m0 1h0m0 2h0m0 3h0m0 1h0m0 4h0m0 3h0m0 2h0m0 15h0m0 1h0m0 33h0m1-87h0m0 9h0m0 5h0m0 2h0m0 1h0m0 3h0m0 2h0m0 1h0m0 3h0m0 1h0m0 3h0m0 3h0m0 1h0m0 1h0m0 1h0m0 1h0m0 14h0m1-34h0m0 4h0m0 2h0m0 1h0m0 3h0m0 2h0m0 2h0m0 1h0m0 1h0m0 3h0m0 1h0m1-23h0m0 6h0m0 1h0m0 4h0m0 1h0m0 1h0m0 2h0m0 1h0m0 1h0m0 1h0m0 4h0m0 2h0m0 3h0m0 36h0m1-74h0m0 4h0m0 2h0m0 1h0m0 4h0m0 1h0m0 3h0m0 1h0m0 1h0m0 1h0m0 2h0m0 1h0m0 1h0m0 1h0m0 1h0m0 2h0m0 1h0m0 1h0m0 2h0m0 3h0m0 4h0m0 1h0m0 4h0m0 6h0m1-49h0m0 2h0m0 4h0m0 5h0m0 5h0m0 1h0m0 1h0m0 1h0m0 1h0m0 1h0m0 1h0m0 1h0m0 1h0m0 1h0m0 1h0m0 1h0m0 1h0m0 1h0m0 1h0m0 2h0m0 2h0m0 2h0m0 1h0m0 13h0m0 12h0m0 14h0m1-68h0m0 5h0m0 2h0m0 1h0m0 2h0m0 1h0m0 1h0m0 1h0m0 1h0m0 1h0m0 1h0m0 1h0m0 1h0m0 2h0m0 1h0m0 1h0m0 2h0m0 1h0m0 1h0m0 2h0m0 18h0m0 5h0m1-47h0m0 2h0m0 1h0m0 2h0m0 1h0m0 1h0m0 1h0m0 1h0m0 2h0m0 1h0m0 1h0m0 1h0m0 1h0m0 1h0m0 1h0m0 1h0m0 1h0m0 1h0m0 3h0m0 2h0m1-34h0m0 8h0m0 4h0m0 4h0m0 1h0m0 2h0m0 2h0m0 3h0m0 1h0m0 1h0m0 2h0m0 10h0m0 10h0m1-42h0m0 7h0m0 1h0m0 1h0m0 2h0m0 2h0m0 1h0m0 1h0m0 1h0m0 1h0m0 1h0m0 1h0m0 1h0m0 1h0m0 2h0m0 1h0m0 1h0m0 2h0m0 6h0m0 1h0m1-26h0m0 5h0m0 1h0m0 5h0m0 6h0m1-29h0m0 10h0m0 1h0m0 2h0m0 4h0m0 1h0m0 1h0m0 1h0m0 3h0m1-3h0m1-1h0m0 3h0m3 1h0" fill="none" stroke="#2a2a2a" stroke-width="1.8" stroke-linecap="square"/>
<path d="M435 482.7H510.4V548.5" stroke="#555" stroke-width="0.9" fill="none"/>
<path d="M466.7 482.7V548.5M435 526.2H510.4" stroke="#3a3a3a" stroke-width="0.95" fill="none"/>
<path d="M435 482.2V548.5H510.9" stroke="#111" stroke-width="1.35" fill="none"/>
<path d="M435.0 548.5v2.4M435 548.5h-2.4M440.7 548.5v1.2M435 543.5h-1.2M444.0 548.5v1.2M435 540.7h-1.2M446.3 548.5v1.2M435 538.6h-1.2M448.2 548.5v1.2M435 537.0h-1.2M449.7 548.5v1.2M435 535.7h-1.2M450.9 548.5v1.2M435 534.6h-1.2M452.0 548.5v1.2M435 533.6h-1.2M453.0 548.5v1.2M435 532.8h-1.2M453.9 548.5v2.4M435 532.0h-2.4M459.5 548.5v1.2M435 527.1h-1.2M462.8 548.5v1.2M435 524.2h-1.2M465.2 548.5v1.2M435 522.1h-1.2M467.0 548.5v1.2M435 520.6h-1.2M468.5 548.5v1.2M435 519.2h-1.2M469.8 548.5v1.2M435 518.1h-1.2M470.9 548.5v1.2M435 517.2h-1.2M471.8 548.5v1.2M435 516.4h-1.2M472.7 548.5v2.4M435 515.6h-2.4M478.4 548.5v1.2M435 510.6h-1.2M481.7 548.5v1.2M435 507.8h-1.2M484.0 548.5v1.2M435 505.7h-1.2M485.9 548.5v1.2M435 504.1h-1.2M487.4 548.5v1.2M435 502.8h-1.2M488.6 548.5v1.2M435 501.7h-1.2M489.7 548.5v1.2M435 500.7h-1.2M490.7 548.5v1.2M435 499.9h-1.2M491.5 548.5v2.4M435 499.1h-2.4M497.2 548.5v1.2M435 494.2h-1.2M500.5 548.5v1.2M435 491.3h-1.2M502.9 548.5v1.2M435 489.2h-1.2M504.7 548.5v1.2M435 487.7h-1.2M506.2 548.5v1.2M435 486.3h-1.2M507.5 548.5v1.2M435 485.2h-1.2M508.6 548.5v1.2M435 484.3h-1.2M509.5 548.5v1.2M435 483.5h-1.2M510.4 548.5v2.4M435 482.7h-2.4" stroke="#1a1a1a" stroke-width="0.7" fill="none"/>
<text x="432.8" y="556.1" font-size="4.4" font-weight="bold" fill="#333">10<tspan dy="-1.8" font-size="3.5">0</tspan></text>
<text x="431.8" y="550.7" font-size="4.4" font-weight="bold" fill="#333" transform="rotate(-90 431.8 550.7)">10<tspan dy="-1.8" font-size="3.5">0</tspan></text>
<text x="451.7" y="556.1" font-size="4.4" font-weight="bold" fill="#333">10<tspan dy="-1.8" font-size="3.5">1</tspan></text>
<text x="431.8" y="534.2" font-size="4.4" font-weight="bold" fill="#333" transform="rotate(-90 431.8 534.2)">10<tspan dy="-1.8" font-size="3.5">1</tspan></text>
<text x="470.5" y="556.1" font-size="4.4" font-weight="bold" fill="#333">10<tspan dy="-1.8" font-size="3.5">2</tspan></text>
<text x="431.8" y="517.8" font-size="4.4" font-weight="bold" fill="#333" transform="rotate(-90 431.8 517.8)">10<tspan dy="-1.8" font-size="3.5">2</tspan></text>
<text x="489.3" y="556.1" font-size="4.4" font-weight="bold" fill="#333">10<tspan dy="-1.8" font-size="3.5">3</tspan></text>
<text x="431.8" y="501.3" font-size="4.4" font-weight="bold" fill="#333" transform="rotate(-90 431.8 501.3)">10<tspan dy="-1.8" font-size="3.5">3</tspan></text>
<text x="508.2" y="556.1" font-size="4.4" font-weight="bold" fill="#333">10<tspan dy="-1.8" font-size="3.5">4</tspan></text>
<text x="431.8" y="484.9" font-size="4.4" font-weight="bold" fill="#333" transform="rotate(-90 431.8 484.9)">10<tspan dy="-1.8" font-size="3.5">4</tspan></text>
<text x="437.7" y="494.7" font-size="10.4" font-weight="bold" fill="#111" stroke="#111" stroke-width="0.3" textLength="17.9" lengthAdjust="spacingAndGlyphs" >0.0</text>
<text x="505.79999999999995" y="494.7" font-size="10.4" font-weight="bold" fill="#111" stroke="#111" stroke-width="0.3" text-anchor="end" textLength="25.1" lengthAdjust="spacingAndGlyphs" >50.6</text>
<text x="437.7" y="543.6" font-size="10.4" font-weight="bold" fill="#111" stroke="#111" stroke-width="0.3" textLength="17.9" lengthAdjust="spacingAndGlyphs" >0.0</text>
<text x="505.79999999999995" y="543.6" font-size="10.4" font-weight="bold" fill="#111" stroke="#111" stroke-width="0.3" text-anchor="end" textLength="25.1" lengthAdjust="spacingAndGlyphs" >49.4</text>
<text x="286.3" y="511.7" font-size="11.6" font-weight="bold" fill="#111" stroke="#111" stroke-width="0.3" textLength="62" lengthAdjust="spacingAndGlyphs" transform="rotate(-90 286.3 511.7)" >H60-Tet-PE</text>
<path d="M281.7 416V447.3M281.7 514.6V543" stroke="#111" stroke-width="1.3"/>
<text x="380.4" y="433.2" font-size="10.6" font-weight="bold" fill="#111" stroke="#111" stroke-width="0.3" textLength="36.6" lengthAdjust="spacingAndGlyphs" >GK1.5</text>
<text x="375.7" y="511.4" font-size="10.6" font-weight="bold" fill="#111" stroke="#111" stroke-width="0.3" textLength="49.6" lengthAdjust="spacingAndGlyphs" >No Treat</text>
<path d="M378.7 440.3H420M414.3 436.90000000000003L420.3 440.3L414.3 443.7" fill="none" stroke="#1a1a1a" stroke-width="1.25"/>
<path d="M378.7 518.3H420M414.3 514.9L420.3 518.3L414.3 521.6999999999999" fill="none" stroke="#1a1a1a" stroke-width="1.25"/>
<text x="368.1" y="564.8" font-size="10.3" font-weight="bold" fill="#111" stroke="#111" stroke-width="0.3" textLength="65" lengthAdjust="spacingAndGlyphs" >CD11a-FITC</text>
</svg>
</body></html>
